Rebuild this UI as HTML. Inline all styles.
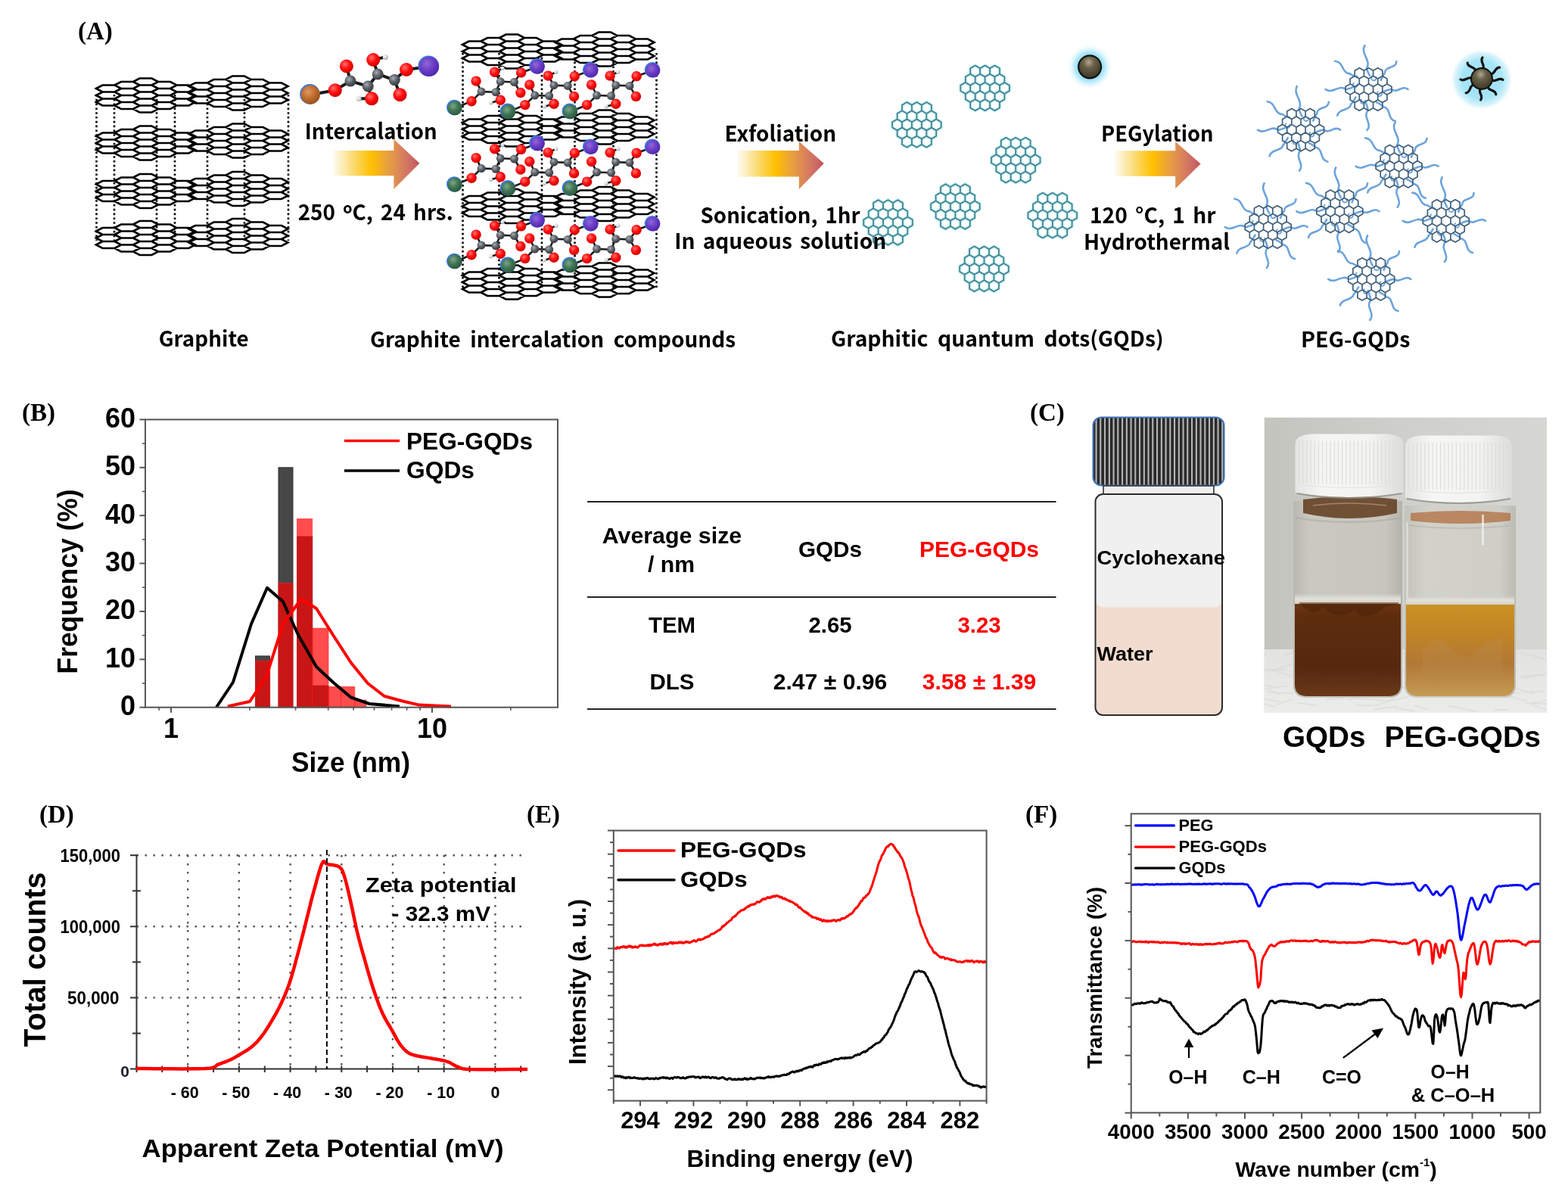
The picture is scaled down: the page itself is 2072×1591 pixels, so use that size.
<!DOCTYPE html>
<html><head><meta charset="utf-8"><title>PEG-GQDs figure</title>
<style>html,body{margin:0;padding:0;background:#fff;}svg{display:block;}</style></head>
<body><svg width="2072" height="1591" viewBox="0 0 2072 1591">
<rect width="2072" height="1591" fill="#fff"/>
<defs><radialGradient id="atO" cx="0.38" cy="0.35" r="0.65"><stop offset="0" stop-color="#ff7070"/><stop offset="0.55" stop-color="#ff0d0d"/><stop offset="1" stop-color="#d00000"/></radialGradient><radialGradient id="atC" cx="0.38" cy="0.35" r="0.65"><stop offset="0" stop-color="#a8adb3"/><stop offset="0.55" stop-color="#5a5f66"/><stop offset="1" stop-color="#3a3d42"/></radialGradient><radialGradient id="atH" cx="0.38" cy="0.35" r="0.65"><stop offset="0" stop-color="#ffffff"/><stop offset="0.55" stop-color="#d8dadc"/><stop offset="1" stop-color="#a0a4a8"/></radialGradient><radialGradient id="atG" cx="0.38" cy="0.35" r="0.65"><stop offset="0" stop-color="#7aa88a"/><stop offset="0.55" stop-color="#3f7352"/><stop offset="1" stop-color="#2c5a3e"/></radialGradient><radialGradient id="atP" cx="0.38" cy="0.35" r="0.65"><stop offset="0" stop-color="#8e6ad8"/><stop offset="0.55" stop-color="#6c3cc4"/><stop offset="1" stop-color="#5028b0"/></radialGradient><radialGradient id="atB" cx="0.38" cy="0.35" r="0.65"><stop offset="0" stop-color="#dc9a60"/><stop offset="0.55" stop-color="#c06c2e"/><stop offset="1" stop-color="#9a5420"/></radialGradient><linearGradient id="arrowg" x1="0" y1="0" x2="1" y2="0"><stop offset="0" stop-color="#fffaf0"/><stop offset="0.08" stop-color="#fdf0c8"/><stop offset="0.22" stop-color="#fbdc78"/><stop offset="0.44" stop-color="#ffc000"/><stop offset="0.62" stop-color="#e9a23c"/><stop offset="0.8" stop-color="#d8805e"/><stop offset="0.92" stop-color="#cc6868"/><stop offset="1" stop-color="#c4504c"/></linearGradient><radialGradient id="glow" cx="0.5" cy="0.5" r="0.5"><stop offset="0" stop-color="#8fdcf8"/><stop offset="0.6" stop-color="#a6e5fa"/><stop offset="1" stop-color="#ffffff" stop-opacity="0"/></radialGradient><radialGradient id="ballg" cx="0.45" cy="0.3" r="0.7"><stop offset="0" stop-color="#b0a890"/><stop offset="0.35" stop-color="#6a6248"/><stop offset="1" stop-color="#3a3526"/></radialGradient></defs>
<line x1="127.5" y1="125" x2="127.5" y2="318" stroke="#000" stroke-width="2.6" stroke-dasharray="2.6,3.2"/>
<line x1="151" y1="125" x2="151" y2="318" stroke="#000" stroke-width="2.6" stroke-dasharray="2.6,3.2"/>
<line x1="207" y1="125" x2="207" y2="318" stroke="#000" stroke-width="2.6" stroke-dasharray="2.6,3.2"/>
<line x1="231" y1="125" x2="231" y2="318" stroke="#000" stroke-width="2.6" stroke-dasharray="2.6,3.2"/>
<line x1="274" y1="125" x2="274" y2="318" stroke="#000" stroke-width="2.6" stroke-dasharray="2.6,3.2"/>
<line x1="323" y1="125" x2="323" y2="318" stroke="#000" stroke-width="2.6" stroke-dasharray="2.6,3.2"/>
<line x1="381" y1="125" x2="381" y2="318" stroke="#000" stroke-width="2.6" stroke-dasharray="2.6,3.2"/>
<path d="M127,117 135.5,112.5 151.5,112.5 160,117 151.5,121.5 135.5,121.5Z M127,126 135.5,121.5 151.5,121.5 160,126 151.5,130.5 135.5,130.5Z M127,135 135.5,130.5 151.5,130.5 160,135 151.5,139.5 135.5,139.5Z M151.5,112.5 160,108 176,108 184.5,112.5 176,117 160,117Z M151.5,121.5 160,117 176,117 184.5,121.5 176,126 160,126Z M151.5,130.5 160,126 176,126 184.5,130.5 176,135 160,135Z M151.5,139.5 160,135 176,135 184.5,139.5 176,144 160,144Z M176,108 184.5,103.5 200.5,103.5 209,108 200.5,112.5 184.5,112.5Z M176,117 184.5,112.5 200.5,112.5 209,117 200.5,121.5 184.5,121.5Z M176,126 184.5,121.5 200.5,121.5 209,126 200.5,130.5 184.5,130.5Z M176,135 184.5,130.5 200.5,130.5 209,135 200.5,139.5 184.5,139.5Z M176,144 184.5,139.5 200.5,139.5 209,144 200.5,148.5 184.5,148.5Z M200.5,112.5 209,108 225,108 233.5,112.5 225,117 209,117Z M200.5,121.5 209,117 225,117 233.5,121.5 225,126 209,126Z M200.5,130.5 209,126 225,126 233.5,130.5 225,135 209,135Z M200.5,139.5 209,135 225,135 233.5,139.5 225,144 209,144Z M225,117 233.5,112.5 249.5,112.5 258,117 249.5,121.5 233.5,121.5Z M225,126 233.5,121.5 249.5,121.5 258,126 249.5,130.5 233.5,130.5Z M225,135 233.5,130.5 249.5,130.5 258,135 249.5,139.5 233.5,139.5Z M249.5,114 258,109.5 274,109.5 282.5,114 274,118.5 258,118.5Z M249.5,123 258,118.5 274,118.5 282.5,123 274,127.5 258,127.5Z M249.5,132 258,127.5 274,127.5 282.5,132 274,136.5 258,136.5Z M274,109.5 282.5,105 298.5,105 307,109.5 298.5,114 282.5,114Z M274,118.5 282.5,114 298.5,114 307,118.5 298.5,123 282.5,123Z M274,127.5 282.5,123 298.5,123 307,127.5 298.5,132 282.5,132Z M274,136.5 282.5,132 298.5,132 307,136.5 298.5,141 282.5,141Z M298.5,105 307,100.5 323,100.5 331.5,105 323,109.5 307,109.5Z M298.5,114 307,109.5 323,109.5 331.5,114 323,118.5 307,118.5Z M298.5,123 307,118.5 323,118.5 331.5,123 323,127.5 307,127.5Z M298.5,132 307,127.5 323,127.5 331.5,132 323,136.5 307,136.5Z M298.5,141 307,136.5 323,136.5 331.5,141 323,145.5 307,145.5Z M323,109.5 331.5,105 347.5,105 356,109.5 347.5,114 331.5,114Z M323,118.5 331.5,114 347.5,114 356,118.5 347.5,123 331.5,123Z M323,127.5 331.5,123 347.5,123 356,127.5 347.5,132 331.5,132Z M323,136.5 331.5,132 347.5,132 356,136.5 347.5,141 331.5,141Z M347.5,114 356,109.5 372,109.5 380.5,114 372,118.5 356,118.5Z M347.5,123 356,118.5 372,118.5 380.5,123 372,127.5 356,127.5Z M347.5,132 356,127.5 372,127.5 380.5,132 372,136.5 356,136.5Z" fill="none" stroke="#000" stroke-width="2.6" stroke-linejoin="miter"/>
<path d="M127,180 135.5,175.5 151.5,175.5 160,180 151.5,184.5 135.5,184.5Z M127,189 135.5,184.5 151.5,184.5 160,189 151.5,193.5 135.5,193.5Z M127,198 135.5,193.5 151.5,193.5 160,198 151.5,202.5 135.5,202.5Z M151.5,175.5 160,171 176,171 184.5,175.5 176,180 160,180Z M151.5,184.5 160,180 176,180 184.5,184.5 176,189 160,189Z M151.5,193.5 160,189 176,189 184.5,193.5 176,198 160,198Z M151.5,202.5 160,198 176,198 184.5,202.5 176,207 160,207Z M176,171 184.5,166.5 200.5,166.5 209,171 200.5,175.5 184.5,175.5Z M176,180 184.5,175.5 200.5,175.5 209,180 200.5,184.5 184.5,184.5Z M176,189 184.5,184.5 200.5,184.5 209,189 200.5,193.5 184.5,193.5Z M176,198 184.5,193.5 200.5,193.5 209,198 200.5,202.5 184.5,202.5Z M176,207 184.5,202.5 200.5,202.5 209,207 200.5,211.5 184.5,211.5Z M200.5,175.5 209,171 225,171 233.5,175.5 225,180 209,180Z M200.5,184.5 209,180 225,180 233.5,184.5 225,189 209,189Z M200.5,193.5 209,189 225,189 233.5,193.5 225,198 209,198Z M200.5,202.5 209,198 225,198 233.5,202.5 225,207 209,207Z M225,180 233.5,175.5 249.5,175.5 258,180 249.5,184.5 233.5,184.5Z M225,189 233.5,184.5 249.5,184.5 258,189 249.5,193.5 233.5,193.5Z M225,198 233.5,193.5 249.5,193.5 258,198 249.5,202.5 233.5,202.5Z M249.5,177 258,172.5 274,172.5 282.5,177 274,181.5 258,181.5Z M249.5,186 258,181.5 274,181.5 282.5,186 274,190.5 258,190.5Z M249.5,195 258,190.5 274,190.5 282.5,195 274,199.5 258,199.5Z M274,172.5 282.5,168 298.5,168 307,172.5 298.5,177 282.5,177Z M274,181.5 282.5,177 298.5,177 307,181.5 298.5,186 282.5,186Z M274,190.5 282.5,186 298.5,186 307,190.5 298.5,195 282.5,195Z M274,199.5 282.5,195 298.5,195 307,199.5 298.5,204 282.5,204Z M298.5,168 307,163.5 323,163.5 331.5,168 323,172.5 307,172.5Z M298.5,177 307,172.5 323,172.5 331.5,177 323,181.5 307,181.5Z M298.5,186 307,181.5 323,181.5 331.5,186 323,190.5 307,190.5Z M298.5,195 307,190.5 323,190.5 331.5,195 323,199.5 307,199.5Z M298.5,204 307,199.5 323,199.5 331.5,204 323,208.5 307,208.5Z M323,172.5 331.5,168 347.5,168 356,172.5 347.5,177 331.5,177Z M323,181.5 331.5,177 347.5,177 356,181.5 347.5,186 331.5,186Z M323,190.5 331.5,186 347.5,186 356,190.5 347.5,195 331.5,195Z M323,199.5 331.5,195 347.5,195 356,199.5 347.5,204 331.5,204Z M347.5,177 356,172.5 372,172.5 380.5,177 372,181.5 356,181.5Z M347.5,186 356,181.5 372,181.5 380.5,186 372,190.5 356,190.5Z M347.5,195 356,190.5 372,190.5 380.5,195 372,199.5 356,199.5Z" fill="none" stroke="#000" stroke-width="2.6" stroke-linejoin="miter"/>
<path d="M127,243.5 135.5,239 151.5,239 160,243.5 151.5,248 135.5,248Z M127,252.5 135.5,248 151.5,248 160,252.5 151.5,257 135.5,257Z M127,261.5 135.5,257 151.5,257 160,261.5 151.5,266 135.5,266Z M151.5,239 160,234.5 176,234.5 184.5,239 176,243.5 160,243.5Z M151.5,248 160,243.5 176,243.5 184.5,248 176,252.5 160,252.5Z M151.5,257 160,252.5 176,252.5 184.5,257 176,261.5 160,261.5Z M151.5,266 160,261.5 176,261.5 184.5,266 176,270.5 160,270.5Z M176,234.5 184.5,230 200.5,230 209,234.5 200.5,239 184.5,239Z M176,243.5 184.5,239 200.5,239 209,243.5 200.5,248 184.5,248Z M176,252.5 184.5,248 200.5,248 209,252.5 200.5,257 184.5,257Z M176,261.5 184.5,257 200.5,257 209,261.5 200.5,266 184.5,266Z M176,270.5 184.5,266 200.5,266 209,270.5 200.5,275 184.5,275Z M200.5,239 209,234.5 225,234.5 233.5,239 225,243.5 209,243.5Z M200.5,248 209,243.5 225,243.5 233.5,248 225,252.5 209,252.5Z M200.5,257 209,252.5 225,252.5 233.5,257 225,261.5 209,261.5Z M200.5,266 209,261.5 225,261.5 233.5,266 225,270.5 209,270.5Z M225,243.5 233.5,239 249.5,239 258,243.5 249.5,248 233.5,248Z M225,252.5 233.5,248 249.5,248 258,252.5 249.5,257 233.5,257Z M225,261.5 233.5,257 249.5,257 258,261.5 249.5,266 233.5,266Z M249.5,240.5 258,236 274,236 282.5,240.5 274,245 258,245Z M249.5,249.5 258,245 274,245 282.5,249.5 274,254 258,254Z M249.5,258.5 258,254 274,254 282.5,258.5 274,263 258,263Z M274,236 282.5,231.5 298.5,231.5 307,236 298.5,240.5 282.5,240.5Z M274,245 282.5,240.5 298.5,240.5 307,245 298.5,249.5 282.5,249.5Z M274,254 282.5,249.5 298.5,249.5 307,254 298.5,258.5 282.5,258.5Z M274,263 282.5,258.5 298.5,258.5 307,263 298.5,267.5 282.5,267.5Z M298.5,231.5 307,227 323,227 331.5,231.5 323,236 307,236Z M298.5,240.5 307,236 323,236 331.5,240.5 323,245 307,245Z M298.5,249.5 307,245 323,245 331.5,249.5 323,254 307,254Z M298.5,258.5 307,254 323,254 331.5,258.5 323,263 307,263Z M298.5,267.5 307,263 323,263 331.5,267.5 323,272 307,272Z M323,236 331.5,231.5 347.5,231.5 356,236 347.5,240.5 331.5,240.5Z M323,245 331.5,240.5 347.5,240.5 356,245 347.5,249.5 331.5,249.5Z M323,254 331.5,249.5 347.5,249.5 356,254 347.5,258.5 331.5,258.5Z M323,263 331.5,258.5 347.5,258.5 356,263 347.5,267.5 331.5,267.5Z M347.5,240.5 356,236 372,236 380.5,240.5 372,245 356,245Z M347.5,249.5 356,245 372,245 380.5,249.5 372,254 356,254Z M347.5,258.5 356,254 372,254 380.5,258.5 372,263 356,263Z" fill="none" stroke="#000" stroke-width="2.6" stroke-linejoin="miter"/>
<path d="M127,305.5 135.5,301 151.5,301 160,305.5 151.5,310 135.5,310Z M127,314.5 135.5,310 151.5,310 160,314.5 151.5,319 135.5,319Z M127,323.5 135.5,319 151.5,319 160,323.5 151.5,328 135.5,328Z M151.5,301 160,296.5 176,296.5 184.5,301 176,305.5 160,305.5Z M151.5,310 160,305.5 176,305.5 184.5,310 176,314.5 160,314.5Z M151.5,319 160,314.5 176,314.5 184.5,319 176,323.5 160,323.5Z M151.5,328 160,323.5 176,323.5 184.5,328 176,332.5 160,332.5Z M176,296.5 184.5,292 200.5,292 209,296.5 200.5,301 184.5,301Z M176,305.5 184.5,301 200.5,301 209,305.5 200.5,310 184.5,310Z M176,314.5 184.5,310 200.5,310 209,314.5 200.5,319 184.5,319Z M176,323.5 184.5,319 200.5,319 209,323.5 200.5,328 184.5,328Z M176,332.5 184.5,328 200.5,328 209,332.5 200.5,337 184.5,337Z M200.5,301 209,296.5 225,296.5 233.5,301 225,305.5 209,305.5Z M200.5,310 209,305.5 225,305.5 233.5,310 225,314.5 209,314.5Z M200.5,319 209,314.5 225,314.5 233.5,319 225,323.5 209,323.5Z M200.5,328 209,323.5 225,323.5 233.5,328 225,332.5 209,332.5Z M225,305.5 233.5,301 249.5,301 258,305.5 249.5,310 233.5,310Z M225,314.5 233.5,310 249.5,310 258,314.5 249.5,319 233.5,319Z M225,323.5 233.5,319 249.5,319 258,323.5 249.5,328 233.5,328Z M249.5,302.5 258,298 274,298 282.5,302.5 274,307 258,307Z M249.5,311.5 258,307 274,307 282.5,311.5 274,316 258,316Z M249.5,320.5 258,316 274,316 282.5,320.5 274,325 258,325Z M274,298 282.5,293.5 298.5,293.5 307,298 298.5,302.5 282.5,302.5Z M274,307 282.5,302.5 298.5,302.5 307,307 298.5,311.5 282.5,311.5Z M274,316 282.5,311.5 298.5,311.5 307,316 298.5,320.5 282.5,320.5Z M274,325 282.5,320.5 298.5,320.5 307,325 298.5,329.5 282.5,329.5Z M298.5,293.5 307,289 323,289 331.5,293.5 323,298 307,298Z M298.5,302.5 307,298 323,298 331.5,302.5 323,307 307,307Z M298.5,311.5 307,307 323,307 331.5,311.5 323,316 307,316Z M298.5,320.5 307,316 323,316 331.5,320.5 323,325 307,325Z M298.5,329.5 307,325 323,325 331.5,329.5 323,334 307,334Z M323,298 331.5,293.5 347.5,293.5 356,298 347.5,302.5 331.5,302.5Z M323,307 331.5,302.5 347.5,302.5 356,307 347.5,311.5 331.5,311.5Z M323,316 331.5,311.5 347.5,311.5 356,316 347.5,320.5 331.5,320.5Z M323,325 331.5,320.5 347.5,320.5 356,325 347.5,329.5 331.5,329.5Z M347.5,302.5 356,298 372,298 380.5,302.5 372,307 356,307Z M347.5,311.5 356,307 372,307 380.5,311.5 372,316 356,316Z M347.5,320.5 356,316 372,316 380.5,320.5 372,325 356,325Z" fill="none" stroke="#000" stroke-width="2.6" stroke-linejoin="miter"/>
<line x1="410.3" y1="125.2" x2="442.8" y2="119.2" stroke="#1a1a1a" stroke-width="4" />
<line x1="442.8" y1="119.2" x2="463" y2="107.1" stroke="#1a1a1a" stroke-width="4" />
<line x1="463" y1="107.1" x2="457.9" y2="87.5" stroke="#1a1a1a" stroke-width="4" />
<line x1="463" y1="107.1" x2="486.3" y2="114" stroke="#1a1a1a" stroke-width="4" />
<line x1="486.3" y1="114" x2="491.1" y2="130.3" stroke="#1a1a1a" stroke-width="4" />
<line x1="491.1" y1="130.3" x2="474.2" y2="130.3" stroke="#1a1a1a" stroke-width="4" />
<line x1="486.3" y1="114" x2="499.2" y2="98" stroke="#1a1a1a" stroke-width="4" />
<line x1="499.2" y1="98" x2="493.2" y2="79" stroke="#1a1a1a" stroke-width="4" />
<line x1="493.2" y1="79" x2="509.2" y2="75.4" stroke="#1a1a1a" stroke-width="4" />
<line x1="499.2" y1="98" x2="521.3" y2="105.6" stroke="#1a1a1a" stroke-width="4" />
<line x1="521.3" y1="105.6" x2="528.5" y2="125.2" stroke="#1a1a1a" stroke-width="4" />
<line x1="521.3" y1="105.6" x2="537" y2="92" stroke="#1a1a1a" stroke-width="4" />
<line x1="537" y1="92" x2="567.1" y2="88.1" stroke="#1a1a1a" stroke-width="4" />
<circle cx="409.5" cy="124.4" r="13.3" fill="#3a78e0"/>
<circle cx="410.3" cy="125.2" r="12.5" fill="url(#atB)"/>
<circle cx="442.8" cy="119.2" r="9" fill="url(#atO)"/>
<circle cx="463" cy="107.1" r="7.5" fill="url(#atC)"/>
<circle cx="457.9" cy="87.5" r="9" fill="url(#atO)"/>
<circle cx="486.3" cy="114" r="7.5" fill="url(#atC)"/>
<circle cx="491.1" cy="130.3" r="9" fill="url(#atO)"/>
<circle cx="474.2" cy="130.3" r="3.5" fill="url(#atH)"/>
<circle cx="499.2" cy="98" r="7.5" fill="url(#atC)"/>
<circle cx="493.2" cy="79" r="9" fill="url(#atO)"/>
<circle cx="509.2" cy="75.4" r="3.5" fill="url(#atH)"/>
<circle cx="521.3" cy="105.6" r="7.5" fill="url(#atC)"/>
<circle cx="528.5" cy="125.2" r="9" fill="url(#atO)"/>
<circle cx="537" cy="92" r="9" fill="url(#atO)"/>
<circle cx="566.3" cy="87.3" r="13.8" fill="#3a78e0"/>
<circle cx="567.1" cy="88.1" r="13" fill="url(#atP)"/>
<line x1="611.5" y1="70" x2="611.5" y2="380" stroke="#000" stroke-width="2.6" stroke-dasharray="2.6,3.2"/>
<line x1="659.5" y1="70" x2="659.5" y2="380" stroke="#000" stroke-width="2.6" stroke-dasharray="2.6,3.2"/>
<line x1="716" y1="70" x2="716" y2="380" stroke="#000" stroke-width="2.6" stroke-dasharray="2.6,3.2"/>
<line x1="759.5" y1="70" x2="759.5" y2="380" stroke="#000" stroke-width="2.6" stroke-dasharray="2.6,3.2"/>
<line x1="810.5" y1="70" x2="810.5" y2="380" stroke="#000" stroke-width="2.6" stroke-dasharray="2.6,3.2"/>
<line x1="867.5" y1="70" x2="867.5" y2="380" stroke="#000" stroke-width="2.6" stroke-dasharray="2.6,3.2"/>
<path d="M611,59 619.5,54.5 635.5,54.5 644,59 635.5,63.5 619.5,63.5Z M611,68 619.5,63.5 635.5,63.5 644,68 635.5,72.5 619.5,72.5Z M611,77 619.5,72.5 635.5,72.5 644,77 635.5,81.5 619.5,81.5Z M635.5,54.5 644,50 660,50 668.5,54.5 660,59 644,59Z M635.5,63.5 644,59 660,59 668.5,63.5 660,68 644,68Z M635.5,72.5 644,68 660,68 668.5,72.5 660,77 644,77Z M635.5,81.5 644,77 660,77 668.5,81.5 660,86 644,86Z M660,50 668.5,45.5 684.5,45.5 693,50 684.5,54.5 668.5,54.5Z M660,59 668.5,54.5 684.5,54.5 693,59 684.5,63.5 668.5,63.5Z M660,68 668.5,63.5 684.5,63.5 693,68 684.5,72.5 668.5,72.5Z M660,77 668.5,72.5 684.5,72.5 693,77 684.5,81.5 668.5,81.5Z M660,86 668.5,81.5 684.5,81.5 693,86 684.5,90.5 668.5,90.5Z M684.5,54.5 693,50 709,50 717.5,54.5 709,59 693,59Z M684.5,63.5 693,59 709,59 717.5,63.5 709,68 693,68Z M684.5,72.5 693,68 709,68 717.5,72.5 709,77 693,77Z M684.5,81.5 693,77 709,77 717.5,81.5 709,86 693,86Z M709,59 717.5,54.5 733.5,54.5 742,59 733.5,63.5 717.5,63.5Z M709,68 717.5,63.5 733.5,63.5 742,68 733.5,72.5 717.5,72.5Z M709,77 717.5,72.5 733.5,72.5 742,77 733.5,81.5 717.5,81.5Z M733.5,56 742,51.5 758,51.5 766.5,56 758,60.5 742,60.5Z M733.5,65 742,60.5 758,60.5 766.5,65 758,69.5 742,69.5Z M733.5,74 742,69.5 758,69.5 766.5,74 758,78.5 742,78.5Z M758,51.5 766.5,47 782.5,47 791,51.5 782.5,56 766.5,56Z M758,60.5 766.5,56 782.5,56 791,60.5 782.5,65 766.5,65Z M758,69.5 766.5,65 782.5,65 791,69.5 782.5,74 766.5,74Z M758,78.5 766.5,74 782.5,74 791,78.5 782.5,83 766.5,83Z M782.5,47 791,42.5 807,42.5 815.5,47 807,51.5 791,51.5Z M782.5,56 791,51.5 807,51.5 815.5,56 807,60.5 791,60.5Z M782.5,65 791,60.5 807,60.5 815.5,65 807,69.5 791,69.5Z M782.5,74 791,69.5 807,69.5 815.5,74 807,78.5 791,78.5Z M782.5,83 791,78.5 807,78.5 815.5,83 807,87.5 791,87.5Z M807,51.5 815.5,47 831.5,47 840,51.5 831.5,56 815.5,56Z M807,60.5 815.5,56 831.5,56 840,60.5 831.5,65 815.5,65Z M807,69.5 815.5,65 831.5,65 840,69.5 831.5,74 815.5,74Z M807,78.5 815.5,74 831.5,74 840,78.5 831.5,83 815.5,83Z M831.5,56 840,51.5 856,51.5 864.5,56 856,60.5 840,60.5Z M831.5,65 840,60.5 856,60.5 864.5,65 856,69.5 840,69.5Z M831.5,74 840,69.5 856,69.5 864.5,74 856,78.5 840,78.5Z" fill="none" stroke="#000" stroke-width="2.6" stroke-linejoin="miter"/>
<path d="M611,162 619.5,157.5 635.5,157.5 644,162 635.5,166.5 619.5,166.5Z M611,171 619.5,166.5 635.5,166.5 644,171 635.5,175.5 619.5,175.5Z M611,180 619.5,175.5 635.5,175.5 644,180 635.5,184.5 619.5,184.5Z M635.5,157.5 644,153 660,153 668.5,157.5 660,162 644,162Z M635.5,166.5 644,162 660,162 668.5,166.5 660,171 644,171Z M635.5,175.5 644,171 660,171 668.5,175.5 660,180 644,180Z M635.5,184.5 644,180 660,180 668.5,184.5 660,189 644,189Z M660,153 668.5,148.5 684.5,148.5 693,153 684.5,157.5 668.5,157.5Z M660,162 668.5,157.5 684.5,157.5 693,162 684.5,166.5 668.5,166.5Z M660,171 668.5,166.5 684.5,166.5 693,171 684.5,175.5 668.5,175.5Z M660,180 668.5,175.5 684.5,175.5 693,180 684.5,184.5 668.5,184.5Z M660,189 668.5,184.5 684.5,184.5 693,189 684.5,193.5 668.5,193.5Z M684.5,157.5 693,153 709,153 717.5,157.5 709,162 693,162Z M684.5,166.5 693,162 709,162 717.5,166.5 709,171 693,171Z M684.5,175.5 693,171 709,171 717.5,175.5 709,180 693,180Z M684.5,184.5 693,180 709,180 717.5,184.5 709,189 693,189Z M709,162 717.5,157.5 733.5,157.5 742,162 733.5,166.5 717.5,166.5Z M709,171 717.5,166.5 733.5,166.5 742,171 733.5,175.5 717.5,175.5Z M709,180 717.5,175.5 733.5,175.5 742,180 733.5,184.5 717.5,184.5Z M733.5,159 742,154.5 758,154.5 766.5,159 758,163.5 742,163.5Z M733.5,168 742,163.5 758,163.5 766.5,168 758,172.5 742,172.5Z M733.5,177 742,172.5 758,172.5 766.5,177 758,181.5 742,181.5Z M758,154.5 766.5,150 782.5,150 791,154.5 782.5,159 766.5,159Z M758,163.5 766.5,159 782.5,159 791,163.5 782.5,168 766.5,168Z M758,172.5 766.5,168 782.5,168 791,172.5 782.5,177 766.5,177Z M758,181.5 766.5,177 782.5,177 791,181.5 782.5,186 766.5,186Z M782.5,150 791,145.5 807,145.5 815.5,150 807,154.5 791,154.5Z M782.5,159 791,154.5 807,154.5 815.5,159 807,163.5 791,163.5Z M782.5,168 791,163.5 807,163.5 815.5,168 807,172.5 791,172.5Z M782.5,177 791,172.5 807,172.5 815.5,177 807,181.5 791,181.5Z M782.5,186 791,181.5 807,181.5 815.5,186 807,190.5 791,190.5Z M807,154.5 815.5,150 831.5,150 840,154.5 831.5,159 815.5,159Z M807,163.5 815.5,159 831.5,159 840,163.5 831.5,168 815.5,168Z M807,172.5 815.5,168 831.5,168 840,172.5 831.5,177 815.5,177Z M807,181.5 815.5,177 831.5,177 840,181.5 831.5,186 815.5,186Z M831.5,159 840,154.5 856,154.5 864.5,159 856,163.5 840,163.5Z M831.5,168 840,163.5 856,163.5 864.5,168 856,172.5 840,172.5Z M831.5,177 840,172.5 856,172.5 864.5,177 856,181.5 840,181.5Z" fill="none" stroke="#000" stroke-width="2.6" stroke-linejoin="miter"/>
<path d="M611,263.5 619.5,259 635.5,259 644,263.5 635.5,268 619.5,268Z M611,272.5 619.5,268 635.5,268 644,272.5 635.5,277 619.5,277Z M611,281.5 619.5,277 635.5,277 644,281.5 635.5,286 619.5,286Z M635.5,259 644,254.5 660,254.5 668.5,259 660,263.5 644,263.5Z M635.5,268 644,263.5 660,263.5 668.5,268 660,272.5 644,272.5Z M635.5,277 644,272.5 660,272.5 668.5,277 660,281.5 644,281.5Z M635.5,286 644,281.5 660,281.5 668.5,286 660,290.5 644,290.5Z M660,254.5 668.5,250 684.5,250 693,254.5 684.5,259 668.5,259Z M660,263.5 668.5,259 684.5,259 693,263.5 684.5,268 668.5,268Z M660,272.5 668.5,268 684.5,268 693,272.5 684.5,277 668.5,277Z M660,281.5 668.5,277 684.5,277 693,281.5 684.5,286 668.5,286Z M660,290.5 668.5,286 684.5,286 693,290.5 684.5,295 668.5,295Z M684.5,259 693,254.5 709,254.5 717.5,259 709,263.5 693,263.5Z M684.5,268 693,263.5 709,263.5 717.5,268 709,272.5 693,272.5Z M684.5,277 693,272.5 709,272.5 717.5,277 709,281.5 693,281.5Z M684.5,286 693,281.5 709,281.5 717.5,286 709,290.5 693,290.5Z M709,263.5 717.5,259 733.5,259 742,263.5 733.5,268 717.5,268Z M709,272.5 717.5,268 733.5,268 742,272.5 733.5,277 717.5,277Z M709,281.5 717.5,277 733.5,277 742,281.5 733.5,286 717.5,286Z M733.5,260.5 742,256 758,256 766.5,260.5 758,265 742,265Z M733.5,269.5 742,265 758,265 766.5,269.5 758,274 742,274Z M733.5,278.5 742,274 758,274 766.5,278.5 758,283 742,283Z M758,256 766.5,251.5 782.5,251.5 791,256 782.5,260.5 766.5,260.5Z M758,265 766.5,260.5 782.5,260.5 791,265 782.5,269.5 766.5,269.5Z M758,274 766.5,269.5 782.5,269.5 791,274 782.5,278.5 766.5,278.5Z M758,283 766.5,278.5 782.5,278.5 791,283 782.5,287.5 766.5,287.5Z M782.5,251.5 791,247 807,247 815.5,251.5 807,256 791,256Z M782.5,260.5 791,256 807,256 815.5,260.5 807,265 791,265Z M782.5,269.5 791,265 807,265 815.5,269.5 807,274 791,274Z M782.5,278.5 791,274 807,274 815.5,278.5 807,283 791,283Z M782.5,287.5 791,283 807,283 815.5,287.5 807,292 791,292Z M807,256 815.5,251.5 831.5,251.5 840,256 831.5,260.5 815.5,260.5Z M807,265 815.5,260.5 831.5,260.5 840,265 831.5,269.5 815.5,269.5Z M807,274 815.5,269.5 831.5,269.5 840,274 831.5,278.5 815.5,278.5Z M807,283 815.5,278.5 831.5,278.5 840,283 831.5,287.5 815.5,287.5Z M831.5,260.5 840,256 856,256 864.5,260.5 856,265 840,265Z M831.5,269.5 840,265 856,265 864.5,269.5 856,274 840,274Z M831.5,278.5 840,274 856,274 864.5,278.5 856,283 840,283Z" fill="none" stroke="#000" stroke-width="2.6" stroke-linejoin="miter"/>
<path d="M611,364 619.5,359.5 635.5,359.5 644,364 635.5,368.5 619.5,368.5Z M611,373 619.5,368.5 635.5,368.5 644,373 635.5,377.5 619.5,377.5Z M611,382 619.5,377.5 635.5,377.5 644,382 635.5,386.5 619.5,386.5Z M635.5,359.5 644,355 660,355 668.5,359.5 660,364 644,364Z M635.5,368.5 644,364 660,364 668.5,368.5 660,373 644,373Z M635.5,377.5 644,373 660,373 668.5,377.5 660,382 644,382Z M635.5,386.5 644,382 660,382 668.5,386.5 660,391 644,391Z M660,355 668.5,350.5 684.5,350.5 693,355 684.5,359.5 668.5,359.5Z M660,364 668.5,359.5 684.5,359.5 693,364 684.5,368.5 668.5,368.5Z M660,373 668.5,368.5 684.5,368.5 693,373 684.5,377.5 668.5,377.5Z M660,382 668.5,377.5 684.5,377.5 693,382 684.5,386.5 668.5,386.5Z M660,391 668.5,386.5 684.5,386.5 693,391 684.5,395.5 668.5,395.5Z M684.5,359.5 693,355 709,355 717.5,359.5 709,364 693,364Z M684.5,368.5 693,364 709,364 717.5,368.5 709,373 693,373Z M684.5,377.5 693,373 709,373 717.5,377.5 709,382 693,382Z M684.5,386.5 693,382 709,382 717.5,386.5 709,391 693,391Z M709,364 717.5,359.5 733.5,359.5 742,364 733.5,368.5 717.5,368.5Z M709,373 717.5,368.5 733.5,368.5 742,373 733.5,377.5 717.5,377.5Z M709,382 717.5,377.5 733.5,377.5 742,382 733.5,386.5 717.5,386.5Z M733.5,361 742,356.5 758,356.5 766.5,361 758,365.5 742,365.5Z M733.5,370 742,365.5 758,365.5 766.5,370 758,374.5 742,374.5Z M733.5,379 742,374.5 758,374.5 766.5,379 758,383.5 742,383.5Z M758,356.5 766.5,352 782.5,352 791,356.5 782.5,361 766.5,361Z M758,365.5 766.5,361 782.5,361 791,365.5 782.5,370 766.5,370Z M758,374.5 766.5,370 782.5,370 791,374.5 782.5,379 766.5,379Z M758,383.5 766.5,379 782.5,379 791,383.5 782.5,388 766.5,388Z M782.5,352 791,347.5 807,347.5 815.5,352 807,356.5 791,356.5Z M782.5,361 791,356.5 807,356.5 815.5,361 807,365.5 791,365.5Z M782.5,370 791,365.5 807,365.5 815.5,370 807,374.5 791,374.5Z M782.5,379 791,374.5 807,374.5 815.5,379 807,383.5 791,383.5Z M782.5,388 791,383.5 807,383.5 815.5,388 807,392.5 791,392.5Z M807,356.5 815.5,352 831.5,352 840,356.5 831.5,361 815.5,361Z M807,365.5 815.5,361 831.5,361 840,365.5 831.5,370 815.5,370Z M807,374.5 815.5,370 831.5,370 840,374.5 831.5,379 815.5,379Z M807,383.5 815.5,379 831.5,379 840,383.5 831.5,388 815.5,388Z M831.5,361 840,356.5 856,356.5 864.5,361 856,365.5 840,365.5Z M831.5,370 840,365.5 856,365.5 864.5,370 856,374.5 840,374.5Z M831.5,379 840,374.5 856,374.5 864.5,379 856,383.5 840,383.5Z" fill="none" stroke="#000" stroke-width="2.6" stroke-linejoin="miter"/>
<line x1="601.1" y1="142.8" x2="623.1" y2="133.7" stroke="#1a1a1a" stroke-width="2.6" />
<line x1="623.1" y1="133.7" x2="636.1" y2="121.1" stroke="#1a1a1a" stroke-width="2.6" />
<line x1="636.1" y1="121.1" x2="629.1" y2="107.1" stroke="#1a1a1a" stroke-width="2.6" />
<line x1="636.1" y1="121.1" x2="655" y2="121.8" stroke="#1a1a1a" stroke-width="2.6" />
<line x1="655" y1="121.8" x2="661.3" y2="132.3" stroke="#1a1a1a" stroke-width="2.6" />
<line x1="661.3" y1="132.3" x2="648.7" y2="135.8" stroke="#1a1a1a" stroke-width="2.6" />
<line x1="655" y1="121.8" x2="661.3" y2="107.8" stroke="#1a1a1a" stroke-width="2.6" />
<line x1="661.3" y1="107.8" x2="653.6" y2="95.2" stroke="#1a1a1a" stroke-width="2.6" />
<line x1="653.6" y1="95.2" x2="664.1" y2="90.3" stroke="#1a1a1a" stroke-width="2.6" />
<line x1="661.3" y1="107.8" x2="679.5" y2="108.5" stroke="#1a1a1a" stroke-width="2.6" />
<line x1="679.5" y1="108.5" x2="687.9" y2="122.5" stroke="#1a1a1a" stroke-width="2.6" />
<line x1="679.5" y1="108.5" x2="688.6" y2="95.9" stroke="#1a1a1a" stroke-width="2.6" />
<line x1="688.6" y1="95.9" x2="710.3" y2="88.2" stroke="#1a1a1a" stroke-width="2.6" />
<circle cx="600.3" cy="142" r="10.3" fill="#3a78e0"/>
<circle cx="601.1" cy="142.8" r="9.5" fill="url(#atG)"/>
<circle cx="623.1" cy="133.7" r="6.7" fill="url(#atO)"/>
<circle cx="636.1" cy="121.1" r="5.5" fill="url(#atC)"/>
<circle cx="629.1" cy="107.1" r="6.7" fill="url(#atO)"/>
<circle cx="655" cy="121.8" r="5.5" fill="url(#atC)"/>
<circle cx="661.3" cy="132.3" r="6.7" fill="url(#atO)"/>
<circle cx="648.7" cy="135.8" r="2.6" fill="url(#atH)"/>
<circle cx="661.3" cy="107.8" r="5.5" fill="url(#atC)"/>
<circle cx="653.6" cy="95.2" r="6.7" fill="url(#atO)"/>
<circle cx="664.1" cy="90.3" r="2.6" fill="url(#atH)"/>
<circle cx="679.5" cy="108.5" r="5.5" fill="url(#atC)"/>
<circle cx="687.9" cy="122.5" r="6.7" fill="url(#atO)"/>
<circle cx="688.6" cy="95.9" r="6.7" fill="url(#atO)"/>
<circle cx="709.5" cy="87.4" r="10.3" fill="#3a78e0"/>
<circle cx="710.3" cy="88.2" r="9.5" fill="url(#atP)"/>
<line x1="671.8" y1="147.7" x2="693.8" y2="138.6" stroke="#1a1a1a" stroke-width="2.6" />
<line x1="693.8" y1="138.6" x2="706.8" y2="126" stroke="#1a1a1a" stroke-width="2.6" />
<line x1="706.8" y1="126" x2="699.8" y2="112" stroke="#1a1a1a" stroke-width="2.6" />
<line x1="706.8" y1="126" x2="725.7" y2="126.7" stroke="#1a1a1a" stroke-width="2.6" />
<line x1="725.7" y1="126.7" x2="732" y2="137.2" stroke="#1a1a1a" stroke-width="2.6" />
<line x1="732" y1="137.2" x2="719.4" y2="140.7" stroke="#1a1a1a" stroke-width="2.6" />
<line x1="725.7" y1="126.7" x2="732" y2="112.7" stroke="#1a1a1a" stroke-width="2.6" />
<line x1="732" y1="112.7" x2="724.3" y2="100.1" stroke="#1a1a1a" stroke-width="2.6" />
<line x1="724.3" y1="100.1" x2="734.8" y2="95.2" stroke="#1a1a1a" stroke-width="2.6" />
<line x1="732" y1="112.7" x2="750.2" y2="113.4" stroke="#1a1a1a" stroke-width="2.6" />
<line x1="750.2" y1="113.4" x2="758.6" y2="127.4" stroke="#1a1a1a" stroke-width="2.6" />
<line x1="750.2" y1="113.4" x2="759.3" y2="100.8" stroke="#1a1a1a" stroke-width="2.6" />
<line x1="759.3" y1="100.8" x2="781" y2="93.1" stroke="#1a1a1a" stroke-width="2.6" />
<circle cx="671" cy="146.9" r="10.3" fill="#3a78e0"/>
<circle cx="671.8" cy="147.7" r="9.5" fill="url(#atG)"/>
<circle cx="693.8" cy="138.6" r="6.7" fill="url(#atO)"/>
<circle cx="706.8" cy="126" r="5.5" fill="url(#atC)"/>
<circle cx="699.8" cy="112" r="6.7" fill="url(#atO)"/>
<circle cx="725.7" cy="126.7" r="5.5" fill="url(#atC)"/>
<circle cx="732" cy="137.2" r="6.7" fill="url(#atO)"/>
<circle cx="719.4" cy="140.7" r="2.6" fill="url(#atH)"/>
<circle cx="732" cy="112.7" r="5.5" fill="url(#atC)"/>
<circle cx="724.3" cy="100.1" r="6.7" fill="url(#atO)"/>
<circle cx="734.8" cy="95.2" r="2.6" fill="url(#atH)"/>
<circle cx="750.2" cy="113.4" r="5.5" fill="url(#atC)"/>
<circle cx="758.6" cy="127.4" r="6.7" fill="url(#atO)"/>
<circle cx="759.3" cy="100.8" r="6.7" fill="url(#atO)"/>
<circle cx="780.2" cy="92.3" r="10.3" fill="#3a78e0"/>
<circle cx="781" cy="93.1" r="9.5" fill="url(#atP)"/>
<line x1="753.6" y1="147.7" x2="775.6" y2="138.6" stroke="#1a1a1a" stroke-width="2.6" />
<line x1="775.6" y1="138.6" x2="788.6" y2="126" stroke="#1a1a1a" stroke-width="2.6" />
<line x1="788.6" y1="126" x2="781.6" y2="112" stroke="#1a1a1a" stroke-width="2.6" />
<line x1="788.6" y1="126" x2="807.5" y2="126.7" stroke="#1a1a1a" stroke-width="2.6" />
<line x1="807.5" y1="126.7" x2="813.8" y2="137.2" stroke="#1a1a1a" stroke-width="2.6" />
<line x1="813.8" y1="137.2" x2="801.2" y2="140.7" stroke="#1a1a1a" stroke-width="2.6" />
<line x1="807.5" y1="126.7" x2="813.8" y2="112.7" stroke="#1a1a1a" stroke-width="2.6" />
<line x1="813.8" y1="112.7" x2="806.1" y2="100.1" stroke="#1a1a1a" stroke-width="2.6" />
<line x1="806.1" y1="100.1" x2="816.6" y2="95.2" stroke="#1a1a1a" stroke-width="2.6" />
<line x1="813.8" y1="112.7" x2="832" y2="113.4" stroke="#1a1a1a" stroke-width="2.6" />
<line x1="832" y1="113.4" x2="840.4" y2="127.4" stroke="#1a1a1a" stroke-width="2.6" />
<line x1="832" y1="113.4" x2="841.1" y2="100.8" stroke="#1a1a1a" stroke-width="2.6" />
<line x1="841.1" y1="100.8" x2="862.8" y2="93.1" stroke="#1a1a1a" stroke-width="2.6" />
<circle cx="752.8" cy="146.9" r="10.3" fill="#3a78e0"/>
<circle cx="753.6" cy="147.7" r="9.5" fill="url(#atG)"/>
<circle cx="775.6" cy="138.6" r="6.7" fill="url(#atO)"/>
<circle cx="788.6" cy="126" r="5.5" fill="url(#atC)"/>
<circle cx="781.6" cy="112" r="6.7" fill="url(#atO)"/>
<circle cx="807.5" cy="126.7" r="5.5" fill="url(#atC)"/>
<circle cx="813.8" cy="137.2" r="6.7" fill="url(#atO)"/>
<circle cx="801.2" cy="140.7" r="2.6" fill="url(#atH)"/>
<circle cx="813.8" cy="112.7" r="5.5" fill="url(#atC)"/>
<circle cx="806.1" cy="100.1" r="6.7" fill="url(#atO)"/>
<circle cx="816.6" cy="95.2" r="2.6" fill="url(#atH)"/>
<circle cx="832" cy="113.4" r="5.5" fill="url(#atC)"/>
<circle cx="840.4" cy="127.4" r="6.7" fill="url(#atO)"/>
<circle cx="841.1" cy="100.8" r="6.7" fill="url(#atO)"/>
<circle cx="862" cy="92.3" r="10.3" fill="#3a78e0"/>
<circle cx="862.8" cy="93.1" r="9.5" fill="url(#atP)"/>
<line x1="601.1" y1="244.3" x2="623.1" y2="235.2" stroke="#1a1a1a" stroke-width="2.6" />
<line x1="623.1" y1="235.2" x2="636.1" y2="222.6" stroke="#1a1a1a" stroke-width="2.6" />
<line x1="636.1" y1="222.6" x2="629.1" y2="208.6" stroke="#1a1a1a" stroke-width="2.6" />
<line x1="636.1" y1="222.6" x2="655" y2="223.3" stroke="#1a1a1a" stroke-width="2.6" />
<line x1="655" y1="223.3" x2="661.3" y2="233.8" stroke="#1a1a1a" stroke-width="2.6" />
<line x1="661.3" y1="233.8" x2="648.7" y2="237.3" stroke="#1a1a1a" stroke-width="2.6" />
<line x1="655" y1="223.3" x2="661.3" y2="209.3" stroke="#1a1a1a" stroke-width="2.6" />
<line x1="661.3" y1="209.3" x2="653.6" y2="196.7" stroke="#1a1a1a" stroke-width="2.6" />
<line x1="653.6" y1="196.7" x2="664.1" y2="191.8" stroke="#1a1a1a" stroke-width="2.6" />
<line x1="661.3" y1="209.3" x2="679.5" y2="210" stroke="#1a1a1a" stroke-width="2.6" />
<line x1="679.5" y1="210" x2="687.9" y2="224" stroke="#1a1a1a" stroke-width="2.6" />
<line x1="679.5" y1="210" x2="688.6" y2="197.4" stroke="#1a1a1a" stroke-width="2.6" />
<line x1="688.6" y1="197.4" x2="710.3" y2="189.7" stroke="#1a1a1a" stroke-width="2.6" />
<circle cx="600.3" cy="243.5" r="10.3" fill="#3a78e0"/>
<circle cx="601.1" cy="244.3" r="9.5" fill="url(#atG)"/>
<circle cx="623.1" cy="235.2" r="6.7" fill="url(#atO)"/>
<circle cx="636.1" cy="222.6" r="5.5" fill="url(#atC)"/>
<circle cx="629.1" cy="208.6" r="6.7" fill="url(#atO)"/>
<circle cx="655" cy="223.3" r="5.5" fill="url(#atC)"/>
<circle cx="661.3" cy="233.8" r="6.7" fill="url(#atO)"/>
<circle cx="648.7" cy="237.3" r="2.6" fill="url(#atH)"/>
<circle cx="661.3" cy="209.3" r="5.5" fill="url(#atC)"/>
<circle cx="653.6" cy="196.7" r="6.7" fill="url(#atO)"/>
<circle cx="664.1" cy="191.8" r="2.6" fill="url(#atH)"/>
<circle cx="679.5" cy="210" r="5.5" fill="url(#atC)"/>
<circle cx="687.9" cy="224" r="6.7" fill="url(#atO)"/>
<circle cx="688.6" cy="197.4" r="6.7" fill="url(#atO)"/>
<circle cx="709.5" cy="188.9" r="10.3" fill="#3a78e0"/>
<circle cx="710.3" cy="189.7" r="9.5" fill="url(#atP)"/>
<line x1="671.8" y1="249.2" x2="693.8" y2="240.1" stroke="#1a1a1a" stroke-width="2.6" />
<line x1="693.8" y1="240.1" x2="706.8" y2="227.5" stroke="#1a1a1a" stroke-width="2.6" />
<line x1="706.8" y1="227.5" x2="699.8" y2="213.5" stroke="#1a1a1a" stroke-width="2.6" />
<line x1="706.8" y1="227.5" x2="725.7" y2="228.2" stroke="#1a1a1a" stroke-width="2.6" />
<line x1="725.7" y1="228.2" x2="732" y2="238.7" stroke="#1a1a1a" stroke-width="2.6" />
<line x1="732" y1="238.7" x2="719.4" y2="242.2" stroke="#1a1a1a" stroke-width="2.6" />
<line x1="725.7" y1="228.2" x2="732" y2="214.2" stroke="#1a1a1a" stroke-width="2.6" />
<line x1="732" y1="214.2" x2="724.3" y2="201.6" stroke="#1a1a1a" stroke-width="2.6" />
<line x1="724.3" y1="201.6" x2="734.8" y2="196.7" stroke="#1a1a1a" stroke-width="2.6" />
<line x1="732" y1="214.2" x2="750.2" y2="214.9" stroke="#1a1a1a" stroke-width="2.6" />
<line x1="750.2" y1="214.9" x2="758.6" y2="228.9" stroke="#1a1a1a" stroke-width="2.6" />
<line x1="750.2" y1="214.9" x2="759.3" y2="202.3" stroke="#1a1a1a" stroke-width="2.6" />
<line x1="759.3" y1="202.3" x2="781" y2="194.6" stroke="#1a1a1a" stroke-width="2.6" />
<circle cx="671" cy="248.4" r="10.3" fill="#3a78e0"/>
<circle cx="671.8" cy="249.2" r="9.5" fill="url(#atG)"/>
<circle cx="693.8" cy="240.1" r="6.7" fill="url(#atO)"/>
<circle cx="706.8" cy="227.5" r="5.5" fill="url(#atC)"/>
<circle cx="699.8" cy="213.5" r="6.7" fill="url(#atO)"/>
<circle cx="725.7" cy="228.2" r="5.5" fill="url(#atC)"/>
<circle cx="732" cy="238.7" r="6.7" fill="url(#atO)"/>
<circle cx="719.4" cy="242.2" r="2.6" fill="url(#atH)"/>
<circle cx="732" cy="214.2" r="5.5" fill="url(#atC)"/>
<circle cx="724.3" cy="201.6" r="6.7" fill="url(#atO)"/>
<circle cx="734.8" cy="196.7" r="2.6" fill="url(#atH)"/>
<circle cx="750.2" cy="214.9" r="5.5" fill="url(#atC)"/>
<circle cx="758.6" cy="228.9" r="6.7" fill="url(#atO)"/>
<circle cx="759.3" cy="202.3" r="6.7" fill="url(#atO)"/>
<circle cx="780.2" cy="193.8" r="10.3" fill="#3a78e0"/>
<circle cx="781" cy="194.6" r="9.5" fill="url(#atP)"/>
<line x1="753.6" y1="249.2" x2="775.6" y2="240.1" stroke="#1a1a1a" stroke-width="2.6" />
<line x1="775.6" y1="240.1" x2="788.6" y2="227.5" stroke="#1a1a1a" stroke-width="2.6" />
<line x1="788.6" y1="227.5" x2="781.6" y2="213.5" stroke="#1a1a1a" stroke-width="2.6" />
<line x1="788.6" y1="227.5" x2="807.5" y2="228.2" stroke="#1a1a1a" stroke-width="2.6" />
<line x1="807.5" y1="228.2" x2="813.8" y2="238.7" stroke="#1a1a1a" stroke-width="2.6" />
<line x1="813.8" y1="238.7" x2="801.2" y2="242.2" stroke="#1a1a1a" stroke-width="2.6" />
<line x1="807.5" y1="228.2" x2="813.8" y2="214.2" stroke="#1a1a1a" stroke-width="2.6" />
<line x1="813.8" y1="214.2" x2="806.1" y2="201.6" stroke="#1a1a1a" stroke-width="2.6" />
<line x1="806.1" y1="201.6" x2="816.6" y2="196.7" stroke="#1a1a1a" stroke-width="2.6" />
<line x1="813.8" y1="214.2" x2="832" y2="214.9" stroke="#1a1a1a" stroke-width="2.6" />
<line x1="832" y1="214.9" x2="840.4" y2="228.9" stroke="#1a1a1a" stroke-width="2.6" />
<line x1="832" y1="214.9" x2="841.1" y2="202.3" stroke="#1a1a1a" stroke-width="2.6" />
<line x1="841.1" y1="202.3" x2="862.8" y2="194.6" stroke="#1a1a1a" stroke-width="2.6" />
<circle cx="752.8" cy="248.4" r="10.3" fill="#3a78e0"/>
<circle cx="753.6" cy="249.2" r="9.5" fill="url(#atG)"/>
<circle cx="775.6" cy="240.1" r="6.7" fill="url(#atO)"/>
<circle cx="788.6" cy="227.5" r="5.5" fill="url(#atC)"/>
<circle cx="781.6" cy="213.5" r="6.7" fill="url(#atO)"/>
<circle cx="807.5" cy="228.2" r="5.5" fill="url(#atC)"/>
<circle cx="813.8" cy="238.7" r="6.7" fill="url(#atO)"/>
<circle cx="801.2" cy="242.2" r="2.6" fill="url(#atH)"/>
<circle cx="813.8" cy="214.2" r="5.5" fill="url(#atC)"/>
<circle cx="806.1" cy="201.6" r="6.7" fill="url(#atO)"/>
<circle cx="816.6" cy="196.7" r="2.6" fill="url(#atH)"/>
<circle cx="832" cy="214.9" r="5.5" fill="url(#atC)"/>
<circle cx="840.4" cy="228.9" r="6.7" fill="url(#atO)"/>
<circle cx="841.1" cy="202.3" r="6.7" fill="url(#atO)"/>
<circle cx="862" cy="193.8" r="10.3" fill="#3a78e0"/>
<circle cx="862.8" cy="194.6" r="9.5" fill="url(#atP)"/>
<line x1="601.1" y1="345.8" x2="623.1" y2="336.7" stroke="#1a1a1a" stroke-width="2.6" />
<line x1="623.1" y1="336.7" x2="636.1" y2="324.1" stroke="#1a1a1a" stroke-width="2.6" />
<line x1="636.1" y1="324.1" x2="629.1" y2="310.1" stroke="#1a1a1a" stroke-width="2.6" />
<line x1="636.1" y1="324.1" x2="655" y2="324.8" stroke="#1a1a1a" stroke-width="2.6" />
<line x1="655" y1="324.8" x2="661.3" y2="335.3" stroke="#1a1a1a" stroke-width="2.6" />
<line x1="661.3" y1="335.3" x2="648.7" y2="338.8" stroke="#1a1a1a" stroke-width="2.6" />
<line x1="655" y1="324.8" x2="661.3" y2="310.8" stroke="#1a1a1a" stroke-width="2.6" />
<line x1="661.3" y1="310.8" x2="653.6" y2="298.2" stroke="#1a1a1a" stroke-width="2.6" />
<line x1="653.6" y1="298.2" x2="664.1" y2="293.3" stroke="#1a1a1a" stroke-width="2.6" />
<line x1="661.3" y1="310.8" x2="679.5" y2="311.5" stroke="#1a1a1a" stroke-width="2.6" />
<line x1="679.5" y1="311.5" x2="687.9" y2="325.5" stroke="#1a1a1a" stroke-width="2.6" />
<line x1="679.5" y1="311.5" x2="688.6" y2="298.9" stroke="#1a1a1a" stroke-width="2.6" />
<line x1="688.6" y1="298.9" x2="710.3" y2="291.2" stroke="#1a1a1a" stroke-width="2.6" />
<circle cx="600.3" cy="345" r="10.3" fill="#3a78e0"/>
<circle cx="601.1" cy="345.8" r="9.5" fill="url(#atG)"/>
<circle cx="623.1" cy="336.7" r="6.7" fill="url(#atO)"/>
<circle cx="636.1" cy="324.1" r="5.5" fill="url(#atC)"/>
<circle cx="629.1" cy="310.1" r="6.7" fill="url(#atO)"/>
<circle cx="655" cy="324.8" r="5.5" fill="url(#atC)"/>
<circle cx="661.3" cy="335.3" r="6.7" fill="url(#atO)"/>
<circle cx="648.7" cy="338.8" r="2.6" fill="url(#atH)"/>
<circle cx="661.3" cy="310.8" r="5.5" fill="url(#atC)"/>
<circle cx="653.6" cy="298.2" r="6.7" fill="url(#atO)"/>
<circle cx="664.1" cy="293.3" r="2.6" fill="url(#atH)"/>
<circle cx="679.5" cy="311.5" r="5.5" fill="url(#atC)"/>
<circle cx="687.9" cy="325.5" r="6.7" fill="url(#atO)"/>
<circle cx="688.6" cy="298.9" r="6.7" fill="url(#atO)"/>
<circle cx="709.5" cy="290.4" r="10.3" fill="#3a78e0"/>
<circle cx="710.3" cy="291.2" r="9.5" fill="url(#atP)"/>
<line x1="671.8" y1="350.7" x2="693.8" y2="341.6" stroke="#1a1a1a" stroke-width="2.6" />
<line x1="693.8" y1="341.6" x2="706.8" y2="329" stroke="#1a1a1a" stroke-width="2.6" />
<line x1="706.8" y1="329" x2="699.8" y2="315" stroke="#1a1a1a" stroke-width="2.6" />
<line x1="706.8" y1="329" x2="725.7" y2="329.7" stroke="#1a1a1a" stroke-width="2.6" />
<line x1="725.7" y1="329.7" x2="732" y2="340.2" stroke="#1a1a1a" stroke-width="2.6" />
<line x1="732" y1="340.2" x2="719.4" y2="343.7" stroke="#1a1a1a" stroke-width="2.6" />
<line x1="725.7" y1="329.7" x2="732" y2="315.7" stroke="#1a1a1a" stroke-width="2.6" />
<line x1="732" y1="315.7" x2="724.3" y2="303.1" stroke="#1a1a1a" stroke-width="2.6" />
<line x1="724.3" y1="303.1" x2="734.8" y2="298.2" stroke="#1a1a1a" stroke-width="2.6" />
<line x1="732" y1="315.7" x2="750.2" y2="316.4" stroke="#1a1a1a" stroke-width="2.6" />
<line x1="750.2" y1="316.4" x2="758.6" y2="330.4" stroke="#1a1a1a" stroke-width="2.6" />
<line x1="750.2" y1="316.4" x2="759.3" y2="303.8" stroke="#1a1a1a" stroke-width="2.6" />
<line x1="759.3" y1="303.8" x2="781" y2="296.1" stroke="#1a1a1a" stroke-width="2.6" />
<circle cx="671" cy="349.9" r="10.3" fill="#3a78e0"/>
<circle cx="671.8" cy="350.7" r="9.5" fill="url(#atG)"/>
<circle cx="693.8" cy="341.6" r="6.7" fill="url(#atO)"/>
<circle cx="706.8" cy="329" r="5.5" fill="url(#atC)"/>
<circle cx="699.8" cy="315" r="6.7" fill="url(#atO)"/>
<circle cx="725.7" cy="329.7" r="5.5" fill="url(#atC)"/>
<circle cx="732" cy="340.2" r="6.7" fill="url(#atO)"/>
<circle cx="719.4" cy="343.7" r="2.6" fill="url(#atH)"/>
<circle cx="732" cy="315.7" r="5.5" fill="url(#atC)"/>
<circle cx="724.3" cy="303.1" r="6.7" fill="url(#atO)"/>
<circle cx="734.8" cy="298.2" r="2.6" fill="url(#atH)"/>
<circle cx="750.2" cy="316.4" r="5.5" fill="url(#atC)"/>
<circle cx="758.6" cy="330.4" r="6.7" fill="url(#atO)"/>
<circle cx="759.3" cy="303.8" r="6.7" fill="url(#atO)"/>
<circle cx="780.2" cy="295.3" r="10.3" fill="#3a78e0"/>
<circle cx="781" cy="296.1" r="9.5" fill="url(#atP)"/>
<line x1="753.6" y1="350.7" x2="775.6" y2="341.6" stroke="#1a1a1a" stroke-width="2.6" />
<line x1="775.6" y1="341.6" x2="788.6" y2="329" stroke="#1a1a1a" stroke-width="2.6" />
<line x1="788.6" y1="329" x2="781.6" y2="315" stroke="#1a1a1a" stroke-width="2.6" />
<line x1="788.6" y1="329" x2="807.5" y2="329.7" stroke="#1a1a1a" stroke-width="2.6" />
<line x1="807.5" y1="329.7" x2="813.8" y2="340.2" stroke="#1a1a1a" stroke-width="2.6" />
<line x1="813.8" y1="340.2" x2="801.2" y2="343.7" stroke="#1a1a1a" stroke-width="2.6" />
<line x1="807.5" y1="329.7" x2="813.8" y2="315.7" stroke="#1a1a1a" stroke-width="2.6" />
<line x1="813.8" y1="315.7" x2="806.1" y2="303.1" stroke="#1a1a1a" stroke-width="2.6" />
<line x1="806.1" y1="303.1" x2="816.6" y2="298.2" stroke="#1a1a1a" stroke-width="2.6" />
<line x1="813.8" y1="315.7" x2="832" y2="316.4" stroke="#1a1a1a" stroke-width="2.6" />
<line x1="832" y1="316.4" x2="840.4" y2="330.4" stroke="#1a1a1a" stroke-width="2.6" />
<line x1="832" y1="316.4" x2="841.1" y2="303.8" stroke="#1a1a1a" stroke-width="2.6" />
<line x1="841.1" y1="303.8" x2="862.8" y2="296.1" stroke="#1a1a1a" stroke-width="2.6" />
<circle cx="752.8" cy="349.9" r="10.3" fill="#3a78e0"/>
<circle cx="753.6" cy="350.7" r="9.5" fill="url(#atG)"/>
<circle cx="775.6" cy="341.6" r="6.7" fill="url(#atO)"/>
<circle cx="788.6" cy="329" r="5.5" fill="url(#atC)"/>
<circle cx="781.6" cy="315" r="6.7" fill="url(#atO)"/>
<circle cx="807.5" cy="329.7" r="5.5" fill="url(#atC)"/>
<circle cx="813.8" cy="340.2" r="6.7" fill="url(#atO)"/>
<circle cx="801.2" cy="343.7" r="2.6" fill="url(#atH)"/>
<circle cx="813.8" cy="315.7" r="5.5" fill="url(#atC)"/>
<circle cx="806.1" cy="303.1" r="6.7" fill="url(#atO)"/>
<circle cx="816.6" cy="298.2" r="2.6" fill="url(#atH)"/>
<circle cx="832" cy="316.4" r="5.5" fill="url(#atC)"/>
<circle cx="840.4" cy="330.4" r="6.7" fill="url(#atO)"/>
<circle cx="841.1" cy="303.8" r="6.7" fill="url(#atO)"/>
<circle cx="862" cy="295.3" r="10.3" fill="#3a78e0"/>
<circle cx="862.8" cy="296.1" r="9.5" fill="url(#atP)"/>
<path d="M440.4,199 L520.4,199 L520.4,184 L554.4,215.7 L520.4,249.8 L520.4,232.3 L440.4,232.3 Z" fill="url(#arrowg)"/>
<path d="M975,199 L1055.8,199 L1055.8,187 L1088.7,216 L1055.8,250 L1055.8,233.5 L975,233.5 Z" fill="url(#arrowg)"/>
<path d="M1473.4,199.2 L1553.2,199.2 L1553.2,187.3 L1586.6,216.6 L1553.2,249.3 L1553.2,232.8 L1473.4,232.8 Z" fill="url(#arrowg)"/>
<path d="M1288.7,86.6 1295.1,90.3 1295.1,97.8 1288.7,101.5 1282.2,97.8 1282.2,90.3Z M1301.6,86.6 1308.1,90.3 1308.1,97.8 1301.6,101.5 1295.1,97.8 1295.1,90.3Z M1314.5,86.6 1321,90.3 1321,97.8 1314.5,101.5 1308.1,97.8 1308.1,90.3Z M1282.2,97.8 1288.7,101.5 1288.7,109 1282.2,112.7 1275.8,109 1275.8,101.5Z M1295.1,97.8 1301.6,101.5 1301.6,109 1295.1,112.7 1288.7,109 1288.7,101.5Z M1308.1,97.8 1314.5,101.5 1314.5,109 1308.1,112.7 1301.6,109 1301.6,101.5Z M1321,97.8 1327.4,101.5 1327.4,109 1321,112.7 1314.5,109 1314.5,101.5Z M1275.8,109 1282.2,112.7 1282.2,120.1 1275.8,123.9 1269.3,120.1 1269.3,112.7Z M1288.7,109 1295.1,112.7 1295.1,120.1 1288.7,123.9 1282.2,120.1 1282.2,112.7Z M1301.6,109 1308.1,112.7 1308.1,120.1 1301.6,123.9 1295.1,120.1 1295.1,112.7Z M1314.5,109 1321,112.7 1321,120.1 1314.5,123.9 1308.1,120.1 1308.1,112.7Z M1327.4,109 1333.9,112.7 1333.9,120.1 1327.4,123.9 1321,120.1 1321,112.7Z M1282.2,120.1 1288.7,123.9 1288.7,131.3 1282.2,135 1275.8,131.3 1275.8,123.9Z M1295.1,120.1 1301.6,123.9 1301.6,131.3 1295.1,135 1288.7,131.3 1288.7,123.9Z M1308.1,120.1 1314.5,123.9 1314.5,131.3 1308.1,135 1301.6,131.3 1301.6,123.9Z M1321,120.1 1327.4,123.9 1327.4,131.3 1321,135 1314.5,131.3 1314.5,123.9Z M1288.7,131.3 1295.1,135 1295.1,142.5 1288.7,146.2 1282.2,142.5 1282.2,135Z M1301.6,131.3 1308.1,135 1308.1,142.5 1301.6,146.2 1295.1,142.5 1295.1,135Z M1314.5,131.3 1321,135 1321,142.5 1314.5,146.2 1308.1,142.5 1308.1,135Z" fill="none" stroke="#c4f2f6" stroke-width="4.3" stroke-linejoin="round"/>
<path d="M1288.7,86.6 1295.1,90.3 1295.1,97.8 1288.7,101.5 1282.2,97.8 1282.2,90.3Z M1301.6,86.6 1308.1,90.3 1308.1,97.8 1301.6,101.5 1295.1,97.8 1295.1,90.3Z M1314.5,86.6 1321,90.3 1321,97.8 1314.5,101.5 1308.1,97.8 1308.1,90.3Z M1282.2,97.8 1288.7,101.5 1288.7,109 1282.2,112.7 1275.8,109 1275.8,101.5Z M1295.1,97.8 1301.6,101.5 1301.6,109 1295.1,112.7 1288.7,109 1288.7,101.5Z M1308.1,97.8 1314.5,101.5 1314.5,109 1308.1,112.7 1301.6,109 1301.6,101.5Z M1321,97.8 1327.4,101.5 1327.4,109 1321,112.7 1314.5,109 1314.5,101.5Z M1275.8,109 1282.2,112.7 1282.2,120.1 1275.8,123.9 1269.3,120.1 1269.3,112.7Z M1288.7,109 1295.1,112.7 1295.1,120.1 1288.7,123.9 1282.2,120.1 1282.2,112.7Z M1301.6,109 1308.1,112.7 1308.1,120.1 1301.6,123.9 1295.1,120.1 1295.1,112.7Z M1314.5,109 1321,112.7 1321,120.1 1314.5,123.9 1308.1,120.1 1308.1,112.7Z M1327.4,109 1333.9,112.7 1333.9,120.1 1327.4,123.9 1321,120.1 1321,112.7Z M1282.2,120.1 1288.7,123.9 1288.7,131.3 1282.2,135 1275.8,131.3 1275.8,123.9Z M1295.1,120.1 1301.6,123.9 1301.6,131.3 1295.1,135 1288.7,131.3 1288.7,123.9Z M1308.1,120.1 1314.5,123.9 1314.5,131.3 1308.1,135 1301.6,131.3 1301.6,123.9Z M1321,120.1 1327.4,123.9 1327.4,131.3 1321,135 1314.5,131.3 1314.5,123.9Z M1288.7,131.3 1295.1,135 1295.1,142.5 1288.7,146.2 1282.2,142.5 1282.2,135Z M1301.6,131.3 1308.1,135 1308.1,142.5 1301.6,146.2 1295.1,142.5 1295.1,135Z M1314.5,131.3 1321,135 1321,142.5 1314.5,146.2 1308.1,142.5 1308.1,135Z" fill="none" stroke="#417f8c" stroke-width="1.7" stroke-linejoin="round"/>
<path d="M1198.5,135.1 1204.9,138.8 1204.9,146.3 1198.5,150 1192,146.3 1192,138.8Z M1211.4,135.1 1217.9,138.8 1217.9,146.3 1211.4,150 1204.9,146.3 1204.9,138.8Z M1224.3,135.1 1230.8,138.8 1230.8,146.3 1224.3,150 1217.9,146.3 1217.9,138.8Z M1192,146.3 1198.5,150 1198.5,157.4 1192,161.2 1185.6,157.4 1185.6,150Z M1204.9,146.3 1211.4,150 1211.4,157.4 1204.9,161.2 1198.5,157.4 1198.5,150Z M1217.9,146.3 1224.3,150 1224.3,157.4 1217.9,161.2 1211.4,157.4 1211.4,150Z M1230.8,146.3 1237.2,150 1237.2,157.4 1230.8,161.2 1224.3,157.4 1224.3,150Z M1185.6,157.5 1192,161.2 1192,168.6 1185.6,172.3 1179.1,168.6 1179.1,161.2Z M1198.5,157.5 1204.9,161.2 1204.9,168.6 1198.5,172.3 1192,168.6 1192,161.2Z M1211.4,157.5 1217.9,161.2 1217.9,168.6 1211.4,172.3 1204.9,168.6 1204.9,161.2Z M1224.3,157.5 1230.8,161.2 1230.8,168.6 1224.3,172.3 1217.9,168.6 1217.9,161.2Z M1237.2,157.5 1243.7,161.2 1243.7,168.6 1237.2,172.3 1230.8,168.6 1230.8,161.2Z M1192,168.6 1198.5,172.4 1198.5,179.8 1192,183.5 1185.6,179.8 1185.6,172.4Z M1204.9,168.6 1211.4,172.4 1211.4,179.8 1204.9,183.5 1198.5,179.8 1198.5,172.4Z M1217.9,168.6 1224.3,172.4 1224.3,179.8 1217.9,183.5 1211.4,179.8 1211.4,172.4Z M1230.8,168.6 1237.2,172.4 1237.2,179.8 1230.8,183.5 1224.3,179.8 1224.3,172.4Z M1198.5,179.8 1204.9,183.5 1204.9,191 1198.5,194.7 1192,191 1192,183.5Z M1211.4,179.8 1217.9,183.5 1217.9,191 1211.4,194.7 1204.9,191 1204.9,183.5Z M1224.3,179.8 1230.8,183.5 1230.8,191 1224.3,194.7 1217.9,191 1217.9,183.5Z" fill="none" stroke="#c4f2f6" stroke-width="4.3" stroke-linejoin="round"/>
<path d="M1198.5,135.1 1204.9,138.8 1204.9,146.3 1198.5,150 1192,146.3 1192,138.8Z M1211.4,135.1 1217.9,138.8 1217.9,146.3 1211.4,150 1204.9,146.3 1204.9,138.8Z M1224.3,135.1 1230.8,138.8 1230.8,146.3 1224.3,150 1217.9,146.3 1217.9,138.8Z M1192,146.3 1198.5,150 1198.5,157.4 1192,161.2 1185.6,157.4 1185.6,150Z M1204.9,146.3 1211.4,150 1211.4,157.4 1204.9,161.2 1198.5,157.4 1198.5,150Z M1217.9,146.3 1224.3,150 1224.3,157.4 1217.9,161.2 1211.4,157.4 1211.4,150Z M1230.8,146.3 1237.2,150 1237.2,157.4 1230.8,161.2 1224.3,157.4 1224.3,150Z M1185.6,157.5 1192,161.2 1192,168.6 1185.6,172.3 1179.1,168.6 1179.1,161.2Z M1198.5,157.5 1204.9,161.2 1204.9,168.6 1198.5,172.3 1192,168.6 1192,161.2Z M1211.4,157.5 1217.9,161.2 1217.9,168.6 1211.4,172.3 1204.9,168.6 1204.9,161.2Z M1224.3,157.5 1230.8,161.2 1230.8,168.6 1224.3,172.3 1217.9,168.6 1217.9,161.2Z M1237.2,157.5 1243.7,161.2 1243.7,168.6 1237.2,172.3 1230.8,168.6 1230.8,161.2Z M1192,168.6 1198.5,172.4 1198.5,179.8 1192,183.5 1185.6,179.8 1185.6,172.4Z M1204.9,168.6 1211.4,172.4 1211.4,179.8 1204.9,183.5 1198.5,179.8 1198.5,172.4Z M1217.9,168.6 1224.3,172.4 1224.3,179.8 1217.9,183.5 1211.4,179.8 1211.4,172.4Z M1230.8,168.6 1237.2,172.4 1237.2,179.8 1230.8,183.5 1224.3,179.8 1224.3,172.4Z M1198.5,179.8 1204.9,183.5 1204.9,191 1198.5,194.7 1192,191 1192,183.5Z M1211.4,179.8 1217.9,183.5 1217.9,191 1211.4,194.7 1204.9,191 1204.9,183.5Z M1224.3,179.8 1230.8,183.5 1230.8,191 1224.3,194.7 1217.9,191 1217.9,183.5Z" fill="none" stroke="#417f8c" stroke-width="1.7" stroke-linejoin="round"/>
<path d="M1329.3,181.8 1335.7,185.5 1335.7,193 1329.3,196.7 1322.8,193 1322.8,185.5Z M1342.2,181.8 1348.7,185.5 1348.7,193 1342.2,196.7 1335.7,193 1335.7,185.5Z M1355.1,181.8 1361.6,185.5 1361.6,193 1355.1,196.7 1348.7,193 1348.7,185.5Z M1322.8,193 1329.3,196.7 1329.3,204.1 1322.8,207.9 1316.4,204.1 1316.4,196.7Z M1335.7,193 1342.2,196.7 1342.2,204.1 1335.7,207.9 1329.3,204.1 1329.3,196.7Z M1348.7,193 1355.1,196.7 1355.1,204.1 1348.7,207.9 1342.2,204.1 1342.2,196.7Z M1361.6,193 1368,196.7 1368,204.1 1361.6,207.9 1355.1,204.1 1355.1,196.7Z M1316.4,204.2 1322.8,207.9 1322.8,215.3 1316.4,219 1309.9,215.3 1309.9,207.9Z M1329.3,204.2 1335.7,207.9 1335.7,215.3 1329.3,219 1322.8,215.3 1322.8,207.9Z M1342.2,204.2 1348.7,207.9 1348.7,215.3 1342.2,219 1335.7,215.3 1335.7,207.9Z M1355.1,204.2 1361.6,207.9 1361.6,215.3 1355.1,219 1348.7,215.3 1348.7,207.9Z M1368,204.2 1374.5,207.9 1374.5,215.3 1368,219 1361.6,215.3 1361.6,207.9Z M1322.8,215.3 1329.3,219.1 1329.3,226.5 1322.8,230.2 1316.4,226.5 1316.4,219.1Z M1335.7,215.3 1342.2,219.1 1342.2,226.5 1335.7,230.2 1329.3,226.5 1329.3,219.1Z M1348.7,215.3 1355.1,219.1 1355.1,226.5 1348.7,230.2 1342.2,226.5 1342.2,219.1Z M1361.6,215.3 1368,219.1 1368,226.5 1361.6,230.2 1355.1,226.5 1355.1,219.1Z M1329.3,226.5 1335.7,230.2 1335.7,237.7 1329.3,241.4 1322.8,237.7 1322.8,230.2Z M1342.2,226.5 1348.7,230.2 1348.7,237.7 1342.2,241.4 1335.7,237.7 1335.7,230.2Z M1355.1,226.5 1361.6,230.2 1361.6,237.7 1355.1,241.4 1348.7,237.7 1348.7,230.2Z" fill="none" stroke="#c4f2f6" stroke-width="4.3" stroke-linejoin="round"/>
<path d="M1329.3,181.8 1335.7,185.5 1335.7,193 1329.3,196.7 1322.8,193 1322.8,185.5Z M1342.2,181.8 1348.7,185.5 1348.7,193 1342.2,196.7 1335.7,193 1335.7,185.5Z M1355.1,181.8 1361.6,185.5 1361.6,193 1355.1,196.7 1348.7,193 1348.7,185.5Z M1322.8,193 1329.3,196.7 1329.3,204.1 1322.8,207.9 1316.4,204.1 1316.4,196.7Z M1335.7,193 1342.2,196.7 1342.2,204.1 1335.7,207.9 1329.3,204.1 1329.3,196.7Z M1348.7,193 1355.1,196.7 1355.1,204.1 1348.7,207.9 1342.2,204.1 1342.2,196.7Z M1361.6,193 1368,196.7 1368,204.1 1361.6,207.9 1355.1,204.1 1355.1,196.7Z M1316.4,204.2 1322.8,207.9 1322.8,215.3 1316.4,219 1309.9,215.3 1309.9,207.9Z M1329.3,204.2 1335.7,207.9 1335.7,215.3 1329.3,219 1322.8,215.3 1322.8,207.9Z M1342.2,204.2 1348.7,207.9 1348.7,215.3 1342.2,219 1335.7,215.3 1335.7,207.9Z M1355.1,204.2 1361.6,207.9 1361.6,215.3 1355.1,219 1348.7,215.3 1348.7,207.9Z M1368,204.2 1374.5,207.9 1374.5,215.3 1368,219 1361.6,215.3 1361.6,207.9Z M1322.8,215.3 1329.3,219.1 1329.3,226.5 1322.8,230.2 1316.4,226.5 1316.4,219.1Z M1335.7,215.3 1342.2,219.1 1342.2,226.5 1335.7,230.2 1329.3,226.5 1329.3,219.1Z M1348.7,215.3 1355.1,219.1 1355.1,226.5 1348.7,230.2 1342.2,226.5 1342.2,219.1Z M1361.6,215.3 1368,219.1 1368,226.5 1361.6,230.2 1355.1,226.5 1355.1,219.1Z M1329.3,226.5 1335.7,230.2 1335.7,237.7 1329.3,241.4 1322.8,237.7 1322.8,230.2Z M1342.2,226.5 1348.7,230.2 1348.7,237.7 1342.2,241.4 1335.7,237.7 1335.7,230.2Z M1355.1,226.5 1361.6,230.2 1361.6,237.7 1355.1,241.4 1348.7,237.7 1348.7,230.2Z" fill="none" stroke="#417f8c" stroke-width="1.7" stroke-linejoin="round"/>
<path d="M1249.5,243.2 1255.9,246.9 1255.9,254.4 1249.5,258.1 1243,254.4 1243,246.9Z M1262.4,243.2 1268.9,246.9 1268.9,254.4 1262.4,258.1 1255.9,254.4 1255.9,246.9Z M1275.3,243.2 1281.8,246.9 1281.8,254.4 1275.3,258.1 1268.9,254.4 1268.9,246.9Z M1243,254.4 1249.5,258.1 1249.5,265.6 1243,269.3 1236.6,265.6 1236.6,258.1Z M1255.9,254.4 1262.4,258.1 1262.4,265.6 1255.9,269.3 1249.5,265.6 1249.5,258.1Z M1268.9,254.4 1275.3,258.1 1275.3,265.6 1268.9,269.3 1262.4,265.6 1262.4,258.1Z M1281.8,254.4 1288.2,258.1 1288.2,265.6 1281.8,269.3 1275.3,265.6 1275.3,258.1Z M1236.6,265.6 1243,269.3 1243,276.7 1236.6,280.4 1230.1,276.7 1230.1,269.3Z M1249.5,265.6 1255.9,269.3 1255.9,276.7 1249.5,280.4 1243,276.7 1243,269.3Z M1262.4,265.6 1268.9,269.3 1268.9,276.7 1262.4,280.4 1255.9,276.7 1255.9,269.3Z M1275.3,265.6 1281.8,269.3 1281.8,276.7 1275.3,280.4 1268.9,276.7 1268.9,269.3Z M1288.2,265.6 1294.7,269.3 1294.7,276.7 1288.2,280.4 1281.8,276.7 1281.8,269.3Z M1243,276.7 1249.5,280.4 1249.5,287.9 1243,291.6 1236.6,287.9 1236.6,280.4Z M1255.9,276.7 1262.4,280.4 1262.4,287.9 1255.9,291.6 1249.5,287.9 1249.5,280.4Z M1268.9,276.7 1275.3,280.4 1275.3,287.9 1268.9,291.6 1262.4,287.9 1262.4,280.4Z M1281.8,276.7 1288.2,280.4 1288.2,287.9 1281.8,291.6 1275.3,287.9 1275.3,280.4Z M1249.5,287.9 1255.9,291.6 1255.9,299.1 1249.5,302.8 1243,299.1 1243,291.6Z M1262.4,287.9 1268.9,291.6 1268.9,299.1 1262.4,302.8 1255.9,299.1 1255.9,291.6Z M1275.3,287.9 1281.8,291.6 1281.8,299.1 1275.3,302.8 1268.9,299.1 1268.9,291.6Z" fill="none" stroke="#c4f2f6" stroke-width="4.3" stroke-linejoin="round"/>
<path d="M1249.5,243.2 1255.9,246.9 1255.9,254.4 1249.5,258.1 1243,254.4 1243,246.9Z M1262.4,243.2 1268.9,246.9 1268.9,254.4 1262.4,258.1 1255.9,254.4 1255.9,246.9Z M1275.3,243.2 1281.8,246.9 1281.8,254.4 1275.3,258.1 1268.9,254.4 1268.9,246.9Z M1243,254.4 1249.5,258.1 1249.5,265.6 1243,269.3 1236.6,265.6 1236.6,258.1Z M1255.9,254.4 1262.4,258.1 1262.4,265.6 1255.9,269.3 1249.5,265.6 1249.5,258.1Z M1268.9,254.4 1275.3,258.1 1275.3,265.6 1268.9,269.3 1262.4,265.6 1262.4,258.1Z M1281.8,254.4 1288.2,258.1 1288.2,265.6 1281.8,269.3 1275.3,265.6 1275.3,258.1Z M1236.6,265.6 1243,269.3 1243,276.7 1236.6,280.4 1230.1,276.7 1230.1,269.3Z M1249.5,265.6 1255.9,269.3 1255.9,276.7 1249.5,280.4 1243,276.7 1243,269.3Z M1262.4,265.6 1268.9,269.3 1268.9,276.7 1262.4,280.4 1255.9,276.7 1255.9,269.3Z M1275.3,265.6 1281.8,269.3 1281.8,276.7 1275.3,280.4 1268.9,276.7 1268.9,269.3Z M1288.2,265.6 1294.7,269.3 1294.7,276.7 1288.2,280.4 1281.8,276.7 1281.8,269.3Z M1243,276.7 1249.5,280.4 1249.5,287.9 1243,291.6 1236.6,287.9 1236.6,280.4Z M1255.9,276.7 1262.4,280.4 1262.4,287.9 1255.9,291.6 1249.5,287.9 1249.5,280.4Z M1268.9,276.7 1275.3,280.4 1275.3,287.9 1268.9,291.6 1262.4,287.9 1262.4,280.4Z M1281.8,276.7 1288.2,280.4 1288.2,287.9 1281.8,291.6 1275.3,287.9 1275.3,280.4Z M1249.5,287.9 1255.9,291.6 1255.9,299.1 1249.5,302.8 1243,299.1 1243,291.6Z M1262.4,287.9 1268.9,291.6 1268.9,299.1 1262.4,302.8 1255.9,299.1 1255.9,291.6Z M1275.3,287.9 1281.8,291.6 1281.8,299.1 1275.3,302.8 1268.9,299.1 1268.9,291.6Z" fill="none" stroke="#417f8c" stroke-width="1.7" stroke-linejoin="round"/>
<path d="M1160.6,264.2 1167,267.9 1167,275.4 1160.6,279.1 1154.1,275.4 1154.1,267.9Z M1173.5,264.2 1180,267.9 1180,275.4 1173.5,279.1 1167,275.4 1167,267.9Z M1186.4,264.2 1192.9,267.9 1192.9,275.4 1186.4,279.1 1180,275.4 1180,267.9Z M1154.1,275.4 1160.6,279.1 1160.6,286.6 1154.1,290.3 1147.7,286.6 1147.7,279.1Z M1167,275.4 1173.5,279.1 1173.5,286.6 1167,290.3 1160.6,286.6 1160.6,279.1Z M1180,275.4 1186.4,279.1 1186.4,286.6 1180,290.3 1173.5,286.6 1173.5,279.1Z M1192.9,275.4 1199.3,279.1 1199.3,286.6 1192.9,290.3 1186.4,286.6 1186.4,279.1Z M1147.7,286.6 1154.1,290.3 1154.1,297.7 1147.7,301.4 1141.2,297.7 1141.2,290.3Z M1160.6,286.6 1167,290.3 1167,297.7 1160.6,301.4 1154.1,297.7 1154.1,290.3Z M1173.5,286.6 1180,290.3 1180,297.7 1173.5,301.4 1167,297.7 1167,290.3Z M1186.4,286.6 1192.9,290.3 1192.9,297.7 1186.4,301.4 1180,297.7 1180,290.3Z M1199.3,286.6 1205.8,290.3 1205.8,297.7 1199.3,301.4 1192.9,297.7 1192.9,290.3Z M1154.1,297.7 1160.6,301.4 1160.6,308.9 1154.1,312.6 1147.7,308.9 1147.7,301.4Z M1167,297.7 1173.5,301.4 1173.5,308.9 1167,312.6 1160.6,308.9 1160.6,301.4Z M1180,297.7 1186.4,301.4 1186.4,308.9 1180,312.6 1173.5,308.9 1173.5,301.4Z M1192.9,297.7 1199.3,301.4 1199.3,308.9 1192.9,312.6 1186.4,308.9 1186.4,301.4Z M1160.6,308.9 1167,312.6 1167,320.1 1160.6,323.8 1154.1,320.1 1154.1,312.6Z M1173.5,308.9 1180,312.6 1180,320.1 1173.5,323.8 1167,320.1 1167,312.6Z M1186.4,308.9 1192.9,312.6 1192.9,320.1 1186.4,323.8 1180,320.1 1180,312.6Z" fill="none" stroke="#c4f2f6" stroke-width="4.3" stroke-linejoin="round"/>
<path d="M1160.6,264.2 1167,267.9 1167,275.4 1160.6,279.1 1154.1,275.4 1154.1,267.9Z M1173.5,264.2 1180,267.9 1180,275.4 1173.5,279.1 1167,275.4 1167,267.9Z M1186.4,264.2 1192.9,267.9 1192.9,275.4 1186.4,279.1 1180,275.4 1180,267.9Z M1154.1,275.4 1160.6,279.1 1160.6,286.6 1154.1,290.3 1147.7,286.6 1147.7,279.1Z M1167,275.4 1173.5,279.1 1173.5,286.6 1167,290.3 1160.6,286.6 1160.6,279.1Z M1180,275.4 1186.4,279.1 1186.4,286.6 1180,290.3 1173.5,286.6 1173.5,279.1Z M1192.9,275.4 1199.3,279.1 1199.3,286.6 1192.9,290.3 1186.4,286.6 1186.4,279.1Z M1147.7,286.6 1154.1,290.3 1154.1,297.7 1147.7,301.4 1141.2,297.7 1141.2,290.3Z M1160.6,286.6 1167,290.3 1167,297.7 1160.6,301.4 1154.1,297.7 1154.1,290.3Z M1173.5,286.6 1180,290.3 1180,297.7 1173.5,301.4 1167,297.7 1167,290.3Z M1186.4,286.6 1192.9,290.3 1192.9,297.7 1186.4,301.4 1180,297.7 1180,290.3Z M1199.3,286.6 1205.8,290.3 1205.8,297.7 1199.3,301.4 1192.9,297.7 1192.9,290.3Z M1154.1,297.7 1160.6,301.4 1160.6,308.9 1154.1,312.6 1147.7,308.9 1147.7,301.4Z M1167,297.7 1173.5,301.4 1173.5,308.9 1167,312.6 1160.6,308.9 1160.6,301.4Z M1180,297.7 1186.4,301.4 1186.4,308.9 1180,312.6 1173.5,308.9 1173.5,301.4Z M1192.9,297.7 1199.3,301.4 1199.3,308.9 1192.9,312.6 1186.4,308.9 1186.4,301.4Z M1160.6,308.9 1167,312.6 1167,320.1 1160.6,323.8 1154.1,320.1 1154.1,312.6Z M1173.5,308.9 1180,312.6 1180,320.1 1173.5,323.8 1167,320.1 1167,312.6Z M1186.4,308.9 1192.9,312.6 1192.9,320.1 1186.4,323.8 1180,320.1 1180,312.6Z" fill="none" stroke="#417f8c" stroke-width="1.7" stroke-linejoin="round"/>
<path d="M1377.9,254.8 1384.3,258.5 1384.3,266 1377.9,269.7 1371.4,266 1371.4,258.5Z M1390.8,254.8 1397.3,258.5 1397.3,266 1390.8,269.7 1384.3,266 1384.3,258.5Z M1403.7,254.8 1410.2,258.5 1410.2,266 1403.7,269.7 1397.3,266 1397.3,258.5Z M1371.4,266 1377.9,269.7 1377.9,277.2 1371.4,280.9 1365,277.2 1365,269.7Z M1384.3,266 1390.8,269.7 1390.8,277.2 1384.3,280.9 1377.9,277.2 1377.9,269.7Z M1397.3,266 1403.7,269.7 1403.7,277.2 1397.3,280.9 1390.8,277.2 1390.8,269.7Z M1410.2,266 1416.6,269.7 1416.6,277.2 1410.2,280.9 1403.7,277.2 1403.7,269.7Z M1365,277.2 1371.4,280.9 1371.4,288.3 1365,292.1 1358.5,288.3 1358.5,280.9Z M1377.9,277.2 1384.3,280.9 1384.3,288.3 1377.9,292.1 1371.4,288.3 1371.4,280.9Z M1390.8,277.2 1397.3,280.9 1397.3,288.3 1390.8,292.1 1384.3,288.3 1384.3,280.9Z M1403.7,277.2 1410.2,280.9 1410.2,288.3 1403.7,292.1 1397.3,288.3 1397.3,280.9Z M1416.6,277.2 1423.1,280.9 1423.1,288.3 1416.6,292.1 1410.2,288.3 1410.2,280.9Z M1371.4,288.3 1377.9,292.1 1377.9,299.5 1371.4,303.2 1365,299.5 1365,292.1Z M1384.3,288.3 1390.8,292.1 1390.8,299.5 1384.3,303.2 1377.9,299.5 1377.9,292.1Z M1397.3,288.3 1403.7,292.1 1403.7,299.5 1397.3,303.2 1390.8,299.5 1390.8,292.1Z M1410.2,288.3 1416.6,292.1 1416.6,299.5 1410.2,303.2 1403.7,299.5 1403.7,292.1Z M1377.9,299.5 1384.3,303.2 1384.3,310.7 1377.9,314.4 1371.4,310.7 1371.4,303.2Z M1390.8,299.5 1397.3,303.2 1397.3,310.7 1390.8,314.4 1384.3,310.7 1384.3,303.2Z M1403.7,299.5 1410.2,303.2 1410.2,310.7 1403.7,314.4 1397.3,310.7 1397.3,303.2Z" fill="none" stroke="#c4f2f6" stroke-width="4.3" stroke-linejoin="round"/>
<path d="M1377.9,254.8 1384.3,258.5 1384.3,266 1377.9,269.7 1371.4,266 1371.4,258.5Z M1390.8,254.8 1397.3,258.5 1397.3,266 1390.8,269.7 1384.3,266 1384.3,258.5Z M1403.7,254.8 1410.2,258.5 1410.2,266 1403.7,269.7 1397.3,266 1397.3,258.5Z M1371.4,266 1377.9,269.7 1377.9,277.2 1371.4,280.9 1365,277.2 1365,269.7Z M1384.3,266 1390.8,269.7 1390.8,277.2 1384.3,280.9 1377.9,277.2 1377.9,269.7Z M1397.3,266 1403.7,269.7 1403.7,277.2 1397.3,280.9 1390.8,277.2 1390.8,269.7Z M1410.2,266 1416.6,269.7 1416.6,277.2 1410.2,280.9 1403.7,277.2 1403.7,269.7Z M1365,277.2 1371.4,280.9 1371.4,288.3 1365,292.1 1358.5,288.3 1358.5,280.9Z M1377.9,277.2 1384.3,280.9 1384.3,288.3 1377.9,292.1 1371.4,288.3 1371.4,280.9Z M1390.8,277.2 1397.3,280.9 1397.3,288.3 1390.8,292.1 1384.3,288.3 1384.3,280.9Z M1403.7,277.2 1410.2,280.9 1410.2,288.3 1403.7,292.1 1397.3,288.3 1397.3,280.9Z M1416.6,277.2 1423.1,280.9 1423.1,288.3 1416.6,292.1 1410.2,288.3 1410.2,280.9Z M1371.4,288.3 1377.9,292.1 1377.9,299.5 1371.4,303.2 1365,299.5 1365,292.1Z M1384.3,288.3 1390.8,292.1 1390.8,299.5 1384.3,303.2 1377.9,299.5 1377.9,292.1Z M1397.3,288.3 1403.7,292.1 1403.7,299.5 1397.3,303.2 1390.8,299.5 1390.8,292.1Z M1410.2,288.3 1416.6,292.1 1416.6,299.5 1410.2,303.2 1403.7,299.5 1403.7,292.1Z M1377.9,299.5 1384.3,303.2 1384.3,310.7 1377.9,314.4 1371.4,310.7 1371.4,303.2Z M1390.8,299.5 1397.3,303.2 1397.3,310.7 1390.8,314.4 1384.3,310.7 1384.3,303.2Z M1403.7,299.5 1410.2,303.2 1410.2,310.7 1403.7,314.4 1397.3,310.7 1397.3,303.2Z" fill="none" stroke="#417f8c" stroke-width="1.7" stroke-linejoin="round"/>
<path d="M1287.6,325.6 1294,329.3 1294,336.8 1287.6,340.5 1281.1,336.8 1281.1,329.3Z M1300.5,325.6 1307,329.3 1307,336.8 1300.5,340.5 1294,336.8 1294,329.3Z M1313.4,325.6 1319.9,329.3 1319.9,336.8 1313.4,340.5 1307,336.8 1307,329.3Z M1281.1,336.8 1287.6,340.5 1287.6,347.9 1281.1,351.7 1274.7,347.9 1274.7,340.5Z M1294,336.8 1300.5,340.5 1300.5,347.9 1294,351.7 1287.6,347.9 1287.6,340.5Z M1307,336.8 1313.4,340.5 1313.4,347.9 1307,351.7 1300.5,347.9 1300.5,340.5Z M1319.9,336.8 1326.3,340.5 1326.3,347.9 1319.9,351.7 1313.4,347.9 1313.4,340.5Z M1274.7,347.9 1281.1,351.7 1281.1,359.1 1274.7,362.8 1268.2,359.1 1268.2,351.7Z M1287.6,347.9 1294,351.7 1294,359.1 1287.6,362.8 1281.1,359.1 1281.1,351.7Z M1300.5,347.9 1307,351.7 1307,359.1 1300.5,362.8 1294,359.1 1294,351.7Z M1313.4,347.9 1319.9,351.7 1319.9,359.1 1313.4,362.8 1307,359.1 1307,351.7Z M1326.3,347.9 1332.8,351.7 1332.8,359.1 1326.3,362.8 1319.9,359.1 1319.9,351.7Z M1281.1,359.1 1287.6,362.8 1287.6,370.3 1281.1,374 1274.7,370.3 1274.7,362.8Z M1294,359.1 1300.5,362.8 1300.5,370.3 1294,374 1287.6,370.3 1287.6,362.8Z M1307,359.1 1313.4,362.8 1313.4,370.3 1307,374 1300.5,370.3 1300.5,362.8Z M1319.9,359.1 1326.3,362.8 1326.3,370.3 1319.9,374 1313.4,370.3 1313.4,362.8Z M1287.6,370.3 1294,374 1294,381.5 1287.6,385.2 1281.1,381.5 1281.1,374Z M1300.5,370.3 1307,374 1307,381.5 1300.5,385.2 1294,381.5 1294,374Z M1313.4,370.3 1319.9,374 1319.9,381.5 1313.4,385.2 1307,381.5 1307,374Z" fill="none" stroke="#c4f2f6" stroke-width="4.3" stroke-linejoin="round"/>
<path d="M1287.6,325.6 1294,329.3 1294,336.8 1287.6,340.5 1281.1,336.8 1281.1,329.3Z M1300.5,325.6 1307,329.3 1307,336.8 1300.5,340.5 1294,336.8 1294,329.3Z M1313.4,325.6 1319.9,329.3 1319.9,336.8 1313.4,340.5 1307,336.8 1307,329.3Z M1281.1,336.8 1287.6,340.5 1287.6,347.9 1281.1,351.7 1274.7,347.9 1274.7,340.5Z M1294,336.8 1300.5,340.5 1300.5,347.9 1294,351.7 1287.6,347.9 1287.6,340.5Z M1307,336.8 1313.4,340.5 1313.4,347.9 1307,351.7 1300.5,347.9 1300.5,340.5Z M1319.9,336.8 1326.3,340.5 1326.3,347.9 1319.9,351.7 1313.4,347.9 1313.4,340.5Z M1274.7,347.9 1281.1,351.7 1281.1,359.1 1274.7,362.8 1268.2,359.1 1268.2,351.7Z M1287.6,347.9 1294,351.7 1294,359.1 1287.6,362.8 1281.1,359.1 1281.1,351.7Z M1300.5,347.9 1307,351.7 1307,359.1 1300.5,362.8 1294,359.1 1294,351.7Z M1313.4,347.9 1319.9,351.7 1319.9,359.1 1313.4,362.8 1307,359.1 1307,351.7Z M1326.3,347.9 1332.8,351.7 1332.8,359.1 1326.3,362.8 1319.9,359.1 1319.9,351.7Z M1281.1,359.1 1287.6,362.8 1287.6,370.3 1281.1,374 1274.7,370.3 1274.7,362.8Z M1294,359.1 1300.5,362.8 1300.5,370.3 1294,374 1287.6,370.3 1287.6,362.8Z M1307,359.1 1313.4,362.8 1313.4,370.3 1307,374 1300.5,370.3 1300.5,362.8Z M1319.9,359.1 1326.3,362.8 1326.3,370.3 1319.9,374 1313.4,370.3 1313.4,362.8Z M1287.6,370.3 1294,374 1294,381.5 1287.6,385.2 1281.1,381.5 1281.1,374Z M1300.5,370.3 1307,374 1307,381.5 1300.5,385.2 1294,381.5 1294,374Z M1313.4,370.3 1319.9,374 1319.9,381.5 1313.4,385.2 1307,381.5 1307,374Z" fill="none" stroke="#417f8c" stroke-width="1.7" stroke-linejoin="round"/>
<path d="M1809.9,99.8 Q1806.3,93.1 1806.1,90.1 C1812.1,79 1797.4,71.3 1803.4,60.2 M1824.8,106 Q1827.6,98.9 1829.7,96.8 C1830.2,86.4 1844.8,91.6 1845.3,81.2 M1828.5,121 Q1835.5,118 1838.5,118 C1846.2,124 1852.8,112 1860.5,118 M1819.1,135.2 Q1825.9,138.7 1827.8,141 C1838.8,143.2 1832.9,157.9 1843.9,160.1 M1804.9,135.9 Q1807.6,143 1807.5,146 C1800.2,154.8 1813.9,163.1 1806.6,172 M1791.3,128.6 Q1787.8,135.4 1785.5,137.3 C1782.9,147.3 1769.7,142.7 1767.1,152.7 M1788.5,115 Q1781.5,118 1778.5,118 C1769,111 1761,125 1751.5,118 M1793.6,101.6 Q1786.3,99.4 1784,97.4 C1772.5,96.9 1775.5,81.2 1764.1,80.7" fill="none" stroke="#6ca4dc" stroke-width="2.6" stroke-linecap="round"/>
<path d="M1814,100.3 a3.2,3.2 0 1 0 4,1 M1821.5,120.8 a3.2,3.2 0 1 0 4,1 M1799.7,131 a3.2,3.2 0 1 0 4,1 M1789.5,109.2 a3.2,3.2 0 1 0 4,1" fill="none" stroke="#6ca4dc" stroke-width="1.8"/>
<path d="M1720.4,153.4 Q1716.8,146.7 1716.6,143.7 C1722.6,132.6 1707.9,124.9 1713.9,113.8 M1735.3,159.6 Q1738.1,152.5 1740.2,150.4 C1740.7,140 1755.3,145.2 1755.8,134.8 M1739,174.6 Q1746,171.6 1749,171.6 C1756.7,177.6 1763.3,165.6 1771,171.6 M1729.6,188.8 Q1736.4,192.3 1738.3,194.6 C1749.3,196.8 1743.4,211.5 1754.4,213.7 M1715.4,189.5 Q1718.1,196.6 1718,199.6 C1710.7,208.4 1724.4,216.7 1717.1,225.6 M1701.8,182.2 Q1698.3,189 1696,190.9 C1693.4,200.9 1680.2,196.3 1677.6,206.3 M1699,168.6 Q1692,171.6 1689,171.6 C1679.5,164.6 1671.5,178.6 1662,171.6 M1704.1,155.2 Q1696.8,153 1694.5,151 C1683,150.5 1686,134.8 1674.6,134.3" fill="none" stroke="#6ca4dc" stroke-width="2.6" stroke-linecap="round"/>
<path d="M1724.5,153.9 a3.2,3.2 0 1 0 4,1 M1732,174.4 a3.2,3.2 0 1 0 4,1 M1710.2,184.6 a3.2,3.2 0 1 0 4,1 M1700,162.8 a3.2,3.2 0 1 0 4,1" fill="none" stroke="#6ca4dc" stroke-width="1.8"/>
<path d="M1850,201.5 Q1846.4,194.8 1846.2,191.8 C1852.2,180.7 1837.5,173 1843.5,161.9 M1864.9,207.7 Q1867.7,200.6 1869.8,198.5 C1870.3,188.1 1884.9,193.3 1885.4,182.9 M1868.6,222.7 Q1875.6,219.7 1878.6,219.7 C1886.3,225.7 1892.9,213.7 1900.6,219.7 M1859.2,236.9 Q1866,240.4 1867.9,242.7 C1878.9,244.9 1873,259.6 1884,261.8 M1845,237.6 Q1847.7,244.7 1847.6,247.7 C1840.3,256.5 1854,264.8 1846.7,273.7 M1831.4,230.3 Q1827.9,237.1 1825.6,239 C1823,249 1809.8,244.4 1807.2,254.4 M1828.6,216.7 Q1821.6,219.7 1818.6,219.7 C1809.1,212.7 1801,226.7 1791.6,219.7 M1833.7,203.3 Q1826.4,201.1 1824.1,199.1 C1812.6,198.6 1815.6,182.9 1804.2,182.4" fill="none" stroke="#6ca4dc" stroke-width="2.6" stroke-linecap="round"/>
<path d="M1854.1,202 a3.2,3.2 0 1 0 4,1 M1861.6,222.5 a3.2,3.2 0 1 0 4,1 M1839.8,232.7 a3.2,3.2 0 1 0 4,1 M1829.6,210.9 a3.2,3.2 0 1 0 4,1" fill="none" stroke="#6ca4dc" stroke-width="1.8"/>
<path d="M1771.7,261 Q1768.1,254.3 1767.9,251.3 C1773.9,240.2 1759.2,232.5 1765.2,221.4 M1786.6,267.2 Q1789.4,260.1 1791.5,258 C1792,247.6 1806.6,252.8 1807.1,242.4 M1790.3,282.2 Q1797.3,279.2 1800.3,279.2 C1808,285.2 1814.6,273.2 1822.3,279.2 M1780.9,296.4 Q1787.7,299.9 1789.6,302.2 C1800.6,304.4 1794.7,319.1 1805.7,321.3 M1766.7,297.1 Q1769.4,304.2 1769.3,307.2 C1762,316 1775.7,324.3 1768.4,333.2 M1753.1,289.8 Q1749.6,296.6 1747.3,298.5 C1744.7,308.5 1731.5,303.9 1728.9,313.9 M1750.3,276.2 Q1743.3,279.2 1740.3,279.2 C1730.8,272.2 1722.8,286.2 1713.3,279.2 M1755.4,262.8 Q1748.1,260.6 1745.8,258.6 C1734.3,258.1 1737.3,242.4 1725.9,241.9" fill="none" stroke="#6ca4dc" stroke-width="2.6" stroke-linecap="round"/>
<path d="M1775.8,261.5 a3.2,3.2 0 1 0 4,1 M1783.3,282 a3.2,3.2 0 1 0 4,1 M1761.5,292.2 a3.2,3.2 0 1 0 4,1 M1751.3,270.4 a3.2,3.2 0 1 0 4,1" fill="none" stroke="#6ca4dc" stroke-width="1.8"/>
<path d="M1677.1,281.8 Q1673.5,275.1 1673.3,272.1 C1679.3,261 1664.6,253.3 1670.6,242.2 M1692,288 Q1694.8,280.9 1696.9,278.8 C1697.4,268.4 1712,273.6 1712.5,263.2 M1695.7,303 Q1702.7,300 1705.7,300 C1713.4,306 1720,294 1727.7,300 M1686.3,317.2 Q1693.1,320.7 1695,323 C1706,325.2 1700.1,339.9 1711.1,342.1 M1672.1,317.9 Q1674.8,325 1674.7,328 C1667.4,336.8 1681.1,345.1 1673.8,354 M1658.5,310.6 Q1655,317.4 1652.7,319.3 C1650.1,329.3 1636.9,324.7 1634.3,334.7 M1655.7,297 Q1648.7,300 1645.7,300 C1636.2,293 1628.2,307 1618.7,300 M1660.8,283.6 Q1653.5,281.4 1651.2,279.4 C1639.7,278.9 1642.7,263.2 1631.3,262.7" fill="none" stroke="#6ca4dc" stroke-width="2.6" stroke-linecap="round"/>
<path d="M1681.2,282.3 a3.2,3.2 0 1 0 4,1 M1688.7,302.8 a3.2,3.2 0 1 0 4,1 M1666.9,313 a3.2,3.2 0 1 0 4,1 M1656.7,291.2 a3.2,3.2 0 1 0 4,1" fill="none" stroke="#6ca4dc" stroke-width="1.8"/>
<path d="M1912.2,273.7 Q1908.6,267 1908.4,264 C1914.4,252.9 1899.7,245.2 1905.7,234.1 M1927.1,279.9 Q1929.9,272.8 1932,270.7 C1932.5,260.3 1947.1,265.5 1947.6,255.1 M1930.8,294.9 Q1937.8,291.9 1940.8,291.9 C1948.5,297.9 1955.1,285.9 1962.8,291.9 M1921.4,309.1 Q1928.2,312.6 1930.1,314.9 C1941.1,317.1 1935.2,331.8 1946.2,334 M1907.2,309.8 Q1909.9,316.9 1909.8,319.9 C1902.5,328.7 1916.2,337 1908.9,345.9 M1893.6,302.5 Q1890.1,309.3 1887.8,311.2 C1885.2,321.2 1872,316.6 1869.4,326.6 M1890.8,288.9 Q1883.8,291.9 1880.8,291.9 C1871.3,284.9 1863.2,298.9 1853.8,291.9 M1895.9,275.5 Q1888.6,273.3 1886.3,271.3 C1874.8,270.8 1877.8,255.1 1866.4,254.6" fill="none" stroke="#6ca4dc" stroke-width="2.6" stroke-linecap="round"/>
<path d="M1916.3,274.2 a3.2,3.2 0 1 0 4,1 M1923.8,294.7 a3.2,3.2 0 1 0 4,1 M1902,304.9 a3.2,3.2 0 1 0 4,1 M1891.8,283.1 a3.2,3.2 0 1 0 4,1" fill="none" stroke="#6ca4dc" stroke-width="1.8"/>
<path d="M1813.6,350.7 Q1810,344 1809.8,341 C1815.8,329.9 1801.1,322.2 1807.1,311.1 M1828.5,356.9 Q1831.3,349.8 1833.4,347.7 C1833.9,337.3 1848.5,342.5 1849,332.1 M1832.2,371.9 Q1839.2,368.9 1842.2,368.9 C1849.9,374.9 1856.5,362.9 1864.2,368.9 M1822.8,386.1 Q1829.6,389.6 1831.5,391.9 C1842.5,394.1 1836.6,408.8 1847.6,411 M1808.6,386.8 Q1811.3,393.9 1811.2,396.9 C1803.9,405.7 1817.6,414 1810.3,422.9 M1795,379.5 Q1791.5,386.3 1789.2,388.2 C1786.6,398.2 1773.4,393.6 1770.8,403.6 M1792.2,365.9 Q1785.2,368.9 1782.2,368.9 C1772.8,361.9 1764.7,375.9 1755.2,368.9 M1797.3,352.5 Q1790,350.3 1787.7,348.3 C1776.2,347.8 1779.2,332.1 1767.8,331.6" fill="none" stroke="#6ca4dc" stroke-width="2.6" stroke-linecap="round"/>
<path d="M1817.7,351.2 a3.2,3.2 0 1 0 4,1 M1825.2,371.7 a3.2,3.2 0 1 0 4,1 M1803.4,381.9 a3.2,3.2 0 1 0 4,1 M1793.2,360.1 a3.2,3.2 0 1 0 4,1" fill="none" stroke="#6ca4dc" stroke-width="1.8"/>
<path d="M1796.3,89.8 1802.4,93.3 1802.4,100.4 1796.3,103.9 1790.2,100.4 1790.2,93.3Z M1808.5,89.8 1814.6,93.3 1814.6,100.4 1808.5,103.9 1802.4,100.4 1802.4,93.3Z M1820.7,89.8 1826.8,93.3 1826.8,100.4 1820.7,103.9 1814.6,100.4 1814.6,93.3Z M1790.2,100.4 1796.3,103.9 1796.3,111 1790.2,114.5 1784.1,111 1784.1,103.9Z M1802.4,100.4 1808.5,103.9 1808.5,111 1802.4,114.5 1796.3,111 1796.3,103.9Z M1814.6,100.4 1820.7,103.9 1820.7,111 1814.6,114.5 1808.5,111 1808.5,103.9Z M1826.8,100.4 1832.9,103.9 1832.9,111 1826.8,114.5 1820.7,111 1820.7,103.9Z M1784.1,111 1790.2,114.5 1790.2,121.5 1784.1,125 1778,121.5 1778,114.5Z M1796.3,111 1802.4,114.5 1802.4,121.5 1796.3,125 1790.2,121.5 1790.2,114.5Z M1808.5,111 1814.6,114.5 1814.6,121.5 1808.5,125 1802.4,121.5 1802.4,114.5Z M1820.7,111 1826.8,114.5 1826.8,121.5 1820.7,125 1814.6,121.5 1814.6,114.5Z M1832.9,111 1839,114.5 1839,121.5 1832.9,125 1826.8,121.5 1826.8,114.5Z M1790.2,121.5 1796.3,125 1796.3,132.1 1790.2,135.6 1784.1,132.1 1784.1,125Z M1802.4,121.5 1808.5,125 1808.5,132.1 1802.4,135.6 1796.3,132.1 1796.3,125Z M1814.6,121.5 1820.7,125 1820.7,132.1 1814.6,135.6 1808.5,132.1 1808.5,125Z M1826.8,121.5 1832.9,125 1832.9,132.1 1826.8,135.6 1820.7,132.1 1820.7,125Z M1796.3,132.1 1802.4,135.6 1802.4,142.7 1796.3,146.2 1790.2,142.7 1790.2,135.6Z M1808.5,132.1 1814.6,135.6 1814.6,142.7 1808.5,146.2 1802.4,142.7 1802.4,135.6Z M1820.7,132.1 1826.8,135.6 1826.8,142.7 1820.7,146.2 1814.6,142.7 1814.6,135.6Z" fill="none" stroke="#3f5f78" stroke-width="1.7" stroke-linejoin="round"/>
<path d="M1706.8,143.4 1712.9,146.9 1712.9,154 1706.8,157.5 1700.7,154 1700.7,146.9Z M1719,143.4 1725.1,146.9 1725.1,154 1719,157.5 1712.9,154 1712.9,146.9Z M1731.2,143.4 1737.3,146.9 1737.3,154 1731.2,157.5 1725.1,154 1725.1,146.9Z M1700.7,154 1706.8,157.5 1706.8,164.6 1700.7,168.1 1694.6,164.6 1694.6,157.5Z M1712.9,154 1719,157.5 1719,164.6 1712.9,168.1 1706.8,164.6 1706.8,157.5Z M1725.1,154 1731.2,157.5 1731.2,164.6 1725.1,168.1 1719,164.6 1719,157.5Z M1737.3,154 1743.4,157.5 1743.4,164.6 1737.3,168.1 1731.2,164.6 1731.2,157.5Z M1694.6,164.5 1700.7,168.1 1700.7,175.1 1694.6,178.7 1688.5,175.1 1688.5,168.1Z M1706.8,164.5 1712.9,168.1 1712.9,175.1 1706.8,178.7 1700.7,175.1 1700.7,168.1Z M1719,164.5 1725.1,168.1 1725.1,175.1 1719,178.7 1712.9,175.1 1712.9,168.1Z M1731.2,164.5 1737.3,168.1 1737.3,175.1 1731.2,178.7 1725.1,175.1 1725.1,168.1Z M1743.4,164.5 1749.5,168.1 1749.5,175.1 1743.4,178.7 1737.3,175.1 1737.3,168.1Z M1700.7,175.1 1706.8,178.6 1706.8,185.7 1700.7,189.2 1694.6,185.7 1694.6,178.6Z M1712.9,175.1 1719,178.6 1719,185.7 1712.9,189.2 1706.8,185.7 1706.8,178.6Z M1725.1,175.1 1731.2,178.6 1731.2,185.7 1725.1,189.2 1719,185.7 1719,178.6Z M1737.3,175.1 1743.4,178.6 1743.4,185.7 1737.3,189.2 1731.2,185.7 1731.2,178.6Z M1706.8,185.7 1712.9,189.2 1712.9,196.3 1706.8,199.8 1700.7,196.3 1700.7,189.2Z M1719,185.7 1725.1,189.2 1725.1,196.3 1719,199.8 1712.9,196.3 1712.9,189.2Z M1731.2,185.7 1737.3,189.2 1737.3,196.3 1731.2,199.8 1725.1,196.3 1725.1,189.2Z" fill="none" stroke="#3f5f78" stroke-width="1.7" stroke-linejoin="round"/>
<path d="M1836.4,191.5 1842.5,195 1842.5,202.1 1836.4,205.6 1830.3,202.1 1830.3,195Z M1848.6,191.5 1854.7,195 1854.7,202.1 1848.6,205.6 1842.5,202.1 1842.5,195Z M1860.8,191.5 1866.9,195 1866.9,202.1 1860.8,205.6 1854.7,202.1 1854.7,195Z M1830.3,202.1 1836.4,205.6 1836.4,212.7 1830.3,216.2 1824.2,212.7 1824.2,205.6Z M1842.5,202.1 1848.6,205.6 1848.6,212.7 1842.5,216.2 1836.4,212.7 1836.4,205.6Z M1854.7,202.1 1860.8,205.6 1860.8,212.7 1854.7,216.2 1848.6,212.7 1848.6,205.6Z M1866.9,202.1 1873,205.6 1873,212.7 1866.9,216.2 1860.8,212.7 1860.8,205.6Z M1824.2,212.6 1830.3,216.2 1830.3,223.2 1824.2,226.8 1818.1,223.2 1818.1,216.2Z M1836.4,212.6 1842.5,216.2 1842.5,223.2 1836.4,226.8 1830.3,223.2 1830.3,216.2Z M1848.6,212.6 1854.7,216.2 1854.7,223.2 1848.6,226.8 1842.5,223.2 1842.5,216.2Z M1860.8,212.6 1866.9,216.2 1866.9,223.2 1860.8,226.8 1854.7,223.2 1854.7,216.2Z M1873,212.6 1879.1,216.2 1879.1,223.2 1873,226.8 1866.9,223.2 1866.9,216.2Z M1830.3,223.2 1836.4,226.7 1836.4,233.8 1830.3,237.3 1824.2,233.8 1824.2,226.7Z M1842.5,223.2 1848.6,226.7 1848.6,233.8 1842.5,237.3 1836.4,233.8 1836.4,226.7Z M1854.7,223.2 1860.8,226.7 1860.8,233.8 1854.7,237.3 1848.6,233.8 1848.6,226.7Z M1866.9,223.2 1873,226.7 1873,233.8 1866.9,237.3 1860.8,233.8 1860.8,226.7Z M1836.4,233.8 1842.5,237.3 1842.5,244.4 1836.4,247.9 1830.3,244.4 1830.3,237.3Z M1848.6,233.8 1854.7,237.3 1854.7,244.4 1848.6,247.9 1842.5,244.4 1842.5,237.3Z M1860.8,233.8 1866.9,237.3 1866.9,244.4 1860.8,247.9 1854.7,244.4 1854.7,237.3Z" fill="none" stroke="#3f5f78" stroke-width="1.7" stroke-linejoin="round"/>
<path d="M1758.1,251 1764.2,254.5 1764.2,261.6 1758.1,265.1 1752,261.6 1752,254.5Z M1770.3,251 1776.4,254.5 1776.4,261.6 1770.3,265.1 1764.2,261.6 1764.2,254.5Z M1782.5,251 1788.6,254.5 1788.6,261.6 1782.5,265.1 1776.4,261.6 1776.4,254.5Z M1752,261.6 1758.1,265.1 1758.1,272.1 1752,275.7 1745.9,272.1 1745.9,265.1Z M1764.2,261.6 1770.3,265.1 1770.3,272.1 1764.2,275.7 1758.1,272.1 1758.1,265.1Z M1776.4,261.6 1782.5,265.1 1782.5,272.1 1776.4,275.7 1770.3,272.1 1770.3,265.1Z M1788.6,261.6 1794.7,265.1 1794.7,272.1 1788.6,275.7 1782.5,272.1 1782.5,265.1Z M1745.9,272.1 1752,275.7 1752,282.7 1745.9,286.2 1739.8,282.7 1739.8,275.7Z M1758.1,272.1 1764.2,275.7 1764.2,282.7 1758.1,286.2 1752,282.7 1752,275.7Z M1770.3,272.1 1776.4,275.7 1776.4,282.7 1770.3,286.2 1764.2,282.7 1764.2,275.7Z M1782.5,272.1 1788.6,275.7 1788.6,282.7 1782.5,286.2 1776.4,282.7 1776.4,275.7Z M1794.7,272.1 1800.8,275.7 1800.8,282.7 1794.7,286.2 1788.6,282.7 1788.6,275.7Z M1752,282.7 1758.1,286.2 1758.1,293.3 1752,296.8 1745.9,293.3 1745.9,286.2Z M1764.2,282.7 1770.3,286.2 1770.3,293.3 1764.2,296.8 1758.1,293.3 1758.1,286.2Z M1776.4,282.7 1782.5,286.2 1782.5,293.3 1776.4,296.8 1770.3,293.3 1770.3,286.2Z M1788.6,282.7 1794.7,286.2 1794.7,293.3 1788.6,296.8 1782.5,293.3 1782.5,286.2Z M1758.1,293.3 1764.2,296.8 1764.2,303.9 1758.1,307.4 1752,303.9 1752,296.8Z M1770.3,293.3 1776.4,296.8 1776.4,303.9 1770.3,307.4 1764.2,303.9 1764.2,296.8Z M1782.5,293.3 1788.6,296.8 1788.6,303.9 1782.5,307.4 1776.4,303.9 1776.4,296.8Z" fill="none" stroke="#3f5f78" stroke-width="1.7" stroke-linejoin="round"/>
<path d="M1663.5,271.8 1669.6,275.3 1669.6,282.4 1663.5,285.9 1657.4,282.4 1657.4,275.3Z M1675.7,271.8 1681.8,275.3 1681.8,282.4 1675.7,285.9 1669.6,282.4 1669.6,275.3Z M1687.9,271.8 1694,275.3 1694,282.4 1687.9,285.9 1681.8,282.4 1681.8,275.3Z M1657.4,282.4 1663.5,285.9 1663.5,292.9 1657.4,296.5 1651.3,292.9 1651.3,285.9Z M1669.6,282.4 1675.7,285.9 1675.7,292.9 1669.6,296.5 1663.5,292.9 1663.5,285.9Z M1681.8,282.4 1687.9,285.9 1687.9,292.9 1681.8,296.5 1675.7,292.9 1675.7,285.9Z M1694,282.4 1700.1,285.9 1700.1,292.9 1694,296.5 1687.9,292.9 1687.9,285.9Z M1651.3,292.9 1657.4,296.5 1657.4,303.5 1651.3,307.1 1645.2,303.5 1645.2,296.5Z M1663.5,292.9 1669.6,296.5 1669.6,303.5 1663.5,307.1 1657.4,303.5 1657.4,296.5Z M1675.7,292.9 1681.8,296.5 1681.8,303.5 1675.7,307.1 1669.6,303.5 1669.6,296.5Z M1687.9,292.9 1694,296.5 1694,303.5 1687.9,307.1 1681.8,303.5 1681.8,296.5Z M1700.1,292.9 1706.2,296.5 1706.2,303.5 1700.1,307.1 1694,303.5 1694,296.5Z M1657.4,303.5 1663.5,307.1 1663.5,314.1 1657.4,317.6 1651.3,314.1 1651.3,307.1Z M1669.6,303.5 1675.7,307.1 1675.7,314.1 1669.6,317.6 1663.5,314.1 1663.5,307.1Z M1681.8,303.5 1687.9,307.1 1687.9,314.1 1681.8,317.6 1675.7,314.1 1675.7,307.1Z M1694,303.5 1700.1,307.1 1700.1,314.1 1694,317.6 1687.9,314.1 1687.9,307.1Z M1663.5,314.1 1669.6,317.6 1669.6,324.7 1663.5,328.2 1657.4,324.7 1657.4,317.6Z M1675.7,314.1 1681.8,317.6 1681.8,324.7 1675.7,328.2 1669.6,324.7 1669.6,317.6Z M1687.9,314.1 1694,317.6 1694,324.7 1687.9,328.2 1681.8,324.7 1681.8,317.6Z" fill="none" stroke="#3f5f78" stroke-width="1.7" stroke-linejoin="round"/>
<path d="M1898.6,263.7 1904.7,267.2 1904.7,274.3 1898.6,277.8 1892.5,274.3 1892.5,267.2Z M1910.8,263.7 1916.9,267.2 1916.9,274.3 1910.8,277.8 1904.7,274.3 1904.7,267.2Z M1923,263.7 1929.1,267.2 1929.1,274.3 1923,277.8 1916.9,274.3 1916.9,267.2Z M1892.5,274.3 1898.6,277.8 1898.6,284.8 1892.5,288.4 1886.4,284.8 1886.4,277.8Z M1904.7,274.3 1910.8,277.8 1910.8,284.8 1904.7,288.4 1898.6,284.8 1898.6,277.8Z M1916.9,274.3 1923,277.8 1923,284.8 1916.9,288.4 1910.8,284.8 1910.8,277.8Z M1929.1,274.3 1935.2,277.8 1935.2,284.8 1929.1,288.4 1923,284.8 1923,277.8Z M1886.4,284.8 1892.5,288.4 1892.5,295.4 1886.4,298.9 1880.3,295.4 1880.3,288.4Z M1898.6,284.8 1904.7,288.4 1904.7,295.4 1898.6,298.9 1892.5,295.4 1892.5,288.4Z M1910.8,284.8 1916.9,288.4 1916.9,295.4 1910.8,298.9 1904.7,295.4 1904.7,288.4Z M1923,284.8 1929.1,288.4 1929.1,295.4 1923,298.9 1916.9,295.4 1916.9,288.4Z M1935.2,284.8 1941.3,288.4 1941.3,295.4 1935.2,298.9 1929.1,295.4 1929.1,288.4Z M1892.5,295.4 1898.6,298.9 1898.6,306 1892.5,309.5 1886.4,306 1886.4,298.9Z M1904.7,295.4 1910.8,298.9 1910.8,306 1904.7,309.5 1898.6,306 1898.6,298.9Z M1916.9,295.4 1923,298.9 1923,306 1916.9,309.5 1910.8,306 1910.8,298.9Z M1929.1,295.4 1935.2,298.9 1935.2,306 1929.1,309.5 1923,306 1923,298.9Z M1898.6,306 1904.7,309.5 1904.7,316.6 1898.6,320.1 1892.5,316.6 1892.5,309.5Z M1910.8,306 1916.9,309.5 1916.9,316.6 1910.8,320.1 1904.7,316.6 1904.7,309.5Z M1923,306 1929.1,309.5 1929.1,316.6 1923,320.1 1916.9,316.6 1916.9,309.5Z" fill="none" stroke="#3f5f78" stroke-width="1.7" stroke-linejoin="round"/>
<path d="M1800,340.7 1806.1,344.2 1806.1,351.3 1800,354.8 1793.9,351.3 1793.9,344.2Z M1812.2,340.7 1818.3,344.2 1818.3,351.3 1812.2,354.8 1806.1,351.3 1806.1,344.2Z M1824.4,340.7 1830.5,344.2 1830.5,351.3 1824.4,354.8 1818.3,351.3 1818.3,344.2Z M1793.9,351.3 1800,354.8 1800,361.8 1793.9,365.4 1787.8,361.8 1787.8,354.8Z M1806.1,351.3 1812.2,354.8 1812.2,361.8 1806.1,365.4 1800,361.8 1800,354.8Z M1818.3,351.3 1824.4,354.8 1824.4,361.8 1818.3,365.4 1812.2,361.8 1812.2,354.8Z M1830.5,351.3 1836.6,354.8 1836.6,361.8 1830.5,365.4 1824.4,361.8 1824.4,354.8Z M1787.8,361.8 1793.9,365.4 1793.9,372.4 1787.8,375.9 1781.7,372.4 1781.7,365.4Z M1800,361.8 1806.1,365.4 1806.1,372.4 1800,375.9 1793.9,372.4 1793.9,365.4Z M1812.2,361.8 1818.3,365.4 1818.3,372.4 1812.2,375.9 1806.1,372.4 1806.1,365.4Z M1824.4,361.8 1830.5,365.4 1830.5,372.4 1824.4,375.9 1818.3,372.4 1818.3,365.4Z M1836.6,361.8 1842.7,365.4 1842.7,372.4 1836.6,375.9 1830.5,372.4 1830.5,365.4Z M1793.9,372.4 1800,375.9 1800,383 1793.9,386.5 1787.8,383 1787.8,375.9Z M1806.1,372.4 1812.2,375.9 1812.2,383 1806.1,386.5 1800,383 1800,375.9Z M1818.3,372.4 1824.4,375.9 1824.4,383 1818.3,386.5 1812.2,383 1812.2,375.9Z M1830.5,372.4 1836.6,375.9 1836.6,383 1830.5,386.5 1824.4,383 1824.4,375.9Z M1800,383 1806.1,386.5 1806.1,393.6 1800,397.1 1793.9,393.6 1793.9,386.5Z M1812.2,383 1818.3,386.5 1818.3,393.6 1812.2,397.1 1806.1,393.6 1806.1,386.5Z M1824.4,383 1830.5,386.5 1830.5,393.6 1824.4,397.1 1818.3,393.6 1818.3,386.5Z" fill="none" stroke="#3f5f78" stroke-width="1.7" stroke-linejoin="round"/>
<circle cx="1440.1" cy="88.3" r="31" fill="url(#glow)"/>
<circle cx="1440.1" cy="88.3" r="15" fill="url(#ballg)" stroke="#111" stroke-width="2.2"/>
<defs><radialGradient id="glow2" cx="0.5" cy="0.5" r="0.5"><stop offset="0" stop-color="#9fe0f6"/><stop offset="0.62" stop-color="#a6e4f6"/><stop offset="0.85" stop-color="#cdf0fa" stop-opacity="0.8"/><stop offset="1" stop-color="#ffffff" stop-opacity="0"/></radialGradient></defs>
<ellipse cx="1958" cy="105" rx="42" ry="41" fill="url(#glow2)"/>
<path d="M1958.8,92 C1964.2,86.4 1954.5,81.7 1959,76 M1968.4,98 C1976.1,99.3 1974.6,88.7 1981.7,89.1 M1970,105 C1975.5,110.5 1980.4,100.9 1986,105.4 M1965.7,113.2 C1965.7,121 1976,117.6 1976.8,124.8 M1957,116 C1951.5,121.5 1961.1,126.4 1956.6,132 M1948.8,111.7 C1941,111.7 1944.4,122 1937.2,122.8 M1946,104 C1940,99 1936,109 1930,105 M1950.3,94.8 C1950.3,87 1940,90.4 1939.2,83.2" fill="none" stroke="#111" stroke-width="3.2" stroke-linecap="round"/>
<circle cx="1958" cy="104" r="14" fill="url(#ballg)" stroke="#111" stroke-width="2"/>
<text x="402.7" y="184" font-family='"Noto Sans CJK KR", "Liberation Sans", sans-serif' font-weight="700" font-size="28.5" text-anchor="start" fill="#000" textLength="175" lengthAdjust="spacingAndGlyphs">Intercalation</text>
<text x="393.7" y="291.1" font-family='"Noto Sans CJK KR", "Liberation Sans", sans-serif' font-weight="700" font-size="28.5" text-anchor="start" fill="#000" textLength="205" lengthAdjust="spacingAndGlyphs" word-spacing="4">250 <tspan font-size="20" dy="-9">o</tspan><tspan dy="9">C, 24 hrs.</tspan></text>
<text x="957.6" y="187.2" font-family='"Noto Sans CJK KR", "Liberation Sans", sans-serif' font-weight="700" font-size="28.5" text-anchor="start" fill="#000" textLength="147.5" lengthAdjust="spacingAndGlyphs">Exfoliation</text>
<text x="925.6" y="294.8" font-family='"Noto Sans CJK KR", "Liberation Sans", sans-serif' font-weight="700" font-size="28.5" text-anchor="start" fill="#000" textLength="211" lengthAdjust="spacingAndGlyphs" word-spacing="4">Sonication, 1hr</text>
<text x="891.2" y="329.2" font-family='"Noto Sans CJK KR", "Liberation Sans", sans-serif' font-weight="700" font-size="28.5" text-anchor="start" fill="#000" textLength="280" lengthAdjust="spacingAndGlyphs" word-spacing="4">In aqueous solution</text>
<text x="1455" y="186.5" font-family='"Noto Sans CJK KR", "Liberation Sans", sans-serif' font-weight="700" font-size="28.5" text-anchor="start" fill="#000" textLength="148.5" lengthAdjust="spacingAndGlyphs">PEGylation</text>
<text x="1440" y="294.6" font-family='"Noto Sans CJK KR", "Liberation Sans", sans-serif' font-weight="700" font-size="28.5" text-anchor="start" fill="#000" textLength="166.5" lengthAdjust="spacingAndGlyphs" word-spacing="4">120 °C, 1 hr</text>
<text x="1432" y="329.7" font-family='"Noto Sans CJK KR", "Liberation Sans", sans-serif' font-weight="700" font-size="28.5" text-anchor="start" fill="#000" textLength="193" lengthAdjust="spacingAndGlyphs">Hydrothermal</text>
<text x="209.7" y="458" font-family='"Noto Sans CJK KR", "Liberation Sans", sans-serif' font-weight="700" font-size="27.5" text-anchor="start" fill="#000" textLength="119" lengthAdjust="spacingAndGlyphs">Graphite</text>
<text x="489" y="458.5" font-family='"Noto Sans CJK KR", "Liberation Sans", sans-serif' font-weight="700" font-size="27.5" text-anchor="start" fill="#000" textLength="483" lengthAdjust="spacingAndGlyphs" word-spacing="6">Graphite intercalation compounds</text>
<text x="1098" y="458" font-family='"Noto Sans CJK KR", "Liberation Sans", sans-serif' font-weight="700" font-size="27.5" text-anchor="start" fill="#000" textLength="439.6" lengthAdjust="spacingAndGlyphs" word-spacing="6">Graphitic quantum dots(GQDs)</text>
<text x="1719" y="459" font-family='"Noto Sans CJK KR", "Liberation Sans", sans-serif' font-weight="700" font-size="27.5" text-anchor="start" fill="#000" textLength="144.5" lengthAdjust="spacingAndGlyphs">PEG-GQDs</text>
<defs><clipPath id="capclip"><rect x="1444.5" y="551.5" width="173" height="90" rx="11"/></clipPath><clipPath id="bodyclip"><rect x="1447.5" y="653" width="167.5" height="292" rx="10"/></clipPath></defs>
<rect x="1444.5" y="551.5" width="173" height="90" fill="#2a2a2a" stroke="none" stroke-width="1" rx="11"/>
<g clip-path="url(#capclip)">
<rect x="1447.5" y="551" width="2.1" height="92" fill="#b4b4b4" stroke="none" stroke-width="1" />
<rect x="1453.2" y="551" width="2.1" height="92" fill="#b4b4b4" stroke="none" stroke-width="1" />
<rect x="1459" y="551" width="2.1" height="92" fill="#b4b4b4" stroke="none" stroke-width="1" />
<rect x="1464.8" y="551" width="2.1" height="92" fill="#b4b4b4" stroke="none" stroke-width="1" />
<rect x="1470.5" y="551" width="2.1" height="92" fill="#b4b4b4" stroke="none" stroke-width="1" />
<rect x="1476.2" y="551" width="2.1" height="92" fill="#b4b4b4" stroke="none" stroke-width="1" />
<rect x="1482" y="551" width="2.1" height="92" fill="#b4b4b4" stroke="none" stroke-width="1" />
<rect x="1487.8" y="551" width="2.1" height="92" fill="#b4b4b4" stroke="none" stroke-width="1" />
<rect x="1493.5" y="551" width="2.1" height="92" fill="#b4b4b4" stroke="none" stroke-width="1" />
<rect x="1499.2" y="551" width="2.1" height="92" fill="#b4b4b4" stroke="none" stroke-width="1" />
<rect x="1505" y="551" width="2.1" height="92" fill="#b4b4b4" stroke="none" stroke-width="1" />
<rect x="1510.8" y="551" width="2.1" height="92" fill="#b4b4b4" stroke="none" stroke-width="1" />
<rect x="1516.5" y="551" width="2.1" height="92" fill="#b4b4b4" stroke="none" stroke-width="1" />
<rect x="1522.2" y="551" width="2.1" height="92" fill="#b4b4b4" stroke="none" stroke-width="1" />
<rect x="1528" y="551" width="2.1" height="92" fill="#b4b4b4" stroke="none" stroke-width="1" />
<rect x="1533.8" y="551" width="2.1" height="92" fill="#b4b4b4" stroke="none" stroke-width="1" />
<rect x="1539.5" y="551" width="2.1" height="92" fill="#b4b4b4" stroke="none" stroke-width="1" />
<rect x="1545.2" y="551" width="2.1" height="92" fill="#b4b4b4" stroke="none" stroke-width="1" />
<rect x="1551" y="551" width="2.1" height="92" fill="#b4b4b4" stroke="none" stroke-width="1" />
<rect x="1556.8" y="551" width="2.1" height="92" fill="#b4b4b4" stroke="none" stroke-width="1" />
<rect x="1562.5" y="551" width="2.1" height="92" fill="#b4b4b4" stroke="none" stroke-width="1" />
<rect x="1568.2" y="551" width="2.1" height="92" fill="#b4b4b4" stroke="none" stroke-width="1" />
<rect x="1574" y="551" width="2.1" height="92" fill="#b4b4b4" stroke="none" stroke-width="1" />
<rect x="1579.8" y="551" width="2.1" height="92" fill="#b4b4b4" stroke="none" stroke-width="1" />
<rect x="1585.5" y="551" width="2.1" height="92" fill="#b4b4b4" stroke="none" stroke-width="1" />
<rect x="1591.2" y="551" width="2.1" height="92" fill="#b4b4b4" stroke="none" stroke-width="1" />
<rect x="1597" y="551" width="2.1" height="92" fill="#b4b4b4" stroke="none" stroke-width="1" />
<rect x="1602.8" y="551" width="2.1" height="92" fill="#b4b4b4" stroke="none" stroke-width="1" />
<rect x="1608.5" y="551" width="2.1" height="92" fill="#b4b4b4" stroke="none" stroke-width="1" />
<rect x="1614.2" y="551" width="2.1" height="92" fill="#b4b4b4" stroke="none" stroke-width="1" />
</g>
<rect x="1444.5" y="551.5" width="173" height="90" fill="none" stroke="#3d6fb6" stroke-width="2" rx="11"/>
<rect x="1458" y="642" width="146" height="11" fill="#efefef" stroke="#333" stroke-width="1.6" />
<g clip-path="url(#bodyclip)">
<rect x="1447.5" y="653" width="167.5" height="292" fill="#f2dccf" stroke="none" stroke-width="1" />
<rect x="1447.5" y="640" width="167.5" height="162.5" fill="#f0f0f0" stroke="none" stroke-width="1" rx="10"/>
</g>
<rect x="1447.5" y="653" width="167.5" height="292" fill="none" stroke="#2b2b2b" stroke-width="2" rx="10"/>
<text x="1449.5" y="746" font-family='"Liberation Sans", Arial, sans-serif' font-weight="700" font-size="25" text-anchor="start" fill="#000" textLength="169.5" lengthAdjust="spacingAndGlyphs">Cyclohexane</text>
<text x="1449.5" y="873" font-family='"Liberation Sans", Arial, sans-serif' font-weight="700" font-size="25" text-anchor="start" fill="#000" textLength="74" lengthAdjust="spacingAndGlyphs">Water</text>
<defs>
<linearGradient id="pbg" x1="0" y1="0" x2="1" y2="0">
 <stop offset="0" stop-color="#c4c4bf"/><stop offset="0.5" stop-color="#cfcfcb"/><stop offset="1" stop-color="#d6d6d2"/>
</linearGradient>
<linearGradient id="towel" x1="0" y1="0" x2="0" y2="1">
 <stop offset="0" stop-color="#e2e2e0"/><stop offset="1" stop-color="#ececea"/>
</linearGradient>
<linearGradient id="capg" x1="0" y1="0" x2="1" y2="0">
 <stop offset="0" stop-color="#e4e4e2"/><stop offset="0.25" stop-color="#f6f6f5"/><stop offset="0.7" stop-color="#f3f3f2"/><stop offset="1" stop-color="#dcdcda"/>
</linearGradient>
<linearGradient id="glassL" x1="0" y1="0" x2="1" y2="0">
 <stop offset="0" stop-color="#b9b9b1"/><stop offset="0.15" stop-color="#c9c9c2"/><stop offset="0.85" stop-color="#c6c6be"/><stop offset="1" stop-color="#b3b3aa"/>
</linearGradient>
<linearGradient id="glassR" x1="0" y1="0" x2="1" y2="0">
 <stop offset="0" stop-color="#c3c3bb"/><stop offset="0.2" stop-color="#d2d2cb"/><stop offset="0.85" stop-color="#cfcfc8"/><stop offset="1" stop-color="#bcbcb4"/>
</linearGradient>
<linearGradient id="brownL" x1="0" y1="0" x2="0" y2="1">
 <stop offset="0" stop-color="#6e3712"/><stop offset="0.15" stop-color="#5e2d0e"/><stop offset="0.7" stop-color="#55280f"/><stop offset="1" stop-color="#6a3a18"/>
</linearGradient>
<linearGradient id="amberR" x1="0" y1="0" x2="0" y2="1">
 <stop offset="0" stop-color="#c99224"/><stop offset="0.35" stop-color="#c08425"/><stop offset="0.65" stop-color="#b27836"/><stop offset="1" stop-color="#c49b54"/>
</linearGradient>
<linearGradient id="foam" x1="0" y1="0" x2="0" y2="1">
 <stop offset="0" stop-color="#d8d8d2" stop-opacity="0"/><stop offset="0.5" stop-color="#e2e2dc"/><stop offset="1" stop-color="#d6d0c0"/>
</linearGradient>
<clipPath id="photoclip"><rect x="1670.5" y="551.5" width="373.5" height="390.5"/></clipPath>
</defs>
<g clip-path="url(#photoclip)">
<rect x="1670.5" y="551.5" width="373.5" height="390.5" fill="url(#pbg)" stroke="none" stroke-width="1" />
<rect x="1670.5" y="858" width="373.5" height="84" fill="url(#towel)" stroke="none" stroke-width="1" />
<line x1="1857.3" y1="880.6" x2="1881.6" y2="882.6" stroke="#d8d8d5" stroke-width="2" stroke-linecap="round" opacity="0.55"/>
<line x1="1675.4" y1="910.8" x2="1690.7" y2="917.6" stroke="#d8d8d5" stroke-width="2" stroke-linecap="round" opacity="0.55"/>
<line x1="1739.5" y1="882.2" x2="1779.4" y2="881.6" stroke="#d8d8d5" stroke-width="2" stroke-linecap="round" opacity="0.55"/>
<line x1="1831.5" y1="927.2" x2="1862.5" y2="920.3" stroke="#d8d8d5" stroke-width="2" stroke-linecap="round" opacity="0.55"/>
<line x1="1980.4" y1="911.5" x2="2008.4" y2="916.3" stroke="#d8d8d5" stroke-width="2" stroke-linecap="round" opacity="0.55"/>
<line x1="1674.8" y1="914.4" x2="1708.8" y2="916.2" stroke="#d8d8d5" stroke-width="2" stroke-linecap="round" opacity="0.55"/>
<line x1="1662.3" y1="885.5" x2="1698.9" y2="885" stroke="#d8d8d5" stroke-width="2" stroke-linecap="round" opacity="0.55"/>
<line x1="1984.4" y1="918.1" x2="2017.3" y2="926.5" stroke="#d8d8d5" stroke-width="2" stroke-linecap="round" opacity="0.55"/>
<line x1="1954.8" y1="892.8" x2="1981" y2="901.5" stroke="#d8d8d5" stroke-width="2" stroke-linecap="round" opacity="0.55"/>
<line x1="1687.5" y1="930.6" x2="1705.9" y2="924.9" stroke="#d8d8d5" stroke-width="2" stroke-linecap="round" opacity="0.55"/>
<line x1="1816.2" y1="937.3" x2="1846.9" y2="933.3" stroke="#d8d8d5" stroke-width="2" stroke-linecap="round" opacity="0.55"/>
<line x1="1797.1" y1="901.6" x2="1820.9" y2="903.3" stroke="#d8d8d5" stroke-width="2" stroke-linecap="round" opacity="0.55"/>
<line x1="1994.1" y1="907.6" x2="2026.1" y2="916.2" stroke="#d8d8d5" stroke-width="2" stroke-linecap="round" opacity="0.55"/>
<line x1="2027.1" y1="928.8" x2="2058.9" y2="922.1" stroke="#d8d8d5" stroke-width="2" stroke-linecap="round" opacity="0.55"/>
<line x1="2017.1" y1="929.1" x2="2054.7" y2="930.5" stroke="#d8d8d5" stroke-width="2" stroke-linecap="round" opacity="0.55"/>
<line x1="1730.7" y1="917.7" x2="1766.5" y2="919.1" stroke="#d8d8d5" stroke-width="2" stroke-linecap="round" opacity="0.55"/>
<line x1="1674.6" y1="884.2" x2="1711" y2="894" stroke="#d8d8d5" stroke-width="2" stroke-linecap="round" opacity="0.55"/>
<line x1="1954.7" y1="868.9" x2="1980" y2="861.9" stroke="#d8d8d5" stroke-width="2" stroke-linecap="round" opacity="0.55"/>
<line x1="1942.6" y1="884.9" x2="1979.5" y2="875.8" stroke="#d8d8d5" stroke-width="2" stroke-linecap="round" opacity="0.55"/>
<line x1="1667.6" y1="909.9" x2="1700.5" y2="906.6" stroke="#d8d8d5" stroke-width="2" stroke-linecap="round" opacity="0.55"/>
<line x1="2023.1" y1="930.7" x2="2050.8" y2="940.7" stroke="#d8d8d5" stroke-width="2" stroke-linecap="round" opacity="0.55"/>
<line x1="1679.7" y1="886.2" x2="1709.7" y2="876.8" stroke="#d8d8d5" stroke-width="2" stroke-linecap="round" opacity="0.55"/>
<line x1="1805.5" y1="877.4" x2="1835.8" y2="870.5" stroke="#d8d8d5" stroke-width="2" stroke-linecap="round" opacity="0.55"/>
<line x1="1980.3" y1="865.3" x2="2003.1" y2="874.5" stroke="#d8d8d5" stroke-width="2" stroke-linecap="round" opacity="0.55"/>
<line x1="1794.1" y1="931.9" x2="1820.6" y2="932.3" stroke="#d8d8d5" stroke-width="2" stroke-linecap="round" opacity="0.55"/>
<line x1="1876.8" y1="912.2" x2="1905.8" y2="914.6" stroke="#d8d8d5" stroke-width="2" stroke-linecap="round" opacity="0.55"/>
<line x1="1843.2" y1="935.4" x2="1868.9" y2="939.8" stroke="#d8d8d5" stroke-width="2" stroke-linecap="round" opacity="0.55"/>
<line x1="1764.9" y1="880.5" x2="1804.4" y2="881" stroke="#d8d8d5" stroke-width="2" stroke-linecap="round" opacity="0.55"/>
<line x1="1654.9" y1="904.8" x2="1680.2" y2="906.4" stroke="#d8d8d5" stroke-width="2" stroke-linecap="round" opacity="0.55"/>
<line x1="1884.5" y1="863.6" x2="1915.3" y2="854.8" stroke="#d8d8d5" stroke-width="2" stroke-linecap="round" opacity="0.55"/>
<line x1="1827.7" y1="910.9" x2="1859.7" y2="908" stroke="#d8d8d5" stroke-width="2" stroke-linecap="round" opacity="0.55"/>
<line x1="1931" y1="917.1" x2="1946.5" y2="908.4" stroke="#d8d8d5" stroke-width="2" stroke-linecap="round" opacity="0.55"/>
<line x1="2016.6" y1="914.7" x2="2037.8" y2="913.9" stroke="#d8d8d5" stroke-width="2" stroke-linecap="round" opacity="0.55"/>
<line x1="1772.1" y1="908.2" x2="1796.2" y2="904.5" stroke="#d8d8d5" stroke-width="2" stroke-linecap="round" opacity="0.55"/>
<line x1="1876.8" y1="890.8" x2="1899.3" y2="888.3" stroke="#d8d8d5" stroke-width="2" stroke-linecap="round" opacity="0.55"/>
<line x1="1660.7" y1="922.2" x2="1690" y2="926.9" stroke="#d8d8d5" stroke-width="2" stroke-linecap="round" opacity="0.55"/>
<line x1="1735.1" y1="886.2" x2="1770.2" y2="881" stroke="#d8d8d5" stroke-width="2" stroke-linecap="round" opacity="0.55"/>
<line x1="1815.9" y1="876.6" x2="1848.3" y2="868.7" stroke="#d8d8d5" stroke-width="2" stroke-linecap="round" opacity="0.55"/>
<line x1="1777.3" y1="887.1" x2="1813.2" y2="885.9" stroke="#d8d8d5" stroke-width="2" stroke-linecap="round" opacity="0.55"/>
<line x1="1714.8" y1="928.7" x2="1738.2" y2="931.7" stroke="#d8d8d5" stroke-width="2" stroke-linecap="round" opacity="0.55"/>
<line x1="1821.9" y1="931" x2="1842.5" y2="923.4" stroke="#d8d8d5" stroke-width="2" stroke-linecap="round" opacity="0.55"/>
<line x1="1723" y1="903.3" x2="1758.2" y2="910.1" stroke="#d8d8d5" stroke-width="2" stroke-linecap="round" opacity="0.55"/>
<line x1="1756.4" y1="876.3" x2="1791.5" y2="879.2" stroke="#d8d8d5" stroke-width="2" stroke-linecap="round" opacity="0.55"/>
<line x1="1781.7" y1="924.9" x2="1799.9" y2="920.7" stroke="#d8d8d5" stroke-width="2" stroke-linecap="round" opacity="0.55"/>
<line x1="1753.5" y1="923.9" x2="1777.2" y2="922.3" stroke="#d8d8d5" stroke-width="2" stroke-linecap="round" opacity="0.55"/>
<line x1="1806.1" y1="894.7" x2="1844.1" y2="887.9" stroke="#d8d8d5" stroke-width="2" stroke-linecap="round" opacity="0.55"/>
<line x1="2008.9" y1="862.4" x2="2045.9" y2="872.1" stroke="#d8d8d5" stroke-width="2" stroke-linecap="round" opacity="0.55"/>
<line x1="2011.6" y1="895.9" x2="2049.7" y2="890.3" stroke="#d8d8d5" stroke-width="2" stroke-linecap="round" opacity="0.55"/>
<line x1="1968.4" y1="920.2" x2="2000" y2="920.5" stroke="#d8d8d5" stroke-width="2" stroke-linecap="round" opacity="0.55"/>
<line x1="1780.1" y1="884.5" x2="1800.8" y2="875.9" stroke="#d8d8d5" stroke-width="2" stroke-linecap="round" opacity="0.55"/>
<line x1="1759.6" y1="907.9" x2="1794.8" y2="898.8" stroke="#d8d8d5" stroke-width="2" stroke-linecap="round" opacity="0.55"/>
<line x1="1914.1" y1="932.5" x2="1952.2" y2="940.4" stroke="#d8d8d5" stroke-width="2" stroke-linecap="round" opacity="0.55"/>
<line x1="1869.7" y1="932.2" x2="1885.1" y2="937.1" stroke="#d8d8d5" stroke-width="2" stroke-linecap="round" opacity="0.55"/>
<line x1="1764.5" y1="875.4" x2="1796" y2="875.9" stroke="#d8d8d5" stroke-width="2" stroke-linecap="round" opacity="0.55"/>
<line x1="2007.3" y1="894.3" x2="2037.6" y2="891.1" stroke="#d8d8d5" stroke-width="2" stroke-linecap="round" opacity="0.55"/>
<line x1="1977.9" y1="881.7" x2="2004.9" y2="887.3" stroke="#d8d8d5" stroke-width="2" stroke-linecap="round" opacity="0.55"/>
<line x1="1725.5" y1="889.4" x2="1753.9" y2="895.8" stroke="#d8d8d5" stroke-width="2" stroke-linecap="round" opacity="0.55"/>
<line x1="1951.3" y1="875.4" x2="1989.4" y2="881.5" stroke="#d8d8d5" stroke-width="2" stroke-linecap="round" opacity="0.55"/>
<line x1="1653.4" y1="926.2" x2="1684.1" y2="933.5" stroke="#d8d8d5" stroke-width="2" stroke-linecap="round" opacity="0.55"/>
<line x1="1753.6" y1="865.9" x2="1775.3" y2="866.4" stroke="#d8d8d5" stroke-width="2" stroke-linecap="round" opacity="0.55"/>
<line x1="1830.2" y1="895" x2="1864.6" y2="885" stroke="#d8d8d5" stroke-width="2" stroke-linecap="round" opacity="0.55"/>
<line x1="1698.7" y1="866.3" x2="1716.8" y2="857.6" stroke="#d8d8d5" stroke-width="2" stroke-linecap="round" opacity="0.55"/>
<line x1="1975.2" y1="938" x2="1992.3" y2="938.1" stroke="#d8d8d5" stroke-width="2" stroke-linecap="round" opacity="0.55"/>
<line x1="1770" y1="886.6" x2="1793.8" y2="889.6" stroke="#d8d8d5" stroke-width="2" stroke-linecap="round" opacity="0.55"/>
<line x1="1787.6" y1="907.8" x2="1807.4" y2="904.3" stroke="#d8d8d5" stroke-width="2" stroke-linecap="round" opacity="0.55"/>
<line x1="1861.6" y1="871.7" x2="1894.5" y2="869.3" stroke="#d8d8d5" stroke-width="2" stroke-linecap="round" opacity="0.55"/>
<line x1="1718.4" y1="868.2" x2="1742.7" y2="870.3" stroke="#d8d8d5" stroke-width="2" stroke-linecap="round" opacity="0.55"/>
<line x1="1795" y1="923" x2="1830" y2="925.5" stroke="#d8d8d5" stroke-width="2" stroke-linecap="round" opacity="0.55"/>
<line x1="1792" y1="895.7" x2="1819.4" y2="899.7" stroke="#d8d8d5" stroke-width="2" stroke-linecap="round" opacity="0.55"/>
<line x1="1914.3" y1="894.8" x2="1940.8" y2="889.7" stroke="#d8d8d5" stroke-width="2" stroke-linecap="round" opacity="0.55"/>
<path d="M1709,662 L1853,662 L1853,905 Q1853,921 1837,922 L1725,922 Q1709,921 1709,905 Z" fill="url(#glassL)"/>
<path d="M1711,794 L1851,794 L1851,905 Q1851,919 1836,920 L1726,920 Q1711,919 1711,905 Z" fill="url(#brownL)"/>
<rect x="1711" y="784" width="140" height="14" fill="url(#foam)" stroke="none" stroke-width="1" />
<path d="M1716,796 Q1735,818 1748,802 Q1768,822 1790,806 Q1805,824 1830,802 L1848,798 L1848,796 Z" fill="#4a200a" opacity="0.55"/>
<path d="M1722,660 Q1784,652 1846,660 L1846,678 Q1784,692 1722,678 Z" fill="#5a3212" opacity="0.8"/>
<path d="M1735,668 Q1784,662 1832,668" stroke="#b89a80" stroke-width="1.6" fill="none" opacity="0.7"/>
<path d="M1712,684 Q1784,696 1852,684" stroke="#a9a9a0" stroke-width="2" fill="none" opacity="0.6"/>
<path d="M1856,668 L2003,668 L2003,905 Q2003,921 1987,922 L1872,922 Q1856,921 1856,905 Z" fill="url(#glassR)"/>
<path d="M1858,797 L2001,797 L2001,905 Q2001,919 1986,920 L1873,920 Q1858,919 1858,905 Z" fill="url(#amberR)"/>
<rect x="1858" y="787" width="143" height="12" fill="url(#foam)" stroke="none" stroke-width="1" />
<path d="M1880,858 Q1900,830 1920,860 Q1940,880 1960,850 L1985,840 L1985,900 L1880,900 Z" fill="#b98a4a" opacity="0.35"/>
<path d="M1864,678 Q1930,672 1996,678 L1996,688 Q1930,696 1864,688 Z" fill="#a8561e" opacity="0.6"/>
<path d="M1860,694 Q1930,702 2000,694" stroke="#b4b4ac" stroke-width="2" fill="none" opacity="0.6"/>
<rect x="1858" y="690" width="3" height="100" fill="#e8e8e4" stroke="none" stroke-width="1" opacity="0.6"/>
<rect x="1958" y="680" width="3" height="40" fill="#f4f4f0" stroke="none" stroke-width="1" opacity="0.7"/>
<path d="M1711.5,587.5 Q1711.5,574.5 1733.5,573.5 L1832.5,573.5 Q1854.5,574.5 1854.5,587.5 L1854.5,651 Q1783,663 1711.5,651 Z" fill="url(#capg)"/>
<line x1="1716.5" y1="582.5" x2="1716.5" y2="640" stroke="#dcdcda" stroke-width="1.1" />
<line x1="1721.7" y1="582.5" x2="1721.7" y2="640" stroke="#dcdcda" stroke-width="1.1" />
<line x1="1726.9" y1="582.5" x2="1726.9" y2="640" stroke="#dcdcda" stroke-width="1.1" />
<line x1="1732.1" y1="582.5" x2="1732.1" y2="640" stroke="#dcdcda" stroke-width="1.1" />
<line x1="1737.3" y1="582.5" x2="1737.3" y2="640" stroke="#dcdcda" stroke-width="1.1" />
<line x1="1742.5" y1="582.5" x2="1742.5" y2="640" stroke="#dcdcda" stroke-width="1.1" />
<line x1="1747.7" y1="582.5" x2="1747.7" y2="640" stroke="#dcdcda" stroke-width="1.1" />
<line x1="1752.9" y1="582.5" x2="1752.9" y2="640" stroke="#dcdcda" stroke-width="1.1" />
<line x1="1758.1" y1="582.5" x2="1758.1" y2="640" stroke="#dcdcda" stroke-width="1.1" />
<line x1="1763.3" y1="582.5" x2="1763.3" y2="640" stroke="#dcdcda" stroke-width="1.1" />
<line x1="1768.5" y1="582.5" x2="1768.5" y2="640" stroke="#dcdcda" stroke-width="1.1" />
<line x1="1773.7" y1="582.5" x2="1773.7" y2="640" stroke="#dcdcda" stroke-width="1.1" />
<line x1="1778.9" y1="582.5" x2="1778.9" y2="640" stroke="#dcdcda" stroke-width="1.1" />
<line x1="1784.1" y1="582.5" x2="1784.1" y2="640" stroke="#dcdcda" stroke-width="1.1" />
<line x1="1789.3" y1="582.5" x2="1789.3" y2="640" stroke="#dcdcda" stroke-width="1.1" />
<line x1="1794.5" y1="582.5" x2="1794.5" y2="640" stroke="#dcdcda" stroke-width="1.1" />
<line x1="1799.7" y1="582.5" x2="1799.7" y2="640" stroke="#dcdcda" stroke-width="1.1" />
<line x1="1804.9" y1="582.5" x2="1804.9" y2="640" stroke="#dcdcda" stroke-width="1.1" />
<line x1="1810.1" y1="582.5" x2="1810.1" y2="640" stroke="#dcdcda" stroke-width="1.1" />
<line x1="1815.3" y1="582.5" x2="1815.3" y2="640" stroke="#dcdcda" stroke-width="1.1" />
<line x1="1820.5" y1="582.5" x2="1820.5" y2="640" stroke="#dcdcda" stroke-width="1.1" />
<line x1="1825.7" y1="582.5" x2="1825.7" y2="640" stroke="#dcdcda" stroke-width="1.1" />
<line x1="1830.9" y1="582.5" x2="1830.9" y2="640" stroke="#dcdcda" stroke-width="1.1" />
<line x1="1836.1" y1="582.5" x2="1836.1" y2="640" stroke="#dcdcda" stroke-width="1.1" />
<line x1="1841.3" y1="582.5" x2="1841.3" y2="640" stroke="#dcdcda" stroke-width="1.1" />
<line x1="1846.5" y1="582.5" x2="1846.5" y2="640" stroke="#dcdcda" stroke-width="1.1" />
<path d="M1712.5,640 Q1783,649 1853.5,640" stroke="#e2e2e0" stroke-width="1.2" fill="none"/>
<path d="M1713.5,652 Q1783,664 1852.5,652" stroke="#8e8e86" stroke-width="2" fill="none" opacity="0.8"/>
<path d="M1857,589.5 Q1857,576.5 1879,575.5 L1976,575.5 Q1998,576.5 1998,589.5 L1998,658 Q1927.5,670 1857,658 Z" fill="url(#capg)"/>
<line x1="1862" y1="584.5" x2="1862" y2="647" stroke="#dcdcda" stroke-width="1.1" />
<line x1="1867.2" y1="584.5" x2="1867.2" y2="647" stroke="#dcdcda" stroke-width="1.1" />
<line x1="1872.4" y1="584.5" x2="1872.4" y2="647" stroke="#dcdcda" stroke-width="1.1" />
<line x1="1877.6" y1="584.5" x2="1877.6" y2="647" stroke="#dcdcda" stroke-width="1.1" />
<line x1="1882.8" y1="584.5" x2="1882.8" y2="647" stroke="#dcdcda" stroke-width="1.1" />
<line x1="1888" y1="584.5" x2="1888" y2="647" stroke="#dcdcda" stroke-width="1.1" />
<line x1="1893.2" y1="584.5" x2="1893.2" y2="647" stroke="#dcdcda" stroke-width="1.1" />
<line x1="1898.4" y1="584.5" x2="1898.4" y2="647" stroke="#dcdcda" stroke-width="1.1" />
<line x1="1903.6" y1="584.5" x2="1903.6" y2="647" stroke="#dcdcda" stroke-width="1.1" />
<line x1="1908.8" y1="584.5" x2="1908.8" y2="647" stroke="#dcdcda" stroke-width="1.1" />
<line x1="1914" y1="584.5" x2="1914" y2="647" stroke="#dcdcda" stroke-width="1.1" />
<line x1="1919.2" y1="584.5" x2="1919.2" y2="647" stroke="#dcdcda" stroke-width="1.1" />
<line x1="1924.4" y1="584.5" x2="1924.4" y2="647" stroke="#dcdcda" stroke-width="1.1" />
<line x1="1929.6" y1="584.5" x2="1929.6" y2="647" stroke="#dcdcda" stroke-width="1.1" />
<line x1="1934.8" y1="584.5" x2="1934.8" y2="647" stroke="#dcdcda" stroke-width="1.1" />
<line x1="1940" y1="584.5" x2="1940" y2="647" stroke="#dcdcda" stroke-width="1.1" />
<line x1="1945.2" y1="584.5" x2="1945.2" y2="647" stroke="#dcdcda" stroke-width="1.1" />
<line x1="1950.4" y1="584.5" x2="1950.4" y2="647" stroke="#dcdcda" stroke-width="1.1" />
<line x1="1955.6" y1="584.5" x2="1955.6" y2="647" stroke="#dcdcda" stroke-width="1.1" />
<line x1="1960.8" y1="584.5" x2="1960.8" y2="647" stroke="#dcdcda" stroke-width="1.1" />
<line x1="1966" y1="584.5" x2="1966" y2="647" stroke="#dcdcda" stroke-width="1.1" />
<line x1="1971.2" y1="584.5" x2="1971.2" y2="647" stroke="#dcdcda" stroke-width="1.1" />
<line x1="1976.4" y1="584.5" x2="1976.4" y2="647" stroke="#dcdcda" stroke-width="1.1" />
<line x1="1981.6" y1="584.5" x2="1981.6" y2="647" stroke="#dcdcda" stroke-width="1.1" />
<line x1="1986.8" y1="584.5" x2="1986.8" y2="647" stroke="#dcdcda" stroke-width="1.1" />
<line x1="1992" y1="584.5" x2="1992" y2="647" stroke="#dcdcda" stroke-width="1.1" />
<path d="M1858,647 Q1927.5,656 1997,647" stroke="#e2e2e0" stroke-width="1.2" fill="none"/>
<path d="M1859,659 Q1927.5,671 1996,659" stroke="#8e8e86" stroke-width="2" fill="none" opacity="0.8"/>
</g>
<text x="1695" y="987" font-family='"Liberation Sans", Arial, sans-serif' font-weight="700" font-size="38" text-anchor="start" fill="#000" textLength="109.5" lengthAdjust="spacingAndGlyphs">GQDs</text>
<text x="1829.5" y="987" font-family='"Liberation Sans", Arial, sans-serif' font-weight="700" font-size="38" text-anchor="start" fill="#000" textLength="206.5" lengthAdjust="spacingAndGlyphs">PEG-GQDs</text>
<text x="103" y="51.5" font-family='"Liberation Serif", "Times New Roman", serif' font-weight="700" font-size="33" text-anchor="start" fill="#000" >(A)</text>
<text x="29" y="556" font-family='"Liberation Serif", "Times New Roman", serif' font-weight="700" font-size="33" text-anchor="start" fill="#000" >(B)</text>
<text x="1361" y="556" font-family='"Liberation Serif", "Times New Roman", serif' font-weight="700" font-size="33" text-anchor="start" fill="#000" >(C)</text>
<text x="52" y="1087" font-family='"Liberation Serif", "Times New Roman", serif' font-weight="700" font-size="33" text-anchor="start" fill="#000" >(D)</text>
<text x="696" y="1087" font-family='"Liberation Serif", "Times New Roman", serif' font-weight="700" font-size="33" text-anchor="start" fill="#000" >(E)</text>
<text x="1355" y="1087" font-family='"Liberation Serif", "Times New Roman", serif' font-weight="700" font-size="33" text-anchor="start" fill="#000" >(F)</text>
<rect x="337.5" y="866.9" width="19.1" height="67.8" fill="#474747" stroke="#333" stroke-width="1" />
<rect x="368" y="617.8" width="19" height="316.9" fill="#474747" stroke="#333" stroke-width="1" />
<rect x="392.5" y="709.1" width="20.2" height="225.6" fill="#474747" stroke="#333" stroke-width="1" />
<rect x="412.7" y="906.2" width="21.3" height="28.5" fill="#474747" stroke="#333" stroke-width="1" />
<rect x="337.5" y="873.2" width="19.1" height="61.5" fill="#ff0000" stroke="#ff2020" stroke-width="1" fill-opacity="0.7" stroke-opacity="0.6"/>
<rect x="368" y="770.5" width="19" height="164.2" fill="#ff0000" stroke="#ff2020" stroke-width="1" fill-opacity="0.7" stroke-opacity="0.6"/>
<rect x="392.5" y="685.6" width="20.2" height="249.1" fill="#ff0000" stroke="#ff2020" stroke-width="1" fill-opacity="0.7" stroke-opacity="0.6"/>
<rect x="412.7" y="830.1" width="21.3" height="104.6" fill="#ff0000" stroke="#ff2020" stroke-width="1" fill-opacity="0.7" stroke-opacity="0.6"/>
<rect x="434" y="907.4" width="16.5" height="27.3" fill="#ff0000" stroke="#ff2020" stroke-width="1" fill-opacity="0.7" stroke-opacity="0.6"/>
<rect x="450.5" y="907.4" width="18.3" height="27.3" fill="#ff0000" stroke="#ff2020" stroke-width="1" fill-opacity="0.7" stroke-opacity="0.6"/>
<rect x="468.8" y="925.2" width="15.2" height="9.5" fill="#ff0000" stroke="#ff2020" stroke-width="1" fill-opacity="0.7" stroke-opacity="0.6"/>
<path d="M286,934.5 L308,901.5 L332,824.5 L353,776.8 L374,795 L394,839 L418,881 L440,901.5 L464,921.7 L488,930 L528,933.4" stroke="#000" stroke-width="4" fill="none" stroke-linejoin="round"/>
<path d="M300.8,933.4 L330,927 L352,894 L374,824.5 L398,791.5 L418,804 L440,839 L464,876 L486,903 L508,920 L532,926.5 L554,931.6 L596,933.4" stroke="#ff0000" stroke-width="4" fill="none" stroke-linejoin="round"/>
<rect x="192" y="554.4" width="545" height="380.3" fill="none" stroke="#555" stroke-width="2" />
<line x1="184.5" y1="934.7" x2="192" y2="934.7" stroke="#555" stroke-width="2" />
<text x="179" y="945" font-family='"Liberation Sans", Arial, sans-serif' font-weight="700" font-size="36" text-anchor="end" fill="#000" >0</text>
<line x1="184.5" y1="871.3" x2="192" y2="871.3" stroke="#555" stroke-width="2" />
<text x="179" y="881.6" font-family='"Liberation Sans", Arial, sans-serif' font-weight="700" font-size="36" text-anchor="end" fill="#000" >10</text>
<line x1="184.5" y1="807.9" x2="192" y2="807.9" stroke="#555" stroke-width="2" />
<text x="179" y="818.2" font-family='"Liberation Sans", Arial, sans-serif' font-weight="700" font-size="36" text-anchor="end" fill="#000" >20</text>
<line x1="184.5" y1="744.5" x2="192" y2="744.5" stroke="#555" stroke-width="2" />
<text x="179" y="754.8" font-family='"Liberation Sans", Arial, sans-serif' font-weight="700" font-size="36" text-anchor="end" fill="#000" >30</text>
<line x1="184.5" y1="681.2" x2="192" y2="681.2" stroke="#555" stroke-width="2" />
<text x="179" y="691.5" font-family='"Liberation Sans", Arial, sans-serif' font-weight="700" font-size="36" text-anchor="end" fill="#000" >40</text>
<line x1="184.5" y1="617.8" x2="192" y2="617.8" stroke="#555" stroke-width="2" />
<text x="179" y="628.1" font-family='"Liberation Sans", Arial, sans-serif' font-weight="700" font-size="36" text-anchor="end" fill="#000" >50</text>
<line x1="184.5" y1="554.4" x2="192" y2="554.4" stroke="#555" stroke-width="2" />
<text x="179" y="564.7" font-family='"Liberation Sans", Arial, sans-serif' font-weight="700" font-size="36" text-anchor="end" fill="#000" >60</text>
<line x1="188" y1="903" x2="192" y2="903" stroke="#555" stroke-width="1.6" />
<line x1="188" y1="839.6" x2="192" y2="839.6" stroke="#555" stroke-width="1.6" />
<line x1="188" y1="776.2" x2="192" y2="776.2" stroke="#555" stroke-width="1.6" />
<line x1="188" y1="712.9" x2="192" y2="712.9" stroke="#555" stroke-width="1.6" />
<line x1="188" y1="649.5" x2="192" y2="649.5" stroke="#555" stroke-width="1.6" />
<line x1="188" y1="586.1" x2="192" y2="586.1" stroke="#555" stroke-width="1.6" />
<line x1="210.2" y1="934.7" x2="210.2" y2="938.7" stroke="#555" stroke-width="1.6" />
<line x1="329.9" y1="934.7" x2="329.9" y2="938.7" stroke="#555" stroke-width="1.6" />
<line x1="390.6" y1="934.7" x2="390.6" y2="938.7" stroke="#555" stroke-width="1.6" />
<line x1="433.7" y1="934.7" x2="433.7" y2="938.7" stroke="#555" stroke-width="1.6" />
<line x1="467.1" y1="934.7" x2="467.1" y2="938.7" stroke="#555" stroke-width="1.6" />
<line x1="494.5" y1="934.7" x2="494.5" y2="938.7" stroke="#555" stroke-width="1.6" />
<line x1="517.6" y1="934.7" x2="517.6" y2="938.7" stroke="#555" stroke-width="1.6" />
<line x1="537.6" y1="934.7" x2="537.6" y2="938.7" stroke="#555" stroke-width="1.6" />
<line x1="555.2" y1="934.7" x2="555.2" y2="938.7" stroke="#555" stroke-width="1.6" />
<line x1="674.9" y1="934.7" x2="674.9" y2="938.7" stroke="#555" stroke-width="1.6" />
<line x1="226" y1="934.7" x2="226" y2="941.7" stroke="#555" stroke-width="2" />
<line x1="571" y1="934.7" x2="571" y2="941.7" stroke="#555" stroke-width="2" />
<text x="226" y="974.5" font-family='"Liberation Sans", Arial, sans-serif' font-weight="700" font-size="36" text-anchor="middle" fill="#000" >1</text>
<text x="571" y="974.5" font-family='"Liberation Sans", Arial, sans-serif' font-weight="700" font-size="36" text-anchor="middle" fill="#000" >10</text>
<text x="385" y="1019.5" font-family='"Liberation Sans", Arial, sans-serif' font-weight="700" font-size="36" text-anchor="start" fill="#000" textLength="157" lengthAdjust="spacingAndGlyphs">Size (nm)</text>
<text x="102" y="768.5" font-family='"Liberation Sans", Arial, sans-serif' font-weight="700" font-size="36" text-anchor="middle" fill="#000" textLength="244" lengthAdjust="spacingAndGlyphs" transform="rotate(-90 102 768.5)">Frequency (%)</text>
<line x1="455" y1="582.6" x2="528" y2="582.6" stroke="#ff0000" stroke-width="3.5" />
<text x="537" y="593.5" font-family='"Liberation Sans", Arial, sans-serif' font-weight="700" font-size="32" text-anchor="start" fill="#000" textLength="167" lengthAdjust="spacingAndGlyphs">PEG-GQDs</text>
<line x1="455" y1="622" x2="528" y2="622" stroke="#000" stroke-width="3.5" />
<text x="537" y="632" font-family='"Liberation Sans", Arial, sans-serif' font-weight="700" font-size="32" text-anchor="start" fill="#000" textLength="90" lengthAdjust="spacingAndGlyphs">GQDs</text>
<line x1="776" y1="663" x2="1395.5" y2="663" stroke="#222" stroke-width="2.2" />
<line x1="776" y1="789" x2="1395.5" y2="789" stroke="#222" stroke-width="2.2" />
<line x1="776" y1="937" x2="1395.5" y2="937" stroke="#222" stroke-width="2.2" />
<text x="888" y="718" font-family='"Liberation Sans", Arial, sans-serif' font-weight="700" font-size="30" text-anchor="middle" fill="#000" textLength="184.5" lengthAdjust="spacingAndGlyphs">Average size</text>
<text x="887" y="755.5" font-family='"Liberation Sans", Arial, sans-serif' font-weight="700" font-size="30" text-anchor="middle" fill="#000" textLength="62" lengthAdjust="spacingAndGlyphs">/ nm</text>
<text x="1097" y="735.5" font-family='"Liberation Sans", Arial, sans-serif' font-weight="700" font-size="30" text-anchor="middle" fill="#000" textLength="84" lengthAdjust="spacingAndGlyphs">GQDs</text>
<text x="1294" y="735.5" font-family='"Liberation Sans", Arial, sans-serif' font-weight="700" font-size="30" text-anchor="middle" fill="#ff0000" textLength="158" lengthAdjust="spacingAndGlyphs">PEG-GQDs</text>
<text x="888" y="836" font-family='"Liberation Sans", Arial, sans-serif' font-weight="700" font-size="30" text-anchor="middle" fill="#000" textLength="62" lengthAdjust="spacingAndGlyphs">TEM</text>
<text x="1097" y="836" font-family='"Liberation Sans", Arial, sans-serif' font-weight="700" font-size="30" text-anchor="middle" fill="#000" textLength="57" lengthAdjust="spacingAndGlyphs">2.65</text>
<text x="1294" y="836" font-family='"Liberation Sans", Arial, sans-serif' font-weight="700" font-size="30" text-anchor="middle" fill="#ff0000" textLength="57" lengthAdjust="spacingAndGlyphs">3.23</text>
<text x="888" y="911" font-family='"Liberation Sans", Arial, sans-serif' font-weight="700" font-size="30" text-anchor="middle" fill="#000" textLength="59" lengthAdjust="spacingAndGlyphs">DLS</text>
<text x="1097" y="911" font-family='"Liberation Sans", Arial, sans-serif' font-weight="700" font-size="30" text-anchor="middle" fill="#000" textLength="150.5" lengthAdjust="spacingAndGlyphs">2.47 ± 0.96</text>
<text x="1294" y="911" font-family='"Liberation Sans", Arial, sans-serif' font-weight="700" font-size="30" text-anchor="middle" fill="#ff0000" textLength="150.5" lengthAdjust="spacingAndGlyphs">3.58 ± 1.39</text>
<line x1="180.5" y1="1318.4" x2="697" y2="1318.4" stroke="#555" stroke-width="2.4" stroke-dasharray="2.4,8.6"/>
<line x1="180.5" y1="1224.3" x2="697" y2="1224.3" stroke="#555" stroke-width="2.4" stroke-dasharray="2.4,8.6"/>
<line x1="180.5" y1="1130.2" x2="697" y2="1130.2" stroke="#555" stroke-width="2.4" stroke-dasharray="2.4,8.6"/>
<line x1="248.2" y1="1130" x2="248.2" y2="1412.5" stroke="#555" stroke-width="2.4" stroke-dasharray="2.4,8.6"/>
<line x1="315.9" y1="1130" x2="315.9" y2="1412.5" stroke="#555" stroke-width="2.4" stroke-dasharray="2.4,8.6"/>
<line x1="383.6" y1="1130" x2="383.6" y2="1412.5" stroke="#555" stroke-width="2.4" stroke-dasharray="2.4,8.6"/>
<line x1="451.3" y1="1130" x2="451.3" y2="1412.5" stroke="#555" stroke-width="2.4" stroke-dasharray="2.4,8.6"/>
<line x1="519" y1="1130" x2="519" y2="1412.5" stroke="#555" stroke-width="2.4" stroke-dasharray="2.4,8.6"/>
<line x1="586.7" y1="1130" x2="586.7" y2="1412.5" stroke="#555" stroke-width="2.4" stroke-dasharray="2.4,8.6"/>
<line x1="654.4" y1="1130" x2="654.4" y2="1412.5" stroke="#555" stroke-width="2.4" stroke-dasharray="2.4,8.6"/>
<line x1="180.5" y1="1129" x2="180.5" y2="1413.5" stroke="#333" stroke-width="2" />
<line x1="180.5" y1="1412.5" x2="697" y2="1412.5" stroke="#333" stroke-width="2" />
<line x1="172" y1="1412.5" x2="180.5" y2="1412.5" stroke="#333" stroke-width="2" />
<line x1="175" y1="1365.5" x2="186" y2="1365.5" stroke="#333" stroke-width="2" />
<line x1="172" y1="1318.4" x2="180.5" y2="1318.4" stroke="#333" stroke-width="2" />
<line x1="175" y1="1271.3" x2="186" y2="1271.3" stroke="#333" stroke-width="2" />
<line x1="172" y1="1224.3" x2="180.5" y2="1224.3" stroke="#333" stroke-width="2" />
<line x1="175" y1="1177.2" x2="186" y2="1177.2" stroke="#333" stroke-width="2" />
<line x1="172" y1="1130.2" x2="180.5" y2="1130.2" stroke="#333" stroke-width="2" />
<line x1="180.5" y1="1408.5" x2="180.5" y2="1417" stroke="#333" stroke-width="2" />
<line x1="214.3" y1="1408.5" x2="214.3" y2="1417" stroke="#333" stroke-width="2" />
<line x1="248.2" y1="1408.5" x2="248.2" y2="1417" stroke="#333" stroke-width="2" />
<line x1="282.1" y1="1408.5" x2="282.1" y2="1417" stroke="#333" stroke-width="2" />
<line x1="315.9" y1="1408.5" x2="315.9" y2="1417" stroke="#333" stroke-width="2" />
<line x1="349.8" y1="1408.5" x2="349.8" y2="1417" stroke="#333" stroke-width="2" />
<line x1="383.6" y1="1408.5" x2="383.6" y2="1417" stroke="#333" stroke-width="2" />
<line x1="417.4" y1="1408.5" x2="417.4" y2="1417" stroke="#333" stroke-width="2" />
<line x1="451.3" y1="1408.5" x2="451.3" y2="1417" stroke="#333" stroke-width="2" />
<line x1="485.1" y1="1408.5" x2="485.1" y2="1417" stroke="#333" stroke-width="2" />
<line x1="519" y1="1408.5" x2="519" y2="1417" stroke="#333" stroke-width="2" />
<line x1="552.8" y1="1408.5" x2="552.8" y2="1417" stroke="#333" stroke-width="2" />
<line x1="586.7" y1="1408.5" x2="586.7" y2="1417" stroke="#333" stroke-width="2" />
<line x1="620.5" y1="1408.5" x2="620.5" y2="1417" stroke="#333" stroke-width="2" />
<line x1="654.4" y1="1408.5" x2="654.4" y2="1417" stroke="#333" stroke-width="2" />
<line x1="688.2" y1="1408.5" x2="688.2" y2="1417" stroke="#333" stroke-width="2" />
<path d="M180,1412 L190.8,1412.1 L206.3,1412.2 L224.4,1412.3 L242.7,1412.4 L259,1412.3 L271,1412 L278.2,1411.4 L282.4,1410.6 L284.5,1409.6 L285.5,1408.5 L286.5,1407.5 L288.4,1406.5 L291,1405.6 L293.5,1404.7 L296,1403.8 L298.4,1402.9 L300.7,1402 L303,1401 L305.2,1400 L307.3,1398.9 L309.3,1397.9 L311.4,1396.7 L313.6,1395.4 L316,1394 L318.7,1392.4 L321.7,1390.6 L324.7,1388.8 L327.8,1386.8 L330.8,1384.7 L333.6,1382.5 L336.1,1380.2 L338.5,1377.9 L340.8,1375.4 L343,1372.8 L345.2,1370 L347.5,1367 L349.9,1363.7 L352.3,1360.1 L354.7,1356.3 L357,1352.4 L359.3,1348.6 L361.4,1345 L363.4,1341.6 L365.2,1338.4 L366.9,1335.2 L368.6,1332 L370.3,1328.6 L372,1325 L373.7,1321.2 L375.4,1317.4 L377.1,1313.4 L378.8,1309.2 L380.5,1304.7 L382.2,1300 L383.8,1295 L385.5,1289.6 L387,1284.1 L388.7,1278.3 L390.3,1272.3 L392,1266 L393.8,1259.4 L395.6,1252.6 L397.4,1245.5 L399.3,1238.2 L401.2,1230.9 L403,1223.7 L404.8,1216.4 L406.6,1209.1 L408.5,1201.6 L410.3,1194.3 L412.1,1187 L414,1180 L416,1172.8 L418,1165.2 L420.1,1157.7 L422.1,1150.9 L423.9,1145.1 L425.6,1141 L426.9,1138.8 L428,1138.3 L428.9,1138.8 L429.8,1140 L431,1141.2 L432.6,1142 L434.8,1142.4 L437.5,1142.7 L440.4,1143.1 L443.3,1143.7 L446,1144.5 L448.2,1145.6 L449.8,1146.9 L451.1,1148.3 L452.1,1149.9 L453,1151.9 L453.9,1154.4 L455,1157.7 L456.2,1161.8 L457.5,1166.5 L458.8,1171.9 L460.2,1177.6 L461.6,1183.7 L463,1190 L464.5,1196.7 L466.1,1204 L467.6,1211.6 L469.3,1219.3 L470.9,1226.9 L472.6,1234 L474.3,1240.7 L476,1247.2 L477.8,1253.6 L479.5,1259.8 L481.3,1265.9 L483,1272 L484.7,1278.1 L486.4,1284 L488.1,1289.9 L489.8,1295.7 L491.6,1301.4 L493.4,1307 L495.3,1312.5 L497.1,1317.9 L499.1,1323.2 L501,1328.4 L503,1333.3 L505,1338 L507.1,1342.4 L509.2,1346.4 L511.4,1350.3 L513.6,1354 L515.7,1357.5 L517.7,1361 L519.6,1364.4 L521.3,1367.6 L523,1370.7 L524.6,1373.7 L526.3,1376.4 L528,1379 L529.7,1381.4 L531.5,1383.6 L533.2,1385.6 L535,1387.4 L536.8,1389.1 L538.6,1390.5 L540.4,1391.7 L542.3,1392.6 L544.2,1393.3 L546.1,1393.9 L548,1394.5 L550,1395 L552,1395.5 L553.9,1395.9 L555.9,1396.3 L558,1396.6 L560.4,1397 L563,1397.4 L566.1,1397.9 L569.7,1398.5 L573.5,1399.2 L577.3,1399.8 L580.8,1400.4 L583.7,1401 L586,1401.5 L587.9,1401.9 L589.5,1402.4 L590.9,1402.8 L592.4,1403.4 L594,1404 L595.7,1404.8 L597.3,1405.8 L598.9,1406.8 L600.6,1407.8 L602.4,1408.8 L604.6,1409.6 L606.4,1410.3 L607.8,1411 L609.3,1411.6 L611.7,1412.2 L615.7,1412.7 L622,1413 L632,1413.2 L645.5,1413.3 L660.6,1413.2 L675.4,1413.1 L688.2,1413 L697,1413" stroke="#ff0000" stroke-width="4.5" fill="none" stroke-linejoin="round"/>
<line x1="431.9" y1="1123" x2="431.9" y2="1412.5" stroke="#000" stroke-width="2" stroke-dasharray="7,4"/>
<text x="159" y="1138.7" font-family='"Liberation Sans", Arial, sans-serif' font-weight="700" font-size="23" text-anchor="end" fill="#000" textLength="79.5" lengthAdjust="spacingAndGlyphs">150,000</text>
<text x="159" y="1232.8" font-family='"Liberation Sans", Arial, sans-serif' font-weight="700" font-size="23" text-anchor="end" fill="#000" textLength="79.5" lengthAdjust="spacingAndGlyphs">100,000</text>
<text x="157.5" y="1326.9" font-family='"Liberation Sans", Arial, sans-serif' font-weight="700" font-size="23" text-anchor="end" fill="#000" textLength="68.5" lengthAdjust="spacingAndGlyphs">50,000</text>
<text x="171" y="1422.5" font-family='"Liberation Sans", Arial, sans-serif' font-weight="700" font-size="21" text-anchor="end" fill="#223" >0</text>
<text x="244.2" y="1451.3" font-family='"Liberation Sans", Arial, sans-serif' font-weight="700" font-size="21.5" text-anchor="middle" fill="#000" >- 60</text>
<text x="311.9" y="1451.3" font-family='"Liberation Sans", Arial, sans-serif' font-weight="700" font-size="21.5" text-anchor="middle" fill="#000" >- 50</text>
<text x="379.6" y="1451.3" font-family='"Liberation Sans", Arial, sans-serif' font-weight="700" font-size="21.5" text-anchor="middle" fill="#000" >- 40</text>
<text x="447.3" y="1451.3" font-family='"Liberation Sans", Arial, sans-serif' font-weight="700" font-size="21.5" text-anchor="middle" fill="#000" >- 30</text>
<text x="515" y="1451.3" font-family='"Liberation Sans", Arial, sans-serif' font-weight="700" font-size="21.5" text-anchor="middle" fill="#000" >- 20</text>
<text x="582.7" y="1451.3" font-family='"Liberation Sans", Arial, sans-serif' font-weight="700" font-size="21.5" text-anchor="middle" fill="#000" >- 10</text>
<text x="654.4" y="1451.3" font-family='"Liberation Sans", Arial, sans-serif' font-weight="700" font-size="21.5" text-anchor="middle" fill="#000" >0</text>
<text x="483" y="1179.3" font-family='"Liberation Sans", Arial, sans-serif' font-weight="700" font-size="28" text-anchor="start" fill="#000" textLength="199.5" lengthAdjust="spacingAndGlyphs">Zeta potential</text>
<text x="517.5" y="1216.8" font-family='"Liberation Sans", Arial, sans-serif' font-weight="700" font-size="28" text-anchor="start" fill="#000" textLength="130.5" lengthAdjust="spacingAndGlyphs">- 32.3 mV</text>
<text x="59.8" y="1268" font-family='"Liberation Sans", Arial, sans-serif' font-weight="700" font-size="40" text-anchor="middle" fill="#000" textLength="231" lengthAdjust="spacingAndGlyphs" transform="rotate(-90 59.8 1268)">Total counts</text>
<text x="187.5" y="1528.8" font-family='"Liberation Sans", Arial, sans-serif' font-weight="700" font-size="33" text-anchor="start" fill="#000" textLength="478" lengthAdjust="spacingAndGlyphs">Apparent Zeta Potential  (mV)</text>
<path d="M810.7,1252.5 L811.5,1252.8 L812.3,1253.1 L813.1,1253.5 L813.9,1253.3 L814.7,1253.5 L815.5,1251.8 L816.3,1251.8 L817.1,1252.8 L817.9,1252.6 L818.7,1253.1 L819.5,1251.7 L820.3,1251.7 L821.1,1251.2 L821.9,1251.6 L822.7,1251.8 L823.5,1250.7 L824.3,1250.6 L825.1,1250.7 L825.9,1251.9 L826.7,1252.3 L827.5,1251.2 L828.3,1251.9 L829.1,1250.9 L829.9,1251.4 L830.7,1250.6 L831.5,1249.9 L832.3,1251.3 L833.1,1250.7 L833.9,1250.3 L834.7,1251.7 L835.5,1252.1 L836.3,1251.1 L837.1,1251.9 L837.9,1251.5 L838.7,1251.5 L839.5,1250.6 L840.3,1251.5 L841.1,1251.5 L841.9,1252 L842.7,1252 L843.5,1250.9 L844.3,1250.4 L845.1,1249.7 L845.9,1249.3 L846.7,1248.9 L847.5,1249.1 L848.3,1249.8 L849.1,1248.9 L849.9,1249.7 L850.7,1249.5 L851.5,1249.2 L852.3,1250.1 L853.1,1249.8 L853.9,1249.3 L854.7,1249.3 L855.5,1249.7 L856.3,1248.6 L857.1,1249.8 L857.9,1248.5 L858.7,1249.2 L859.5,1249.8 L860.3,1248.3 L861.1,1249.1 L861.9,1248.6 L862.7,1248.7 L863.5,1247.6 L864.3,1247.1 L865.1,1247.1 L865.9,1248.5 L866.7,1247.7 L867.5,1248.4 L868.3,1249 L869.1,1249.3 L869.9,1248.3 L870.7,1247.7 L871.5,1247.7 L872.3,1248.2 L873.1,1247 L873.9,1247.7 L874.7,1248.1 L875.5,1248.4 L876.3,1246.9 L877.1,1247.9 L877.9,1246.6 L878.7,1246.5 L879.5,1246.9 L880.3,1247.7 L881.1,1246.9 L881.9,1247.7 L882.7,1247.3 L883.5,1246.6 L884.3,1246.2 L885.1,1245.7 L885.9,1245.2 L886.7,1245.1 L887.5,1246.1 L888.3,1247.2 L889.1,1246 L889.9,1245.2 L890.7,1246.6 L891.5,1246.4 L892.3,1246 L893.1,1245.4 L893.9,1245.9 L894.7,1246.5 L895.5,1246 L896.3,1245.7 L897.1,1244.8 L897.9,1246 L898.7,1244.9 L899.5,1245.2 L900.3,1246 L901.1,1244.9 L901.9,1245.6 L902.7,1246.3 L903.5,1246 L904.3,1246.1 L905.1,1244.8 L905.9,1244.7 L906.7,1244.1 L907.5,1245.1 L908.3,1244.5 L909.1,1244.4 L909.9,1245.5 L910.7,1245.6 L911.5,1245.9 L912.3,1244.9 L913.1,1244.5 L913.9,1244.7 L914.7,1244.2 L915.5,1243.5 L916.3,1243.3 L917.1,1242.6 L917.9,1242.7 L918.7,1243.8 L919.5,1244.3 L920.3,1243.7 L921.1,1243.1 L921.9,1242.3 L922.7,1241.3 L923.5,1241 L924.3,1241.8 L925.1,1242.2 L925.9,1241.3 L926.7,1241.5 L927.5,1241.4 L928.3,1241.1 L929.1,1240.7 L929.9,1240.5 L930.7,1239.5 L931.5,1239.5 L932.3,1238.5 L933.1,1238.2 L933.9,1238.4 L934.7,1238.2 L935.5,1237.1 L936.3,1237.7 L937.1,1237.1 L937.9,1236.5 L938.7,1234.9 L939.5,1234.9 L940.3,1234.1 L941.1,1234.3 L941.9,1233.7 L942.7,1233.9 L943.5,1233.4 L944.3,1233.2 L945.1,1231.9 L945.9,1231.6 L946.7,1231.4 L947.5,1231.1 L948.3,1229.7 L949.1,1229.7 L949.9,1229.4 L950.7,1228.6 L951.5,1228.5 L952.3,1228 L953.1,1226.6 L953.9,1225.5 L954.7,1223.9 L955.5,1224.2 L956.3,1224.1 L957.1,1222.8 L957.9,1222.3 L958.7,1221.7 L959.5,1221.2 L960.3,1219.4 L961.1,1219.4 L961.9,1218.7 L962.7,1218.2 L963.5,1217.2 L964.3,1216.7 L965.1,1216.4 L965.9,1215.7 L966.7,1215.2 L967.5,1213.2 L968.3,1212.1 L969.1,1211.8 L969.9,1211.8 L970.7,1210.5 L971.5,1210.5 L972.3,1210.1 L973.1,1208.4 L973.9,1208.1 L974.7,1207.1 L975.5,1206 L976.3,1205.3 L977.1,1205 L977.9,1204.3 L978.7,1203.7 L979.5,1202.8 L980.3,1202.9 L981.1,1202.6 L981.9,1202.6 L982.7,1202.2 L983.5,1201.1 L984.3,1201.6 L985.1,1199.8 L985.9,1199.5 L986.7,1198.8 L987.5,1198.5 L988.3,1197.5 L989.1,1198.2 L989.9,1197.5 L990.7,1196.2 L991.5,1196.5 L992.3,1195.4 L993.1,1195.5 L993.9,1195 L994.7,1195 L995.5,1195.6 L996.3,1195.4 L997.1,1194.3 L997.9,1194.4 L998.7,1193.9 L999.5,1192.9 L1000.3,1191.7 L1001.1,1191.9 L1001.9,1191.7 L1002.7,1192.2 L1003.5,1192.3 L1004.3,1191.5 L1005.1,1190.3 L1005.9,1190.7 L1006.7,1188.9 L1007.5,1188.1 L1008.3,1188.4 L1009.1,1188.5 L1009.9,1187.4 L1010.7,1187.7 L1011.5,1188.2 L1012.3,1187.2 L1013.1,1186.7 L1013.9,1185.9 L1014.7,1185.5 L1015.5,1186.5 L1016.3,1185.7 L1017.1,1186.4 L1017.9,1186.5 L1018.7,1185.8 L1019.5,1184.7 L1020.3,1185.5 L1021.1,1184.8 L1021.9,1184.3 L1022.7,1183.8 L1023.5,1184.9 L1024.3,1184.4 L1025.1,1183.8 L1025.9,1183.9 L1026.7,1183.4 L1027.5,1184.2 L1028.3,1184.3 L1029.1,1184.2 L1029.9,1185.2 L1030.7,1186 L1031.5,1185 L1032.3,1185.6 L1033.1,1185.6 L1033.9,1187.1 L1034.7,1187.7 L1035.5,1187.1 L1036.3,1187 L1037.1,1186.9 L1037.9,1188.6 L1038.7,1188.2 L1039.5,1188.9 L1040.3,1189.1 L1041.1,1189.7 L1041.9,1190.1 L1042.7,1190.8 L1043.5,1190.1 L1044.3,1191.3 L1045.1,1191.2 L1045.9,1191.8 L1046.7,1191.9 L1047.5,1192.2 L1048.3,1193 L1049.1,1193.5 L1049.9,1193.8 L1050.7,1195 L1051.5,1195.6 L1052.3,1195 L1053.1,1195.5 L1053.9,1196.4 L1054.7,1198.1 L1055.5,1199.2 L1056.3,1199.4 L1057.1,1198.8 L1057.9,1200.3 L1058.7,1200.7 L1059.5,1201.5 L1060.3,1202.4 L1061.1,1203.1 L1061.9,1203.4 L1062.7,1204.7 L1063.5,1204.6 L1064.3,1204.8 L1065.1,1206.2 L1065.9,1205.8 L1066.7,1206.2 L1067.5,1207.7 L1068.3,1207.3 L1069.1,1208.9 L1069.9,1209.7 L1070.7,1209.8 L1071.5,1209.9 L1072.3,1211.1 L1073.1,1212.2 L1073.9,1211.4 L1074.7,1211.9 L1075.5,1212.4 L1076.3,1212.7 L1077.1,1212.7 L1077.9,1212.4 L1078.7,1213.3 L1079.5,1214.3 L1080.3,1213.4 L1081.1,1213.4 L1081.9,1214.7 L1082.7,1215.4 L1083.5,1215.6 L1084.3,1214.5 L1085.1,1215.5 L1085.9,1216.6 L1086.7,1217.2 L1087.5,1217 L1088.3,1215.7 L1089.1,1216.8 L1089.9,1216.1 L1090.7,1216.6 L1091.5,1217.6 L1092.3,1217.7 L1093.1,1216.6 L1093.9,1216.4 L1094.7,1217.6 L1095.5,1216.7 L1096.3,1217.2 L1097.1,1217.1 L1097.9,1216.5 L1098.7,1217.2 L1099.5,1216.3 L1100.3,1216 L1101.1,1216.4 L1101.9,1215.9 L1102.7,1215.6 L1103.5,1216.4 L1104.3,1217 L1105.1,1217.5 L1105.9,1216.2 L1106.7,1216 L1107.5,1215.6 L1108.3,1215.8 L1109.1,1215.6 L1109.9,1216.2 L1110.7,1215.2 L1111.5,1214 L1112.3,1214.5 L1113.1,1213.4 L1113.9,1213.7 L1114.7,1213.4 L1115.5,1213.9 L1116.3,1213.2 L1117.1,1212.8 L1117.9,1211.7 L1118.7,1211.5 L1119.5,1210.5 L1120.3,1210.9 L1121.1,1210.3 L1121.9,1209 L1122.7,1208.3 L1123.5,1208 L1124.3,1208.2 L1125.1,1206.9 L1125.9,1206.8 L1126.7,1206.3 L1127.5,1204.4 L1128.3,1204.1 L1129.1,1202.3 L1129.9,1201 L1130.7,1200.7 L1131.5,1199.4 L1132.3,1199.6 L1133.1,1198.4 L1133.9,1196.9 L1134.7,1196.6 L1135.5,1194.3 L1136.3,1194 L1137.1,1192 L1137.9,1190.6 L1138.7,1190.9 L1139.5,1190 L1140.3,1188.1 L1141.1,1186.4 L1141.9,1186.8 L1142.7,1186 L1143.5,1185.6 L1144.3,1183.7 L1145.1,1183.6 L1145.9,1182.7 L1146.7,1181.7 L1147.5,1180.8 L1148.3,1180.3 L1149.1,1178.5 L1149.9,1176.6 L1150.7,1174 L1151.5,1172.7 L1152.3,1170.3 L1153.1,1168 L1153.9,1164.8 L1154.7,1162.8 L1155.5,1160 L1156.3,1157.6 L1157.1,1155.1 L1157.9,1152.9 L1158.7,1149.9 L1159.5,1146.6 L1160.3,1143.5 L1161.1,1141.2 L1161.9,1138.5 L1162.7,1137.9 L1163.5,1135.7 L1164.3,1134.2 L1165.1,1131 L1165.9,1129.6 L1166.7,1129 L1167.5,1127.5 L1168.3,1125.6 L1169.1,1124.2 L1169.9,1122.1 L1170.7,1120.7 L1171.5,1119.4 L1172.3,1118.8 L1173.1,1118.1 L1173.9,1118.5 L1174.7,1116.9 L1175.5,1116.1 L1176.3,1115.7 L1177.1,1115.2 L1177.9,1115.4 L1178.7,1115.6 L1179.5,1116.5 L1180.3,1116.4 L1181.1,1118.7 L1181.9,1119.1 L1182.7,1121.1 L1183.5,1122.2 L1184.3,1123.3 L1185.1,1124 L1185.9,1125.9 L1186.7,1125.7 L1187.5,1127.3 L1188.3,1128 L1189.1,1129.9 L1189.9,1131.7 L1190.7,1132.4 L1191.5,1133.7 L1192.3,1135 L1193.1,1137 L1193.9,1138.8 L1194.7,1141.5 L1195.5,1145.1 L1196.3,1146.9 L1197.1,1149 L1197.9,1151.6 L1198.7,1153.9 L1199.5,1157.4 L1200.3,1160.6 L1201.1,1162.6 L1201.9,1165.5 L1202.7,1169.4 L1203.5,1173.7 L1204.3,1176.9 L1205.1,1179.7 L1205.9,1183.7 L1206.7,1185.3 L1207.5,1187.7 L1208.3,1191.9 L1209.1,1194.7 L1209.9,1196.9 L1210.7,1200.5 L1211.5,1204.6 L1212.3,1207.2 L1213.1,1209.4 L1213.9,1211.4 L1214.7,1213.5 L1215.5,1217.5 L1216.3,1219.9 L1217.1,1223.1 L1217.9,1224.2 L1218.7,1226.2 L1219.5,1228 L1220.3,1230.6 L1221.1,1232.3 L1221.9,1234.5 L1222.7,1236.9 L1223.5,1238.8 L1224.3,1240.1 L1225.1,1241.5 L1225.9,1244.8 L1226.7,1245.7 L1227.5,1247.4 L1228.3,1248.8 L1229.1,1250.4 L1229.9,1251 L1230.7,1252.3 L1231.5,1253 L1232.3,1254.8 L1233.1,1256.9 L1233.9,1257.8 L1234.7,1259.2 L1235.5,1259 L1236.3,1258.8 L1237.1,1260.1 L1237.9,1260.9 L1238.7,1261.8 L1239.5,1262.1 L1240.3,1263 L1241.1,1263.8 L1241.9,1264.8 L1242.7,1264.3 L1243.5,1264.5 L1244.3,1265.5 L1245.1,1265 L1245.9,1264.6 L1246.7,1265 L1247.5,1264.9 L1248.3,1266.3 L1249.1,1267.2 L1249.9,1266.8 L1250.7,1266.4 L1251.5,1266.2 L1252.3,1266.5 L1253.1,1266.5 L1253.9,1267.3 L1254.7,1268.1 L1255.5,1268 L1256.3,1267.6 L1257.1,1268.9 L1257.9,1268.3 L1258.7,1268.4 L1259.5,1268.6 L1260.3,1269 L1261.1,1268.7 L1261.9,1269.2 L1262.7,1269.2 L1263.5,1270.2 L1264.3,1270.3 L1265.1,1271 L1265.9,1270.9 L1266.7,1271.1 L1267.5,1270.9 L1268.3,1270.5 L1269.1,1271.1 L1269.9,1271.1 L1270.7,1271.7 L1271.5,1271.5 L1272.3,1271.4 L1273.1,1270.5 L1273.9,1271.1 L1274.7,1270.6 L1275.5,1269.9 L1276.3,1269.4 L1277.1,1269.3 L1277.9,1269.5 L1278.7,1270.4 L1279.5,1270.1 L1280.3,1269.5 L1281.1,1270.6 L1281.9,1270.8 L1282.7,1269.8 L1283.5,1269.4 L1284.3,1269.3 L1285.1,1269.7 L1285.9,1271 L1286.7,1271.8 L1287.5,1271.5 L1288.3,1270.6 L1289.1,1270.6 L1289.9,1270.4 L1290.7,1270.3 L1291.5,1269.6 L1292.3,1270.4 L1293.1,1271.3 L1293.9,1271.5 L1294.7,1270.4 L1295.5,1270.7 L1296.3,1270.1 L1297.1,1270.9 L1297.9,1270.8 L1298.7,1271.7 L1299.5,1271.9 L1300.3,1270.7 L1301.1,1270.4 L1301.9,1271.5 L1302.7,1271.2 L1303.5,1270.9" stroke="#ff0000" stroke-width="3" fill="none" stroke-linejoin="round"/>
<path d="M810.7,1422 L811.5,1421.6 L812.3,1422.3 L813.1,1421.7 L813.9,1422.3 L814.7,1422.3 L815.5,1421.8 L816.3,1422.4 L817.1,1421.9 L817.9,1422.4 L818.7,1422.1 L819.5,1422 L820.3,1422.5 L821.1,1423.5 L821.9,1422.9 L822.7,1422.7 L823.5,1423.4 L824.3,1424.2 L825.1,1424.1 L825.9,1423.8 L826.7,1424.6 L827.5,1423.6 L828.3,1424.4 L829.1,1423.9 L829.9,1423.5 L830.7,1423.2 L831.5,1423.5 L832.3,1424.4 L833.1,1423.9 L833.9,1424.3 L834.7,1424.7 L835.5,1424.4 L836.3,1424.6 L837.1,1424 L837.9,1423.7 L838.7,1423.8 L839.5,1424.6 L840.3,1424.6 L841.1,1424.5 L841.9,1424.9 L842.7,1424.9 L843.5,1424.6 L844.3,1425.3 L845.1,1425.5 L845.9,1424.9 L846.7,1425.1 L847.5,1425.1 L848.3,1425.7 L849.1,1425.8 L849.9,1425.1 L850.7,1425.9 L851.5,1424.9 L852.3,1424.9 L853.1,1425.4 L853.9,1424.7 L854.7,1424.9 L855.5,1424.2 L856.3,1424.9 L857.1,1425.4 L857.9,1425.3 L858.7,1425.8 L859.5,1425.1 L860.3,1425.4 L861.1,1425.3 L861.9,1425.3 L862.7,1425 L863.5,1425.5 L864.3,1425.9 L865.1,1425.4 L865.9,1425.4 L866.7,1424.4 L867.5,1424.9 L868.3,1425.1 L869.1,1425.7 L869.9,1425.8 L870.7,1424.9 L871.5,1424.6 L872.3,1424.9 L873.1,1424.1 L873.9,1424.3 L874.7,1424 L875.5,1423.7 L876.3,1423.5 L877.1,1424.5 L877.9,1423.9 L878.7,1423.9 L879.5,1424 L880.3,1424.9 L881.1,1424.1 L881.9,1424.2 L882.7,1424.4 L883.5,1425.1 L884.3,1425.3 L885.1,1425.5 L885.9,1424.6 L886.7,1424.4 L887.5,1424.2 L888.3,1424.9 L889.1,1425.4 L889.9,1424.3 L890.7,1423.8 L891.5,1423.6 L892.3,1423.5 L893.1,1423.9 L893.9,1424.2 L894.7,1423.8 L895.5,1423.2 L896.3,1423.6 L897.1,1423.7 L897.9,1424 L898.7,1424.8 L899.5,1424.8 L900.3,1424.5 L901.1,1424.5 L901.9,1424.6 L902.7,1423.6 L903.5,1424.5 L904.3,1424.7 L905.1,1425 L905.9,1425 L906.7,1424.3 L907.5,1424 L908.3,1423.4 L909.1,1423.9 L909.9,1423.2 L910.7,1422.9 L911.5,1423 L912.3,1422.9 L913.1,1423.2 L913.9,1422.8 L914.7,1422.6 L915.5,1422.7 L916.3,1422.6 L917.1,1423 L917.9,1422.7 L918.7,1423.9 L919.5,1424.1 L920.3,1423.4 L921.1,1423.2 L921.9,1423.3 L922.7,1423.3 L923.5,1423 L924.3,1423.9 L925.1,1424.7 L925.9,1424.2 L926.7,1424 L927.5,1423.2 L928.3,1422.9 L929.1,1423.1 L929.9,1423.1 L930.7,1423.9 L931.5,1423.3 L932.3,1422.8 L933.1,1424 L933.9,1423.9 L934.7,1423.3 L935.5,1423.6 L936.3,1423 L937.1,1423.4 L937.9,1424.4 L938.7,1424.7 L939.5,1424.6 L940.3,1423.8 L941.1,1423.6 L941.9,1423.2 L942.7,1424 L943.5,1424 L944.3,1424.4 L945.1,1423.9 L945.9,1423.6 L946.7,1424.3 L947.5,1425 L948.3,1425.1 L949.1,1425.2 L949.9,1425.3 L950.7,1425.2 L951.5,1424.4 L952.3,1424.5 L953.1,1424.3 L953.9,1423.8 L954.7,1423.5 L955.5,1423.9 L956.3,1424 L957.1,1424.9 L957.9,1425.7 L958.7,1425.4 L959.5,1426.1 L960.3,1426.5 L961.1,1426.7 L961.9,1425.9 L962.7,1425.3 L963.5,1425.1 L964.3,1424.9 L965.1,1424.9 L965.9,1425.6 L966.7,1426.4 L967.5,1426.7 L968.3,1426.3 L969.1,1426.4 L969.9,1426.7 L970.7,1425.7 L971.5,1426.1 L972.3,1426.7 L973.1,1426.8 L973.9,1426.8 L974.7,1426.3 L975.5,1425.6 L976.3,1426.2 L977.1,1425.8 L977.9,1426.3 L978.7,1426.8 L979.5,1426.2 L980.3,1425.8 L981.1,1426.5 L981.9,1426.5 L982.7,1425.6 L983.5,1425 L984.3,1424.8 L985.1,1425.8 L985.9,1426.2 L986.7,1425.3 L987.5,1425.9 L988.3,1426.5 L989.1,1426.2 L989.9,1425.6 L990.7,1425.5 L991.5,1424.8 L992.3,1424.3 L993.1,1425.5 L993.9,1425.6 L994.7,1425.4 L995.5,1425.9 L996.3,1425.4 L997.1,1425.8 L997.9,1425.9 L998.7,1424.9 L999.5,1424.5 L1000.3,1424.3 L1001.1,1424.1 L1001.9,1424.5 L1002.7,1424.2 L1003.5,1424.3 L1004.3,1423.8 L1005.1,1424.8 L1005.9,1424.4 L1006.7,1424.3 L1007.5,1424.4 L1008.3,1425 L1009.1,1424.5 L1009.9,1425 L1010.7,1424.5 L1011.5,1424.3 L1012.3,1424.2 L1013.1,1423.3 L1013.9,1423.4 L1014.7,1423.1 L1015.5,1422.6 L1016.3,1423.6 L1017.1,1423 L1017.9,1423.2 L1018.7,1423.7 L1019.5,1423.6 L1020.3,1423.1 L1021.1,1423.1 L1021.9,1423.1 L1022.7,1423.4 L1023.5,1422.4 L1024.3,1422.6 L1025.1,1422.1 L1025.9,1421.8 L1026.7,1422.4 L1027.5,1422.2 L1028.3,1422.1 L1029.1,1422.2 L1029.9,1422.5 L1030.7,1421.8 L1031.5,1421.6 L1032.3,1421.3 L1033.1,1421 L1033.9,1421.1 L1034.7,1420.6 L1035.5,1420.4 L1036.3,1420.1 L1037.1,1420.6 L1037.9,1420.4 L1038.7,1420.4 L1039.5,1420.4 L1040.3,1419.2 L1041.1,1419 L1041.9,1419.4 L1042.7,1419.3 L1043.5,1418 L1044.3,1417.3 L1045.1,1417.3 L1045.9,1416.6 L1046.7,1416.4 L1047.5,1415.9 L1048.3,1416.5 L1049.1,1416.9 L1049.9,1417.1 L1050.7,1415.9 L1051.5,1416.1 L1052.3,1416 L1053.1,1415 L1053.9,1415.6 L1054.7,1415.8 L1055.5,1414.7 L1056.3,1415.1 L1057.1,1414.4 L1057.9,1414 L1058.7,1414.5 L1059.5,1414.4 L1060.3,1413.1 L1061.1,1412.8 L1061.9,1412.6 L1062.7,1412.2 L1063.5,1411.6 L1064.3,1411.4 L1065.1,1411.8 L1065.9,1410.7 L1066.7,1411 L1067.5,1410.8 L1068.3,1409.9 L1069.1,1409.8 L1069.9,1410.1 L1070.7,1410 L1071.5,1409.1 L1072.3,1410 L1073.1,1410 L1073.9,1410.2 L1074.7,1408.8 L1075.5,1408.2 L1076.3,1407.4 L1077.1,1408.1 L1077.9,1407.5 L1078.7,1406.9 L1079.5,1406.9 L1080.3,1407.6 L1081.1,1407.6 L1081.9,1406.6 L1082.7,1405.9 L1083.5,1406.6 L1084.3,1406.2 L1085.1,1406.2 L1085.9,1405 L1086.7,1404.3 L1087.5,1404.8 L1088.3,1404.5 L1089.1,1403.6 L1089.9,1404.5 L1090.7,1404.3 L1091.5,1404.3 L1092.3,1403.1 L1093.1,1403.6 L1093.9,1402.5 L1094.7,1403.1 L1095.5,1402.6 L1096.3,1402.1 L1097.1,1402.1 L1097.9,1402.6 L1098.7,1401.7 L1099.5,1400.9 L1100.3,1401 L1101.1,1400.6 L1101.9,1400.1 L1102.7,1399.8 L1103.5,1399.4 L1104.3,1399.4 L1105.1,1399.5 L1105.9,1399.4 L1106.7,1400 L1107.5,1399.5 L1108.3,1399.5 L1109.1,1398.9 L1109.9,1398.9 L1110.7,1398.2 L1111.5,1398.2 L1112.3,1397.7 L1113.1,1398.6 L1113.9,1398.6 L1114.7,1398 L1115.5,1398.1 L1116.3,1398.8 L1117.1,1397.7 L1117.9,1398.3 L1118.7,1397.9 L1119.5,1397.8 L1120.3,1398.2 L1121.1,1397.7 L1121.9,1397.5 L1122.7,1397.7 L1123.5,1398.2 L1124.3,1397.3 L1125.1,1397.6 L1125.9,1397.4 L1126.7,1397.1 L1127.5,1396.5 L1128.3,1396 L1129.1,1395.1 L1129.9,1394.6 L1130.7,1394.2 L1131.5,1394.8 L1132.3,1394.2 L1133.1,1393.6 L1133.9,1393 L1134.7,1393.7 L1135.5,1393.9 L1136.3,1393.5 L1137.1,1392.5 L1137.9,1391.7 L1138.7,1391.2 L1139.5,1391 L1140.3,1390.2 L1141.1,1390.1 L1141.9,1389.5 L1142.7,1390.1 L1143.5,1390.2 L1144.3,1389.3 L1145.1,1388.2 L1145.9,1388.5 L1146.7,1387.4 L1147.5,1386.7 L1148.3,1385.5 L1149.1,1385.3 L1149.9,1385 L1150.7,1384.7 L1151.5,1383.8 L1152.3,1383.6 L1153.1,1382.4 L1153.9,1381.9 L1154.7,1381.1 L1155.5,1380.9 L1156.3,1380 L1157.1,1379.2 L1157.9,1379 L1158.7,1378.5 L1159.5,1378.5 L1160.3,1378.1 L1161.1,1378 L1161.9,1377.4 L1162.7,1376.8 L1163.5,1376.4 L1164.3,1375 L1165.1,1373.8 L1165.9,1373.7 L1166.7,1371.9 L1167.5,1371.3 L1168.3,1370.4 L1169.1,1368.4 L1169.9,1368.1 L1170.7,1367.4 L1171.5,1366.1 L1172.3,1364.9 L1173.1,1363.8 L1173.9,1361.5 L1174.7,1360.2 L1175.5,1358.8 L1176.3,1357.9 L1177.1,1356.6 L1177.9,1355.2 L1178.7,1353.3 L1179.5,1351.9 L1180.3,1350 L1181.1,1348.2 L1181.9,1345.6 L1182.7,1343.1 L1183.5,1341.1 L1184.3,1339.5 L1185.1,1337.4 L1185.9,1336.7 L1186.7,1334.9 L1187.5,1333.2 L1188.3,1331.5 L1189.1,1329.7 L1189.9,1327.6 L1190.7,1324.9 L1191.5,1323.8 L1192.3,1322.3 L1193.1,1320.1 L1193.9,1318.2 L1194.7,1316.5 L1195.5,1313.7 L1196.3,1312.5 L1197.1,1310.2 L1197.9,1307.8 L1198.7,1305.9 L1199.5,1304.8 L1200.3,1302.4 L1201.1,1301.1 L1201.9,1299.9 L1202.7,1297.5 L1203.5,1295.3 L1204.3,1293.4 L1205.1,1291.8 L1205.9,1290.3 L1206.7,1288.6 L1207.5,1286.9 L1208.3,1284.5 L1209.1,1283.9 L1209.9,1283.8 L1210.7,1284.4 L1211.5,1283.9 L1212.3,1284 L1213.1,1283.2 L1213.9,1282.7 L1214.7,1282.8 L1215.5,1283.5 L1216.3,1283.9 L1217.1,1284.1 L1217.9,1283.6 L1218.7,1283.9 L1219.5,1284.1 L1220.3,1284.5 L1221.1,1284.4 L1221.9,1286.1 L1222.7,1286.4 L1223.5,1288.4 L1224.3,1290.1 L1225.1,1290.4 L1225.9,1292 L1226.7,1294.3 L1227.5,1296.4 L1228.3,1297.5 L1229.1,1298.5 L1229.9,1299.8 L1230.7,1302.5 L1231.5,1303.5 L1232.3,1305.6 L1233.1,1306.8 L1233.9,1309.1 L1234.7,1311.9 L1235.5,1313.1 L1236.3,1315.9 L1237.1,1318 L1237.9,1321 L1238.7,1323.5 L1239.5,1325.5 L1240.3,1329 L1241.1,1331.6 L1241.9,1333.7 L1242.7,1336.3 L1243.5,1339.9 L1244.3,1343.2 L1245.1,1346.2 L1245.9,1348.9 L1246.7,1352.1 L1247.5,1355.1 L1248.3,1359 L1249.1,1361.1 L1249.9,1364.9 L1250.7,1368.5 L1251.5,1370.7 L1252.3,1374.7 L1253.1,1377.8 L1253.9,1381.2 L1254.7,1383.3 L1255.5,1385.9 L1256.3,1388.5 L1257.1,1392 L1257.9,1394.3 L1258.7,1396.1 L1259.5,1398.2 L1260.3,1400.1 L1261.1,1401.6 L1261.9,1403.4 L1262.7,1406.4 L1263.5,1407.8 L1264.3,1410.5 L1265.1,1411.5 L1265.9,1412.8 L1266.7,1414.6 L1267.5,1415.7 L1268.3,1417.3 L1269.1,1419.7 L1269.9,1421.5 L1270.7,1422.9 L1271.5,1423.9 L1272.3,1425.4 L1273.1,1426.7 L1273.9,1427.2 L1274.7,1428.2 L1275.5,1428 L1276.3,1429.3 L1277.1,1429.9 L1277.9,1431 L1278.7,1431.6 L1279.5,1431.5 L1280.3,1431.3 L1281.1,1432.7 L1281.9,1432.3 L1282.7,1432.8 L1283.5,1432.9 L1284.3,1433 L1285.1,1433.9 L1285.9,1434.7 L1286.7,1434.1 L1287.5,1434.5 L1288.3,1434.2 L1289.1,1434.6 L1289.9,1434.6 L1290.7,1434.3 L1291.5,1434.3 L1292.3,1434.4 L1293.1,1435.7 L1293.9,1435.8 L1294.7,1435.5 L1295.5,1436.5 L1296.3,1437.2 L1297.1,1436.8 L1297.9,1436.2 L1298.7,1436 L1299.5,1435.8 L1300.3,1436.2 L1301.1,1436.1 L1301.9,1436.3 L1302.7,1436.5 L1303.5,1437.2" stroke="#000" stroke-width="3" fill="none" stroke-linejoin="round"/>
<rect x="810.8" y="1097.5" width="492.8" height="357.1" fill="none" stroke="#555" stroke-width="2" />
<line x1="803" y1="1097.5" x2="810.8" y2="1097.5" stroke="#555" stroke-width="2" />
<line x1="806" y1="1113.1" x2="810.8" y2="1113.1" stroke="#555" stroke-width="2" />
<line x1="803" y1="1128.7" x2="810.8" y2="1128.7" stroke="#555" stroke-width="2" />
<line x1="806" y1="1144.2" x2="810.8" y2="1144.2" stroke="#555" stroke-width="2" />
<line x1="803" y1="1159.8" x2="810.8" y2="1159.8" stroke="#555" stroke-width="2" />
<line x1="806" y1="1175.4" x2="810.8" y2="1175.4" stroke="#555" stroke-width="2" />
<line x1="803" y1="1191" x2="810.8" y2="1191" stroke="#555" stroke-width="2" />
<line x1="806" y1="1206.6" x2="810.8" y2="1206.6" stroke="#555" stroke-width="2" />
<line x1="803" y1="1222.1" x2="810.8" y2="1222.1" stroke="#555" stroke-width="2" />
<line x1="806" y1="1237.7" x2="810.8" y2="1237.7" stroke="#555" stroke-width="2" />
<line x1="803" y1="1253.3" x2="810.8" y2="1253.3" stroke="#555" stroke-width="2" />
<line x1="806" y1="1268.9" x2="810.8" y2="1268.9" stroke="#555" stroke-width="2" />
<line x1="803" y1="1284.5" x2="810.8" y2="1284.5" stroke="#555" stroke-width="2" />
<line x1="806" y1="1300" x2="810.8" y2="1300" stroke="#555" stroke-width="2" />
<line x1="803" y1="1315.6" x2="810.8" y2="1315.6" stroke="#555" stroke-width="2" />
<line x1="806" y1="1331.2" x2="810.8" y2="1331.2" stroke="#555" stroke-width="2" />
<line x1="803" y1="1346.8" x2="810.8" y2="1346.8" stroke="#555" stroke-width="2" />
<line x1="806" y1="1362.4" x2="810.8" y2="1362.4" stroke="#555" stroke-width="2" />
<line x1="803" y1="1377.9" x2="810.8" y2="1377.9" stroke="#555" stroke-width="2" />
<line x1="806" y1="1393.5" x2="810.8" y2="1393.5" stroke="#555" stroke-width="2" />
<line x1="803" y1="1409.1" x2="810.8" y2="1409.1" stroke="#555" stroke-width="2" />
<line x1="806" y1="1424.7" x2="810.8" y2="1424.7" stroke="#555" stroke-width="2" />
<line x1="803" y1="1440.3" x2="810.8" y2="1440.3" stroke="#555" stroke-width="2" />
<line x1="810.8" y1="1454.6" x2="810.8" y2="1458.6" stroke="#555" stroke-width="2" />
<line x1="846" y1="1454.6" x2="846" y2="1461.6" stroke="#555" stroke-width="2" />
<text x="846" y="1491.3" font-family='"Liberation Sans", Arial, sans-serif' font-weight="700" font-size="31" text-anchor="middle" fill="#000" >294</text>
<line x1="881.2" y1="1454.6" x2="881.2" y2="1458.6" stroke="#555" stroke-width="2" />
<line x1="916.4" y1="1454.6" x2="916.4" y2="1461.6" stroke="#555" stroke-width="2" />
<text x="916.4" y="1491.3" font-family='"Liberation Sans", Arial, sans-serif' font-weight="700" font-size="31" text-anchor="middle" fill="#000" >292</text>
<line x1="951.6" y1="1454.6" x2="951.6" y2="1458.6" stroke="#555" stroke-width="2" />
<line x1="986.8" y1="1454.6" x2="986.8" y2="1461.6" stroke="#555" stroke-width="2" />
<text x="986.8" y="1491.3" font-family='"Liberation Sans", Arial, sans-serif' font-weight="700" font-size="31" text-anchor="middle" fill="#000" >290</text>
<line x1="1022" y1="1454.6" x2="1022" y2="1458.6" stroke="#555" stroke-width="2" />
<line x1="1057.2" y1="1454.6" x2="1057.2" y2="1461.6" stroke="#555" stroke-width="2" />
<text x="1057.2" y="1491.3" font-family='"Liberation Sans", Arial, sans-serif' font-weight="700" font-size="31" text-anchor="middle" fill="#000" >288</text>
<line x1="1092.4" y1="1454.6" x2="1092.4" y2="1458.6" stroke="#555" stroke-width="2" />
<line x1="1127.6" y1="1454.6" x2="1127.6" y2="1461.6" stroke="#555" stroke-width="2" />
<text x="1127.6" y="1491.3" font-family='"Liberation Sans", Arial, sans-serif' font-weight="700" font-size="31" text-anchor="middle" fill="#000" >286</text>
<line x1="1162.8" y1="1454.6" x2="1162.8" y2="1458.6" stroke="#555" stroke-width="2" />
<line x1="1198" y1="1454.6" x2="1198" y2="1461.6" stroke="#555" stroke-width="2" />
<text x="1198" y="1491.3" font-family='"Liberation Sans", Arial, sans-serif' font-weight="700" font-size="31" text-anchor="middle" fill="#000" >284</text>
<line x1="1233.2" y1="1454.6" x2="1233.2" y2="1458.6" stroke="#555" stroke-width="2" />
<line x1="1268.4" y1="1454.6" x2="1268.4" y2="1461.6" stroke="#555" stroke-width="2" />
<text x="1268.4" y="1491.3" font-family='"Liberation Sans", Arial, sans-serif' font-weight="700" font-size="31" text-anchor="middle" fill="#000" >282</text>
<line x1="1303.6" y1="1454.6" x2="1303.6" y2="1458.6" stroke="#555" stroke-width="2" />
<line x1="817" y1="1123.9" x2="891" y2="1123.9" stroke="#ff0000" stroke-width="3.5" stroke-linecap="round"/>
<text x="899" y="1133.3" font-family='"Liberation Sans", Arial, sans-serif' font-weight="700" font-size="29.5" text-anchor="start" fill="#000" textLength="166.5" lengthAdjust="spacingAndGlyphs">PEG-GQDs</text>
<line x1="817" y1="1162.8" x2="891" y2="1162.8" stroke="#000" stroke-width="3.5" stroke-linecap="round"/>
<text x="899" y="1172.4" font-family='"Liberation Sans", Arial, sans-serif' font-weight="700" font-size="29.5" text-anchor="start" fill="#000" textLength="88.5" lengthAdjust="spacingAndGlyphs">GQDs</text>
<text x="774" y="1297.5" font-family='"Liberation Sans", Arial, sans-serif' font-weight="700" font-size="30.5" text-anchor="middle" fill="#000" textLength="219" lengthAdjust="spacingAndGlyphs" transform="rotate(-90 774 1297.5)">Intensity (a. u.)</text>
<text x="907.5" y="1542.2" font-family='"Liberation Sans", Arial, sans-serif' font-weight="700" font-size="31.5" text-anchor="start" fill="#000" textLength="299" lengthAdjust="spacingAndGlyphs">Binding energy (eV)</text>
<path d="M1494.7,1169 L1495.5,1169 L1496.3,1169.3 L1497.1,1169.1 L1497.9,1169 L1498.7,1169 L1499.5,1168.8 L1500.3,1168.9 L1501.1,1169 L1501.9,1169.1 L1502.7,1168.8 L1503.5,1168.7 L1504.3,1168.6 L1505.1,1168.9 L1505.9,1169 L1506.7,1168.7 L1507.5,1169.1 L1508.3,1169.2 L1509.1,1169.1 L1509.9,1169.1 L1510.7,1168.8 L1511.5,1168.5 L1512.3,1168.7 L1513.1,1168.5 L1513.9,1168.5 L1514.7,1168.5 L1515.5,1168.4 L1516.3,1168.6 L1517.1,1168.6 L1517.9,1168.9 L1518.7,1168.9 L1519.5,1168.9 L1520.3,1168.8 L1521.1,1168.9 L1521.9,1168.8 L1522.7,1168.6 L1523.5,1169 L1524.3,1169.2 L1525.1,1169.1 L1525.9,1169.1 L1526.7,1168.8 L1527.5,1168.6 L1528.3,1168.5 L1529.1,1168.3 L1529.9,1168.7 L1530.7,1168.6 L1531.5,1168.8 L1532.3,1168.7 L1533.1,1168.9 L1533.9,1169 L1534.7,1168.5 L1535.5,1168.4 L1536.3,1168.8 L1537.1,1168.7 L1537.9,1168.9 L1538.7,1168.7 L1539.5,1168.4 L1540.3,1168.6 L1541.1,1168.7 L1541.9,1168.5 L1542.7,1168.3 L1543.5,1168.3 L1544.3,1168.7 L1545.1,1168.8 L1545.9,1168.4 L1546.7,1168.3 L1547.5,1168.2 L1548.3,1168.1 L1549.1,1168.5 L1549.9,1168.3 L1550.7,1168.4 L1551.5,1168.4 L1552.3,1168.3 L1553.1,1168.5 L1553.9,1168.3 L1554.7,1168.4 L1555.5,1168.2 L1556.3,1168.3 L1557.1,1168.2 L1557.9,1168.2 L1558.7,1168.6 L1559.5,1168.7 L1560.3,1168.4 L1561.1,1168.6 L1561.9,1168.3 L1562.7,1168.3 L1563.5,1168.6 L1564.3,1168.5 L1565.1,1168.2 L1565.9,1168.6 L1566.7,1168.3 L1567.5,1168.2 L1568.3,1168.4 L1569.1,1168.3 L1569.9,1168.2 L1570.7,1168 L1571.5,1167.9 L1572.3,1168.2 L1573.1,1168.1 L1573.9,1168.2 L1574.7,1168.2 L1575.5,1168.2 L1576.3,1168.5 L1577.1,1168.4 L1577.9,1168.4 L1578.7,1168.5 L1579.5,1168.2 L1580.3,1168 L1581.1,1168.4 L1581.9,1168.5 L1582.7,1168.2 L1583.5,1168 L1584.3,1168.3 L1585.1,1168.5 L1585.9,1168.2 L1586.7,1168.4 L1587.5,1168.5 L1588.3,1168.4 L1589.1,1168.2 L1589.9,1168 L1590.7,1167.8 L1591.5,1168.2 L1592.3,1168 L1593.1,1168.2 L1593.9,1168 L1594.7,1168.3 L1595.5,1168.3 L1596.3,1168.1 L1597.1,1167.9 L1597.9,1168.1 L1598.7,1167.9 L1599.5,1167.8 L1600.3,1168 L1601.1,1168.2 L1601.9,1168.2 L1602.7,1168 L1603.5,1168.3 L1604.3,1168 L1605.1,1167.7 L1605.9,1167.8 L1606.7,1167.9 L1607.5,1167.7 L1608.3,1167.7 L1609.1,1167.8 L1609.9,1167.9 L1610.7,1167.7 L1611.5,1167.8 L1612.3,1168.1 L1613.1,1168.3 L1613.9,1168.2 L1614.7,1168.2 L1615.5,1168.1 L1616.3,1167.8 L1617.1,1167.6 L1617.9,1167.5 L1618.7,1167.9 L1619.5,1168 L1620.3,1168.2 L1621.1,1167.8 L1621.9,1167.9 L1622.7,1167.8 L1623.5,1168 L1624.3,1167.8 L1625.1,1168.1 L1625.9,1167.7 L1626.7,1167.8 L1627.5,1167.9 L1628.3,1168.1 L1629.1,1168.1 L1629.9,1168 L1630.7,1168.1 L1631.5,1168.2 L1632.3,1167.9 L1633.1,1167.9 L1633.9,1168.1 L1634.7,1168.2 L1635.5,1167.9 L1636.3,1168 L1637.1,1168.1 L1637.9,1168 L1638.7,1168 L1639.5,1167.9 L1640.3,1168 L1641.1,1168 L1641.9,1167.8 L1642.7,1168 L1643.5,1168.4 L1644.3,1168.6 L1645.1,1168.6 L1645.9,1168.5 L1646.7,1168.7 L1647.5,1168.8 L1648.3,1169 L1649.1,1169.6 L1649.9,1170.9 L1650.7,1172.4 L1651.5,1172.9 L1652.3,1174 L1653.1,1175.1 L1653.9,1176.2 L1654.7,1177.7 L1655.5,1179.1 L1656.3,1180.7 L1657.1,1182.6 L1657.9,1184.4 L1658.7,1186.6 L1659.5,1189.1 L1660.3,1191.8 L1661.1,1193.9 L1661.9,1195.6 L1662.7,1197.3 L1663.5,1197.8 L1664.3,1197.5 L1665.1,1196.8 L1665.9,1195.2 L1666.7,1193.6 L1667.5,1191.5 L1668.3,1189.6 L1669.1,1188 L1669.9,1186.7 L1670.7,1185.4 L1671.5,1183.7 L1672.3,1182.3 L1673.1,1180.7 L1673.9,1179.1 L1674.7,1177.9 L1675.5,1177 L1676.3,1176 L1677.1,1175.1 L1677.9,1174.5 L1678.7,1173.6 L1679.5,1172.9 L1680.3,1172.6 L1681.1,1172.3 L1681.9,1172.1 L1682.7,1172 L1683.5,1172 L1684.3,1171.7 L1685.1,1171.4 L1685.9,1171.4 L1686.7,1171.3 L1687.5,1170.7 L1688.3,1170.1 L1689.1,1169.6 L1689.9,1169.8 L1690.7,1169.3 L1691.5,1169.4 L1692.3,1169.3 L1693.1,1169 L1693.9,1169.1 L1694.7,1168.7 L1695.5,1168.5 L1696.3,1168.5 L1697.1,1168.3 L1697.9,1168.6 L1698.7,1168.4 L1699.5,1168.2 L1700.3,1168 L1701.1,1168.2 L1701.9,1168.2 L1702.7,1168.2 L1703.5,1168.3 L1704.3,1168.3 L1705.1,1168.5 L1705.9,1168.3 L1706.7,1167.9 L1707.5,1167.9 L1708.3,1167.7 L1709.1,1167.4 L1709.9,1167.6 L1710.7,1167.8 L1711.5,1167.5 L1712.3,1167.4 L1713.1,1167.4 L1713.9,1167.6 L1714.7,1167.6 L1715.5,1167.6 L1716.3,1167.7 L1717.1,1167.5 L1717.9,1167.6 L1718.7,1167.8 L1719.5,1167.3 L1720.3,1167.6 L1721.1,1167.6 L1721.9,1167.3 L1722.7,1167.3 L1723.5,1167.4 L1724.3,1167.6 L1725.1,1167.4 L1725.9,1167.4 L1726.7,1167.6 L1727.5,1167.7 L1728.3,1167.8 L1729.1,1167.6 L1729.9,1167.7 L1730.7,1167.5 L1731.5,1167.8 L1732.3,1168 L1733.1,1168.2 L1733.9,1168.4 L1734.7,1168.4 L1735.5,1169 L1736.3,1169.6 L1737.1,1170.2 L1737.9,1170.5 L1738.7,1171.2 L1739.5,1171.4 L1740.3,1172.1 L1741.1,1172.5 L1741.9,1172.3 L1742.7,1172.1 L1743.5,1172 L1744.3,1171.8 L1745.1,1171.6 L1745.9,1170.9 L1746.7,1169.9 L1747.5,1169.7 L1748.3,1168.9 L1749.1,1168.8 L1749.9,1168.3 L1750.7,1168 L1751.5,1168 L1752.3,1167.6 L1753.1,1167.4 L1753.9,1167.4 L1754.7,1167.5 L1755.5,1167.7 L1756.3,1167.6 L1757.1,1167.7 L1757.9,1167.5 L1758.7,1167.7 L1759.5,1167.2 L1760.3,1167.1 L1761.1,1167.2 L1761.9,1167.1 L1762.7,1167.3 L1763.5,1167.4 L1764.3,1167.3 L1765.1,1167.5 L1765.9,1167.4 L1766.7,1167.3 L1767.5,1167.2 L1768.3,1167.5 L1769.1,1167.6 L1769.9,1167.3 L1770.7,1167.6 L1771.5,1167.8 L1772.3,1167.6 L1773.1,1167.6 L1773.9,1167.3 L1774.7,1167.4 L1775.5,1167.5 L1776.3,1167.5 L1777.1,1167.3 L1777.9,1167.7 L1778.7,1167.6 L1779.5,1167.6 L1780.3,1167.8 L1781.1,1167.8 L1781.9,1167.7 L1782.7,1167.8 L1783.5,1167.5 L1784.3,1167.7 L1785.1,1167.7 L1785.9,1168 L1786.7,1168.2 L1787.5,1167.9 L1788.3,1167.9 L1789.1,1167.7 L1789.9,1167.8 L1790.7,1168.1 L1791.5,1168.3 L1792.3,1168.2 L1793.1,1168.1 L1793.9,1168 L1794.7,1168.2 L1795.5,1168.5 L1796.3,1168.3 L1797.1,1168.8 L1797.9,1169.1 L1798.7,1169 L1799.5,1168.9 L1800.3,1169.1 L1801.1,1168.9 L1801.9,1168.7 L1802.7,1168.7 L1803.5,1168.3 L1804.3,1168.4 L1805.1,1168 L1805.9,1167.9 L1806.7,1167.7 L1807.5,1167.4 L1808.3,1167.4 L1809.1,1167.3 L1809.9,1167.1 L1810.7,1167 L1811.5,1166.9 L1812.3,1166.6 L1813.1,1166.4 L1813.9,1166.5 L1814.7,1166.5 L1815.5,1166.4 L1816.3,1166.6 L1817.1,1166.5 L1817.9,1166.6 L1818.7,1166.3 L1819.5,1166.5 L1820.3,1166.7 L1821.1,1166.9 L1821.9,1166.7 L1822.7,1166.7 L1823.5,1167.2 L1824.3,1167 L1825.1,1167.5 L1825.9,1167.8 L1826.7,1167.5 L1827.5,1167.6 L1828.3,1167.9 L1829.1,1167.9 L1829.9,1167.9 L1830.7,1168.3 L1831.5,1168.4 L1832.3,1168.7 L1833.1,1168.4 L1833.9,1168.5 L1834.7,1168.7 L1835.5,1168.4 L1836.3,1168.4 L1837.1,1168.7 L1837.9,1168.9 L1838.7,1169.1 L1839.5,1168.7 L1840.3,1168.7 L1841.1,1168.8 L1841.9,1168.7 L1842.7,1168.7 L1843.5,1168.5 L1844.3,1168.2 L1845.1,1168.1 L1845.9,1168 L1846.7,1168.2 L1847.5,1168.3 L1848.3,1168.3 L1849.1,1168.1 L1849.9,1167.9 L1850.7,1167.9 L1851.5,1168.2 L1852.3,1168.4 L1853.1,1168.4 L1853.9,1167.9 L1854.7,1167.7 L1855.5,1168 L1856.3,1167.9 L1857.1,1168 L1857.9,1167.7 L1858.7,1167.6 L1859.5,1167.6 L1860.3,1167.5 L1861.1,1167.6 L1861.9,1167.2 L1862.7,1167.4 L1863.5,1167.5 L1864.3,1167 L1865.1,1166.8 L1865.9,1166.6 L1866.7,1166.4 L1867.5,1166.7 L1868.3,1167.3 L1869.1,1168.4 L1869.9,1169.4 L1870.7,1171.2 L1871.5,1172.7 L1872.3,1174 L1873.1,1175.3 L1873.9,1176.2 L1874.7,1176.7 L1875.5,1177.1 L1876.3,1177 L1877.1,1176.7 L1877.9,1175.9 L1878.7,1174.6 L1879.5,1173.6 L1880.3,1172.5 L1881.1,1171.4 L1881.9,1170.5 L1882.7,1169.7 L1883.5,1169.6 L1884.3,1169.7 L1885.1,1170.2 L1885.9,1171.1 L1886.7,1172.1 L1887.5,1173.2 L1888.3,1174.7 L1889.1,1175.8 L1889.9,1177.2 L1890.7,1178.7 L1891.5,1179.8 L1892.3,1181.1 L1893.1,1182.1 L1893.9,1182.4 L1894.7,1182 L1895.5,1181.3 L1896.3,1180 L1897.1,1178.5 L1897.9,1177.9 L1898.7,1178 L1899.5,1178.6 L1900.3,1179.6 L1901.1,1181.1 L1901.9,1182.1 L1902.7,1182.8 L1903.5,1183.2 L1904.3,1183.2 L1905.1,1182.3 L1905.9,1181.8 L1906.7,1181.2 L1907.5,1180.1 L1908.3,1179.1 L1909.1,1177.9 L1909.9,1176.8 L1910.7,1175.9 L1911.5,1174.8 L1912.3,1173.8 L1913.1,1173.3 L1913.9,1172.5 L1914.7,1171.6 L1915.5,1171.4 L1916.3,1171 L1917.1,1171 L1917.9,1171.1 L1918.7,1171.7 L1919.5,1172.8 L1920.3,1175.1 L1921.1,1178.1 L1921.9,1181.1 L1922.7,1185.6 L1923.5,1190 L1924.3,1195.1 L1925.1,1200.3 L1925.9,1205.8 L1926.7,1212.3 L1927.5,1220 L1928.3,1228.7 L1929.1,1235.8 L1929.9,1240.6 L1930.7,1242.2 L1931.5,1241.2 L1932.3,1238.3 L1933.1,1234.5 L1933.9,1229.9 L1934.7,1225.2 L1935.5,1221.2 L1936.3,1217.4 L1937.1,1213.5 L1937.9,1209.6 L1938.7,1205.4 L1939.5,1201.5 L1940.3,1198 L1941.1,1194.4 L1941.9,1191.7 L1942.7,1189.3 L1943.5,1187.1 L1944.3,1186.4 L1945.1,1186.5 L1945.9,1187.2 L1946.7,1189.2 L1947.5,1191.2 L1948.3,1193.5 L1949.1,1196.3 L1949.9,1198.2 L1950.7,1200 L1951.5,1201.7 L1952.3,1202.1 L1953.1,1201.7 L1953.9,1201.1 L1954.7,1199.7 L1955.5,1197.9 L1956.3,1195.6 L1957.1,1193.6 L1957.9,1191.4 L1958.7,1189 L1959.5,1186.8 L1960.3,1185.1 L1961.1,1183.3 L1961.9,1182.4 L1962.7,1182.2 L1963.5,1182.5 L1964.3,1183.5 L1965.1,1185.4 L1965.9,1187.4 L1966.7,1189.6 L1967.5,1191.1 L1968.3,1192.2 L1969.1,1192.2 L1969.9,1191.2 L1970.7,1189.2 L1971.5,1186.8 L1972.3,1184.8 L1973.1,1182.4 L1973.9,1179.9 L1974.7,1177.5 L1975.5,1175.5 L1976.3,1174.2 L1977.1,1173.1 L1977.9,1172.3 L1978.7,1171.8 L1979.5,1171.5 L1980.3,1171 L1981.1,1170.8 L1981.9,1171.1 L1982.7,1171.3 L1983.5,1171.4 L1984.3,1170.9 L1985.1,1170.7 L1985.9,1170.7 L1986.7,1170.7 L1987.5,1170.8 L1988.3,1170.5 L1989.1,1170.6 L1989.9,1170.3 L1990.7,1170.1 L1991.5,1170.4 L1992.3,1170.4 L1993.1,1170.4 L1993.9,1170.2 L1994.7,1170.1 L1995.5,1169.9 L1996.3,1169.8 L1997.1,1170 L1997.9,1170.1 L1998.7,1169.7 L1999.5,1169.5 L2000.3,1169.8 L2001.1,1169.8 L2001.9,1169.9 L2002.7,1169.6 L2003.5,1169.5 L2004.3,1169.4 L2005.1,1169.7 L2005.9,1169.6 L2006.7,1169.7 L2007.5,1169.9 L2008.3,1169.7 L2009.1,1169.8 L2009.9,1170 L2010.7,1170.4 L2011.5,1170.5 L2012.3,1170.8 L2013.1,1171.3 L2013.9,1172.6 L2014.7,1173.5 L2015.5,1174.4 L2016.3,1175.2 L2017.1,1175.4 L2017.9,1175.4 L2018.7,1174.8 L2019.5,1174.4 L2020.3,1173.4 L2021.1,1172.6 L2021.9,1172 L2022.7,1171 L2023.5,1170.3 L2024.3,1169.9 L2025.1,1169.6 L2025.9,1169 L2026.7,1168.5 L2027.5,1168.3 L2028.3,1168.4 L2029.1,1168.1 L2029.9,1167.8 L2030.7,1168 L2031.5,1167.9 L2032.3,1168.1 L2033.1,1168.1 L2033.9,1168.1 L2034.7,1167.7" stroke="#0000ff" stroke-width="3" fill="none" stroke-linejoin="round"/>
<path d="M1494.7,1244.3 L1495.5,1244.5 L1496.3,1244.6 L1497.1,1244.1 L1497.9,1243.6 L1498.7,1243.9 L1499.5,1243.9 L1500.3,1244.5 L1501.1,1244.7 L1501.9,1244.7 L1502.7,1244.7 L1503.5,1244.8 L1504.3,1244.2 L1505.1,1244.3 L1505.9,1244 L1506.7,1244.8 L1507.5,1244.2 L1508.3,1244.8 L1509.1,1244.2 L1509.9,1244.7 L1510.7,1244.5 L1511.5,1244.5 L1512.3,1245 L1513.1,1244.3 L1513.9,1244 L1514.7,1244.9 L1515.5,1244.9 L1516.3,1244.3 L1517.1,1245.2 L1517.9,1245.6 L1518.7,1244.7 L1519.5,1244.7 L1520.3,1244.4 L1521.1,1244.4 L1521.9,1244.8 L1522.7,1244.5 L1523.5,1245 L1524.3,1244.5 L1525.1,1244.4 L1525.9,1245.1 L1526.7,1245 L1527.5,1244.9 L1528.3,1245.2 L1529.1,1245.1 L1529.9,1245 L1530.7,1244.6 L1531.5,1245.2 L1532.3,1245.8 L1533.1,1246.1 L1533.9,1245.9 L1534.7,1245.4 L1535.5,1245.2 L1536.3,1245.5 L1537.1,1245.7 L1537.9,1245.1 L1538.7,1245 L1539.5,1245.1 L1540.3,1245.3 L1541.1,1245.8 L1541.9,1245.7 L1542.7,1245.1 L1543.5,1245.8 L1544.3,1245.7 L1545.1,1245.8 L1545.9,1245.5 L1546.7,1245.6 L1547.5,1245.6 L1548.3,1246.1 L1549.1,1245.6 L1549.9,1245.9 L1550.7,1245.6 L1551.5,1246.1 L1552.3,1245.6 L1553.1,1245.7 L1553.9,1245.8 L1554.7,1246.3 L1555.5,1245.8 L1556.3,1246.1 L1557.1,1246 L1557.9,1246 L1558.7,1246.3 L1559.5,1247 L1560.3,1246.9 L1561.1,1247.4 L1561.9,1246.7 L1562.7,1247.3 L1563.5,1247 L1564.3,1246.6 L1565.1,1247.1 L1565.9,1247.6 L1566.7,1246.8 L1567.5,1246.7 L1568.3,1247.3 L1569.1,1247.1 L1569.9,1246.9 L1570.7,1246.6 L1571.5,1246.4 L1572.3,1247.1 L1573.1,1247.9 L1573.9,1248.3 L1574.7,1248 L1575.5,1247.2 L1576.3,1247.2 L1577.1,1247.8 L1577.9,1248.2 L1578.7,1248.1 L1579.5,1247.6 L1580.3,1247.8 L1581.1,1247.8 L1581.9,1248 L1582.7,1247.6 L1583.5,1248.3 L1584.3,1248.6 L1585.1,1247.8 L1585.9,1247.6 L1586.7,1248.2 L1587.5,1247.8 L1588.3,1248.4 L1589.1,1248.1 L1589.9,1248.2 L1590.7,1248.3 L1591.5,1247.7 L1592.3,1247.5 L1593.1,1247.3 L1593.9,1247.7 L1594.7,1247.9 L1595.5,1247.3 L1596.3,1247.9 L1597.1,1247.6 L1597.9,1247.2 L1598.7,1247.3 L1599.5,1247.9 L1600.3,1247.7 L1601.1,1247.6 L1601.9,1247.9 L1602.7,1248.1 L1603.5,1247.9 L1604.3,1247.3 L1605.1,1247.2 L1605.9,1247.5 L1606.7,1247.5 L1607.5,1247.2 L1608.3,1246.7 L1609.1,1246.5 L1609.9,1246.8 L1610.7,1246.7 L1611.5,1245.9 L1612.3,1246.3 L1613.1,1246.7 L1613.9,1246.8 L1614.7,1246.9 L1615.5,1246.9 L1616.3,1246.4 L1617.1,1246.5 L1617.9,1246 L1618.7,1245.3 L1619.5,1245.3 L1620.3,1245.2 L1621.1,1245.8 L1621.9,1245.8 L1622.7,1245.6 L1623.5,1245.6 L1624.3,1245 L1625.1,1245.1 L1625.9,1245.3 L1626.7,1245.1 L1627.5,1244.7 L1628.3,1244.7 L1629.1,1244.5 L1629.9,1244.9 L1630.7,1244.3 L1631.5,1244 L1632.3,1244 L1633.1,1244.4 L1633.9,1244.7 L1634.7,1244.6 L1635.5,1244.9 L1636.3,1244.3 L1637.1,1243.6 L1637.9,1243.7 L1638.7,1243.7 L1639.5,1243.4 L1640.3,1243.7 L1641.1,1243.5 L1641.9,1243.3 L1642.7,1243.3 L1643.5,1244 L1644.3,1243.3 L1645.1,1243.4 L1645.9,1243.4 L1646.7,1243.4 L1647.5,1243.9 L1648.3,1244.1 L1649.1,1245.4 L1649.9,1246.3 L1650.7,1248.5 L1651.5,1251.5 L1652.3,1253 L1653.1,1254.1 L1653.9,1255.3 L1654.7,1255.5 L1655.5,1256.4 L1656.3,1258.1 L1657.1,1260.3 L1657.9,1262.7 L1658.7,1267.8 L1659.5,1274.4 L1660.3,1282.2 L1661.1,1291 L1661.9,1299.8 L1662.7,1305.1 L1663.5,1303.8 L1664.3,1301.9 L1665.1,1298.6 L1665.9,1294.2 L1666.7,1280.6 L1667.5,1271.4 L1668.3,1267.7 L1669.1,1265.4 L1669.9,1263.5 L1670.7,1262.2 L1671.5,1261.2 L1672.3,1259.6 L1673.1,1257.6 L1673.9,1256.6 L1674.7,1254.6 L1675.5,1253.6 L1676.3,1252.1 L1677.1,1250.5 L1677.9,1249.9 L1678.7,1249.5 L1679.5,1248.6 L1680.3,1248.2 L1681.1,1249 L1681.9,1249.8 L1682.7,1250.2 L1683.5,1250.6 L1684.3,1250.3 L1685.1,1250.1 L1685.9,1249.1 L1686.7,1248.4 L1687.5,1247.6 L1688.3,1246.8 L1689.1,1246.2 L1689.9,1246.3 L1690.7,1245.4 L1691.5,1244.9 L1692.3,1244.6 L1693.1,1245.2 L1693.9,1245 L1694.7,1244.2 L1695.5,1244.7 L1696.3,1244.9 L1697.1,1244.9 L1697.9,1244.3 L1698.7,1244.4 L1699.5,1243.9 L1700.3,1243.5 L1701.1,1244.1 L1701.9,1244.3 L1702.7,1243.7 L1703.5,1244.1 L1704.3,1243.3 L1705.1,1243.2 L1705.9,1242.8 L1706.7,1242.8 L1707.5,1242.7 L1708.3,1243.4 L1709.1,1243.2 L1709.9,1242.9 L1710.7,1242.8 L1711.5,1242.9 L1712.3,1243.6 L1713.1,1243.6 L1713.9,1243 L1714.7,1243.4 L1715.5,1243.4 L1716.3,1243.3 L1717.1,1243.3 L1717.9,1243.5 L1718.7,1243.8 L1719.5,1243.5 L1720.3,1243.6 L1721.1,1243.4 L1721.9,1243.5 L1722.7,1243.3 L1723.5,1243.2 L1724.3,1243.2 L1725.1,1243.5 L1725.9,1243.1 L1726.7,1243.7 L1727.5,1243.5 L1728.3,1243.8 L1729.1,1243.8 L1729.9,1244.1 L1730.7,1243.9 L1731.5,1243.5 L1732.3,1243.3 L1733.1,1243.4 L1733.9,1243.7 L1734.7,1243.9 L1735.5,1243.2 L1736.3,1242.7 L1737.1,1242.6 L1737.9,1242.5 L1738.7,1242.4 L1739.5,1242.3 L1740.3,1242.6 L1741.1,1242.5 L1741.9,1243.2 L1742.7,1243.5 L1743.5,1244 L1744.3,1244.3 L1745.1,1244.2 L1745.9,1244.4 L1746.7,1243.5 L1747.5,1243.2 L1748.3,1244 L1749.1,1243.8 L1749.9,1243.5 L1750.7,1244 L1751.5,1243.8 L1752.3,1244 L1753.1,1243.8 L1753.9,1243.6 L1754.7,1243.4 L1755.5,1244 L1756.3,1244.7 L1757.1,1245.1 L1757.9,1245.1 L1758.7,1245.4 L1759.5,1244.8 L1760.3,1244.5 L1761.1,1245.2 L1761.9,1245.1 L1762.7,1245.2 L1763.5,1244.5 L1764.3,1244.4 L1765.1,1244.7 L1765.9,1245.2 L1766.7,1245.6 L1767.5,1245.7 L1768.3,1245.3 L1769.1,1245.2 L1769.9,1245.7 L1770.7,1246.1 L1771.5,1245.7 L1772.3,1245.2 L1773.1,1245.4 L1773.9,1245.5 L1774.7,1245.3 L1775.5,1245.1 L1776.3,1245.1 L1777.1,1245.5 L1777.9,1245 L1778.7,1245.3 L1779.5,1246 L1780.3,1246.1 L1781.1,1245.5 L1781.9,1245.5 L1782.7,1245 L1783.5,1245.6 L1784.3,1245.8 L1785.1,1245.3 L1785.9,1245.5 L1786.7,1245.7 L1787.5,1245.7 L1788.3,1245.5 L1789.1,1245.3 L1789.9,1245.3 L1790.7,1246 L1791.5,1245.6 L1792.3,1245.6 L1793.1,1245.5 L1793.9,1245.1 L1794.7,1245.2 L1795.5,1245 L1796.3,1245 L1797.1,1245 L1797.9,1245 L1798.7,1245.7 L1799.5,1245.2 L1800.3,1244.9 L1801.1,1245.2 L1801.9,1244.9 L1802.7,1244.8 L1803.5,1244.8 L1804.3,1244.1 L1805.1,1244.3 L1805.9,1243.6 L1806.7,1243.2 L1807.5,1243.6 L1808.3,1244 L1809.1,1243.6 L1809.9,1242.8 L1810.7,1242.6 L1811.5,1242.3 L1812.3,1242.8 L1813.1,1242.2 L1813.9,1241.9 L1814.7,1242.3 L1815.5,1242.5 L1816.3,1242.5 L1817.1,1242.4 L1817.9,1242.9 L1818.7,1242.6 L1819.5,1243.1 L1820.3,1242.7 L1821.1,1242.6 L1821.9,1242.5 L1822.7,1242.9 L1823.5,1243.2 L1824.3,1242.8 L1825.1,1242.9 L1825.9,1243.3 L1826.7,1243.3 L1827.5,1243.5 L1828.3,1243.6 L1829.1,1243.8 L1829.9,1243.6 L1830.7,1243.4 L1831.5,1243.1 L1832.3,1244 L1833.1,1244.4 L1833.9,1244.2 L1834.7,1244.8 L1835.5,1245.1 L1836.3,1244.4 L1837.1,1244.9 L1837.9,1244.8 L1838.7,1244.6 L1839.5,1244.5 L1840.3,1244.7 L1841.1,1244.4 L1841.9,1244.3 L1842.7,1244.4 L1843.5,1244.7 L1844.3,1244.8 L1845.1,1244.8 L1845.9,1245.7 L1846.7,1245.7 L1847.5,1245.9 L1848.3,1246.1 L1849.1,1246.7 L1849.9,1246.1 L1850.7,1245.9 L1851.5,1246.6 L1852.3,1247.1 L1853.1,1247.4 L1853.9,1247 L1854.7,1246.7 L1855.5,1246.3 L1856.3,1247 L1857.1,1247.1 L1857.9,1246.9 L1858.7,1247.1 L1859.5,1246.4 L1860.3,1246.4 L1861.1,1246.6 L1861.9,1245.6 L1862.7,1245.4 L1863.5,1244.5 L1864.3,1244.4 L1865.1,1244.1 L1865.9,1243.8 L1866.7,1243.3 L1867.5,1242.4 L1868.3,1242.3 L1869.1,1242 L1869.9,1242 L1870.7,1242 L1871.5,1243.8 L1872.3,1245.9 L1873.1,1250.5 L1873.9,1256.8 L1874.7,1261.4 L1875.5,1261.2 L1876.3,1255.2 L1877.1,1250.3 L1877.9,1247.4 L1878.7,1246.6 L1879.5,1245 L1880.3,1245 L1881.1,1244.4 L1881.9,1244.1 L1882.7,1244.3 L1883.5,1243.3 L1884.3,1243 L1885.1,1243.4 L1885.9,1243.5 L1886.7,1243.5 L1887.5,1243.9 L1888.3,1244.4 L1889.1,1245.3 L1889.9,1246.4 L1890.7,1248.9 L1891.5,1254.9 L1892.3,1266.2 L1893.1,1273.3 L1893.9,1270.2 L1894.7,1261.9 L1895.5,1252.4 L1896.3,1248.1 L1897.1,1247.1 L1897.9,1249.5 L1898.7,1251.9 L1899.5,1254.5 L1900.3,1258.2 L1901.1,1261.6 L1901.9,1264.6 L1902.7,1265.4 L1903.5,1263.9 L1904.3,1258.3 L1905.1,1250.2 L1905.9,1248.5 L1906.7,1251.2 L1907.5,1255.2 L1908.3,1258.7 L1909.1,1259.6 L1909.9,1256.4 L1910.7,1251.8 L1911.5,1247.5 L1912.3,1244.9 L1913.1,1243.4 L1913.9,1243.4 L1914.7,1242.9 L1915.5,1242.4 L1916.3,1242.7 L1917.1,1242.9 L1917.9,1243.3 L1918.7,1244.3 L1919.5,1245.6 L1920.3,1247.7 L1921.1,1251.1 L1921.9,1254.9 L1922.7,1258.3 L1923.5,1262.7 L1924.3,1265.7 L1925.1,1269.3 L1925.9,1272.1 L1926.7,1276.7 L1927.5,1284.5 L1928.3,1295.4 L1929.1,1307.1 L1929.9,1315.4 L1930.7,1317.6 L1931.5,1313.3 L1932.3,1302.9 L1933.1,1292.1 L1933.9,1285.3 L1934.7,1285.9 L1935.5,1290.1 L1936.3,1293.8 L1937.1,1290.2 L1937.9,1277.6 L1938.7,1268.7 L1939.5,1263.2 L1940.3,1259.6 L1941.1,1257.9 L1941.9,1255.9 L1942.7,1253.8 L1943.5,1251.7 L1944.3,1249.7 L1945.1,1248.2 L1945.9,1247 L1946.7,1246.3 L1947.5,1246.8 L1948.3,1249.6 L1949.1,1254.9 L1949.9,1261.8 L1950.7,1269.2 L1951.5,1273.5 L1952.3,1274.4 L1953.1,1272.5 L1953.9,1269 L1954.7,1264.4 L1955.5,1259.4 L1956.3,1254.8 L1957.1,1250.9 L1957.9,1248.8 L1958.7,1247.3 L1959.5,1245.8 L1960.3,1244.8 L1961.1,1244.4 L1961.9,1244 L1962.7,1244.6 L1963.5,1245.1 L1964.3,1247 L1965.1,1249.6 L1965.9,1254.6 L1966.7,1261.2 L1967.5,1267.7 L1968.3,1272 L1969.1,1274.1 L1969.9,1272.6 L1970.7,1268.7 L1971.5,1263.7 L1972.3,1257.7 L1973.1,1253 L1973.9,1248.7 L1974.7,1246.1 L1975.5,1244.7 L1976.3,1243.4 L1977.1,1243.1 L1977.9,1243.7 L1978.7,1243.8 L1979.5,1244.4 L1980.3,1243.8 L1981.1,1243.3 L1981.9,1244.1 L1982.7,1244 L1983.5,1244.1 L1984.3,1243.9 L1985.1,1243.3 L1985.9,1244 L1986.7,1243.8 L1987.5,1244.1 L1988.3,1243.4 L1989.1,1243.1 L1989.9,1243.3 L1990.7,1243.1 L1991.5,1243.7 L1992.3,1243.2 L1993.1,1242.8 L1993.9,1242.7 L1994.7,1242.8 L1995.5,1243.6 L1996.3,1244 L1997.1,1243.9 L1997.9,1243.6 L1998.7,1243 L1999.5,1243.7 L2000.3,1243.2 L2001.1,1243.1 L2001.9,1243.3 L2002.7,1244 L2003.5,1243.6 L2004.3,1243.3 L2005.1,1244.3 L2005.9,1243.8 L2006.7,1244.7 L2007.5,1244.5 L2008.3,1244.9 L2009.1,1245.2 L2009.9,1245.8 L2010.7,1247 L2011.5,1247.8 L2012.3,1248.1 L2013.1,1247.9 L2013.9,1248.1 L2014.7,1248.3 L2015.5,1249.1 L2016.3,1249.4 L2017.1,1248.1 L2017.9,1247.2 L2018.7,1246.9 L2019.5,1245.5 L2020.3,1244.7 L2021.1,1244.4 L2021.9,1245 L2022.7,1244.4 L2023.5,1244.7 L2024.3,1244 L2025.1,1244.3 L2025.9,1243.8 L2026.7,1244 L2027.5,1244.2 L2028.3,1244.5 L2029.1,1244 L2029.9,1244.4 L2030.7,1243.9 L2031.5,1244.3 L2032.3,1244.4 L2033.1,1244.5 L2033.9,1243.4 L2034.7,1243.1" stroke="#ff0000" stroke-width="3" fill="none" stroke-linejoin="round"/>
<path d="M1494.7,1327.5 L1495.5,1327.8 L1496.3,1327.9 L1497.1,1328.1 L1497.9,1327.2 L1498.7,1326.7 L1499.5,1326.3 L1500.3,1326.2 L1501.1,1326.8 L1501.9,1326.2 L1502.7,1326.3 L1503.5,1325.9 L1504.3,1325.8 L1505.1,1325.8 L1505.9,1326.4 L1506.7,1326.2 L1507.5,1325.3 L1508.3,1325.1 L1509.1,1324.8 L1509.9,1325.5 L1510.7,1325.7 L1511.5,1325.8 L1512.3,1325.7 L1513.1,1325.5 L1513.9,1325.6 L1514.7,1325.4 L1515.5,1324.4 L1516.3,1324.7 L1517.1,1324.3 L1517.9,1324.5 L1518.7,1324.2 L1519.5,1323.9 L1520.3,1323.6 L1521.1,1323.6 L1521.9,1323.5 L1522.7,1323.2 L1523.5,1324.1 L1524.3,1324.6 L1525.1,1325.1 L1525.9,1325 L1526.7,1324.9 L1527.5,1325.1 L1528.3,1324.4 L1529.1,1324.8 L1529.9,1324.6 L1530.7,1323.9 L1531.5,1322.4 L1532.3,1319.7 L1533.1,1319.9 L1533.9,1320.7 L1534.7,1321.6 L1535.5,1322 L1536.3,1322.1 L1537.1,1322.7 L1537.9,1322.7 L1538.7,1322.8 L1539.5,1322.8 L1540.3,1323 L1541.1,1322.8 L1541.9,1323.5 L1542.7,1324.4 L1543.5,1324.1 L1544.3,1324.5 L1545.1,1325.2 L1545.9,1324.5 L1546.7,1324.7 L1547.5,1326.5 L1548.3,1328.1 L1549.1,1329.1 L1549.9,1329.5 L1550.7,1330.6 L1551.5,1332.3 L1552.3,1333.8 L1553.1,1335 L1553.9,1335.3 L1554.7,1336.9 L1555.5,1337.6 L1556.3,1339 L1557.1,1339.4 L1557.9,1341.3 L1558.7,1342.3 L1559.5,1343.5 L1560.3,1343.8 L1561.1,1345.1 L1561.9,1346.1 L1562.7,1347.1 L1563.5,1347.7 L1564.3,1349 L1565.1,1349.6 L1565.9,1350.2 L1566.7,1350.8 L1567.5,1352.3 L1568.3,1352.7 L1569.1,1353.4 L1569.9,1354 L1570.7,1355.6 L1571.5,1356.7 L1572.3,1357.7 L1573.1,1358 L1573.9,1359.3 L1574.7,1360.2 L1575.5,1360.8 L1576.3,1361.4 L1577.1,1363.5 L1577.9,1363.6 L1578.7,1364.2 L1579.5,1364.6 L1580.3,1365.4 L1581.1,1365.2 L1581.9,1365.7 L1582.7,1365.9 L1583.5,1366.6 L1584.3,1365.8 L1585.1,1365.7 L1585.9,1365.8 L1586.7,1366.4 L1587.5,1365.9 L1588.3,1365.4 L1589.1,1365.2 L1589.9,1364.3 L1590.7,1363.3 L1591.5,1363.1 L1592.3,1363.4 L1593.1,1362.9 L1593.9,1361.8 L1594.7,1361.5 L1595.5,1361.3 L1596.3,1360.1 L1597.1,1359.7 L1597.9,1358.9 L1598.7,1358.1 L1599.5,1357.5 L1600.3,1356.9 L1601.1,1356.5 L1601.9,1355.6 L1602.7,1355.5 L1603.5,1354.7 L1604.3,1355 L1605.1,1354.6 L1605.9,1353.3 L1606.7,1353.4 L1607.5,1352.3 L1608.3,1351.8 L1609.1,1351.3 L1609.9,1350.3 L1610.7,1349.4 L1611.5,1348.8 L1612.3,1347.7 L1613.1,1347.7 L1613.9,1346.3 L1614.7,1346.1 L1615.5,1344.8 L1616.3,1343.9 L1617.1,1343.1 L1617.9,1341.8 L1618.7,1340.9 L1619.5,1340.3 L1620.3,1339.8 L1621.1,1339.7 L1621.9,1339.4 L1622.7,1337.5 L1623.5,1336.8 L1624.3,1335.5 L1625.1,1335.5 L1625.9,1334.3 L1626.7,1334.2 L1627.5,1333.3 L1628.3,1331.8 L1629.1,1330.6 L1629.9,1329.9 L1630.7,1330.1 L1631.5,1328.8 L1632.3,1328.3 L1633.1,1327.6 L1633.9,1326.8 L1634.7,1326.7 L1635.5,1325.5 L1636.3,1325.3 L1637.1,1324.7 L1637.9,1324.5 L1638.7,1323.5 L1639.5,1323.3 L1640.3,1322.3 L1641.1,1321.7 L1641.9,1321.4 L1642.7,1321.6 L1643.5,1321.7 L1644.3,1320.9 L1645.1,1320.8 L1645.9,1322 L1646.7,1323.9 L1647.5,1325.9 L1648.3,1328.6 L1649.1,1333 L1649.9,1335.7 L1650.7,1337.7 L1651.5,1339.3 L1652.3,1340.7 L1653.1,1342.9 L1653.9,1343.8 L1654.7,1345.8 L1655.5,1347.8 L1656.3,1349.8 L1657.1,1351.7 L1657.9,1353.7 L1658.7,1357.6 L1659.5,1364.1 L1660.3,1371.7 L1661.1,1380.7 L1661.9,1390 L1662.7,1391.6 L1663.5,1391.2 L1664.3,1390.4 L1665.1,1386.9 L1665.9,1381.1 L1666.7,1371.6 L1667.5,1358.4 L1668.3,1347.2 L1669.1,1341.5 L1669.9,1339.9 L1670.7,1338.8 L1671.5,1337.9 L1672.3,1335.4 L1673.1,1334.1 L1673.9,1332.5 L1674.7,1330.2 L1675.5,1329 L1676.3,1327.3 L1677.1,1325.3 L1677.9,1323.5 L1678.7,1322.7 L1679.5,1322.9 L1680.3,1322.7 L1681.1,1322.5 L1681.9,1322.8 L1682.7,1323.8 L1683.5,1324.9 L1684.3,1325.6 L1685.1,1324.9 L1685.9,1325.4 L1686.7,1324.5 L1687.5,1323.7 L1688.3,1323.7 L1689.1,1323.1 L1689.9,1323.5 L1690.7,1323 L1691.5,1322.7 L1692.3,1323 L1693.1,1322.3 L1693.9,1322.7 L1694.7,1322.8 L1695.5,1322.6 L1696.3,1323.4 L1697.1,1322.5 L1697.9,1323.3 L1698.7,1322.8 L1699.5,1323.6 L1700.3,1323.2 L1701.1,1322.9 L1701.9,1323.4 L1702.7,1324.4 L1703.5,1324 L1704.3,1324.1 L1705.1,1324.5 L1705.9,1324.2 L1706.7,1324.4 L1707.5,1323.9 L1708.3,1324.3 L1709.1,1324.9 L1709.9,1324.7 L1710.7,1324.5 L1711.5,1324.1 L1712.3,1324.9 L1713.1,1325 L1713.9,1325.7 L1714.7,1325.8 L1715.5,1325.1 L1716.3,1325.8 L1717.1,1326.3 L1717.9,1326.4 L1718.7,1326.5 L1719.5,1326.3 L1720.3,1326.4 L1721.1,1326.3 L1721.9,1326.3 L1722.7,1325.8 L1723.5,1325.4 L1724.3,1326.1 L1725.1,1326.3 L1725.9,1325.7 L1726.7,1326.2 L1727.5,1326.5 L1728.3,1326.5 L1729.1,1327 L1729.9,1327.4 L1730.7,1327 L1731.5,1327.5 L1732.3,1327.3 L1733.1,1327.4 L1733.9,1327.4 L1734.7,1328.2 L1735.5,1328.1 L1736.3,1329 L1737.1,1328.8 L1737.9,1329.5 L1738.7,1330.6 L1739.5,1331.3 L1740.3,1331.5 L1741.1,1331.3 L1741.9,1331.7 L1742.7,1331.6 L1743.5,1331.9 L1744.3,1331.8 L1745.1,1331.7 L1745.9,1330.7 L1746.7,1330 L1747.5,1329.8 L1748.3,1329.9 L1749.1,1328.9 L1749.9,1328.5 L1750.7,1328.1 L1751.5,1328.1 L1752.3,1328 L1753.1,1328.9 L1753.9,1328.3 L1754.7,1329 L1755.5,1328.5 L1756.3,1328.2 L1757.1,1329.2 L1757.9,1328.5 L1758.7,1328.3 L1759.5,1328.2 L1760.3,1328.2 L1761.1,1328.8 L1761.9,1328.9 L1762.7,1329.1 L1763.5,1329.1 L1764.3,1330.2 L1765.1,1329.9 L1765.9,1330.1 L1766.7,1330.7 L1767.5,1331.5 L1768.3,1331.6 L1769.1,1331.7 L1769.9,1331.7 L1770.7,1331.6 L1771.5,1331.5 L1772.3,1330.3 L1773.1,1329.3 L1773.9,1329.4 L1774.7,1329.1 L1775.5,1328.8 L1776.3,1328.8 L1777.1,1327.8 L1777.9,1328 L1778.7,1327.5 L1779.5,1327.2 L1780.3,1326.8 L1781.1,1326.6 L1781.9,1326.9 L1782.7,1327 L1783.5,1327.6 L1784.3,1327 L1785.1,1327.3 L1785.9,1326.6 L1786.7,1327.1 L1787.5,1326.7 L1788.3,1327.4 L1789.1,1328 L1789.9,1327.3 L1790.7,1327.7 L1791.5,1327.2 L1792.3,1327 L1793.1,1326.6 L1793.9,1326.9 L1794.7,1326.6 L1795.5,1327.3 L1796.3,1327.4 L1797.1,1327.2 L1797.9,1327.4 L1798.7,1326.8 L1799.5,1326.5 L1800.3,1326.2 L1801.1,1325.4 L1801.9,1326 L1802.7,1324.9 L1803.5,1324.1 L1804.3,1324.5 L1805.1,1324.5 L1805.9,1323.8 L1806.7,1323.3 L1807.5,1322.5 L1808.3,1321.9 L1809.1,1322.1 L1809.9,1321.8 L1810.7,1321.4 L1811.5,1322.2 L1812.3,1321.3 L1813.1,1321.2 L1813.9,1321.7 L1814.7,1321.9 L1815.5,1321 L1816.3,1321.4 L1817.1,1321.3 L1817.9,1321.4 L1818.7,1321.8 L1819.5,1321.8 L1820.3,1321.5 L1821.1,1321.6 L1821.9,1321.2 L1822.7,1321.1 L1823.5,1321.4 L1824.3,1321.3 L1825.1,1321 L1825.9,1320.4 L1826.7,1321.2 L1827.5,1321.1 L1828.3,1321.4 L1829.1,1321.5 L1829.9,1322.2 L1830.7,1322.8 L1831.5,1324 L1832.3,1324.8 L1833.1,1325.7 L1833.9,1327.1 L1834.7,1327.9 L1835.5,1329 L1836.3,1330.6 L1837.1,1332.1 L1837.9,1333.8 L1838.7,1335.7 L1839.5,1337 L1840.3,1338.4 L1841.1,1339 L1841.9,1339.8 L1842.7,1340.8 L1843.5,1341.7 L1844.3,1343 L1845.1,1342.7 L1845.9,1343.3 L1846.7,1344.4 L1847.5,1344.7 L1848.3,1345.6 L1849.1,1345.2 L1849.9,1346.1 L1850.7,1346.3 L1851.5,1347.1 L1852.3,1347.4 L1853.1,1349 L1853.9,1351.3 L1854.7,1353.5 L1855.5,1355.3 L1856.3,1357 L1857.1,1358.4 L1857.9,1361.3 L1858.7,1363.4 L1859.5,1365.7 L1860.3,1367 L1861.1,1366.9 L1861.9,1366.3 L1862.7,1363.1 L1863.5,1360.6 L1864.3,1356.4 L1865.1,1353.1 L1865.9,1348.3 L1866.7,1343.5 L1867.5,1340.1 L1868.3,1337.1 L1869.1,1335.1 L1869.9,1333.1 L1870.7,1333.1 L1871.5,1333.6 L1872.3,1334.8 L1873.1,1340.3 L1873.9,1350 L1874.7,1357.3 L1875.5,1357.7 L1876.3,1354 L1877.1,1348.7 L1877.9,1345.4 L1878.7,1342.7 L1879.5,1342 L1880.3,1341.7 L1881.1,1342.8 L1881.9,1343.9 L1882.7,1347.2 L1883.5,1349.7 L1884.3,1350.4 L1885.1,1352.1 L1885.9,1353.1 L1886.7,1354.6 L1887.5,1355.9 L1888.3,1355.8 L1889.1,1355.5 L1889.9,1356.5 L1890.7,1359 L1891.5,1365 L1892.3,1371.8 L1893.1,1378.6 L1893.9,1379.3 L1894.7,1366.9 L1895.5,1347.9 L1896.3,1342.8 L1897.1,1340.7 L1897.9,1340.6 L1898.7,1342.5 L1899.5,1345.5 L1900.3,1350.9 L1901.1,1357.1 L1901.9,1363 L1902.7,1364.1 L1903.5,1360.6 L1904.3,1353.1 L1905.1,1345.1 L1905.9,1341.3 L1906.7,1340.8 L1907.5,1343.3 L1908.3,1350.2 L1909.1,1355.2 L1909.9,1349.3 L1910.7,1338.8 L1911.5,1335.8 L1912.3,1334.5 L1913.1,1333.3 L1913.9,1333.3 L1914.7,1332.8 L1915.5,1332.6 L1916.3,1332.8 L1917.1,1333.3 L1917.9,1332.7 L1918.7,1333 L1919.5,1333 L1920.3,1334.1 L1921.1,1336 L1921.9,1338 L1922.7,1343.8 L1923.5,1349.6 L1924.3,1354.2 L1925.1,1359.1 L1925.9,1364.4 L1926.7,1370.1 L1927.5,1376 L1928.3,1381.9 L1929.1,1389.1 L1929.9,1393.7 L1930.7,1394.8 L1931.5,1392.5 L1932.3,1388.8 L1933.1,1384.9 L1933.9,1380.9 L1934.7,1377.8 L1935.5,1375.7 L1936.3,1371.7 L1937.1,1365.7 L1937.9,1360.1 L1938.7,1353 L1939.5,1347.6 L1940.3,1343.6 L1941.1,1340.1 L1941.9,1337.2 L1942.7,1333.5 L1943.5,1331.3 L1944.3,1329.9 L1945.1,1328 L1945.9,1327 L1946.7,1326.4 L1947.5,1327.5 L1948.3,1330.9 L1949.1,1336.3 L1949.9,1344 L1950.7,1349.8 L1951.5,1353.3 L1952.3,1353.7 L1953.1,1352.4 L1953.9,1350.1 L1954.7,1347 L1955.5,1343.7 L1956.3,1338.1 L1957.1,1333.7 L1957.9,1329.4 L1958.7,1327.5 L1959.5,1326.5 L1960.3,1325.4 L1961.1,1325.5 L1961.9,1325.1 L1962.7,1324.6 L1963.5,1324.4 L1964.3,1324.9 L1965.1,1324.6 L1965.9,1324.2 L1966.7,1326.6 L1967.5,1336.6 L1968.3,1349.4 L1969.1,1351.7 L1969.9,1343.5 L1970.7,1333.8 L1971.5,1329.1 L1972.3,1326.5 L1973.1,1325.3 L1973.9,1325.7 L1974.7,1326 L1975.5,1325.2 L1976.3,1326.1 L1977.1,1325.2 L1977.9,1324.9 L1978.7,1325 L1979.5,1325.8 L1980.3,1326.1 L1981.1,1326.2 L1981.9,1325.9 L1982.7,1326.4 L1983.5,1325.6 L1984.3,1326.4 L1985.1,1325.6 L1985.9,1325.4 L1986.7,1326.1 L1987.5,1326.6 L1988.3,1326.7 L1989.1,1326.3 L1989.9,1327 L1990.7,1327 L1991.5,1326.9 L1992.3,1327.3 L1993.1,1329 L1993.9,1328.5 L1994.7,1328.5 L1995.5,1328.7 L1996.3,1329.5 L1997.1,1329.8 L1997.9,1330 L1998.7,1329.7 L1999.5,1328.7 L2000.3,1329.2 L2001.1,1328.6 L2001.9,1329.3 L2002.7,1329.7 L2003.5,1328.6 L2004.3,1328.9 L2005.1,1328.4 L2005.9,1327.9 L2006.7,1328.7 L2007.5,1328.5 L2008.3,1328.1 L2009.1,1328.3 L2009.9,1327.7 L2010.7,1328 L2011.5,1328.5 L2012.3,1329.3 L2013.1,1329 L2013.9,1330.6 L2014.7,1331.7 L2015.5,1332 L2016.3,1331.7 L2017.1,1330.4 L2017.9,1329.4 L2018.7,1329.5 L2019.5,1328.9 L2020.3,1328.2 L2021.1,1328.1 L2021.9,1327.3 L2022.7,1327.5 L2023.5,1327.8 L2024.3,1327.1 L2025.1,1326.4 L2025.9,1325.9 L2026.7,1325.4 L2027.5,1325 L2028.3,1324.3 L2029.1,1324 L2029.9,1324.2 L2030.7,1323.8 L2031.5,1322.8 L2032.3,1322.3 L2033.1,1322.8 L2033.9,1322.1 L2034.7,1322.3" stroke="#000" stroke-width="3" fill="none" stroke-linejoin="round"/>
<rect x="1494.7" y="1075.3" width="540.6" height="395.1" fill="none" stroke="#555" stroke-width="2" />
<line x1="1486.5" y1="1091.1" x2="1494.7" y2="1091.1" stroke="#555" stroke-width="2" />
<line x1="1490.5" y1="1129" x2="1494.7" y2="1129" stroke="#555" stroke-width="2" />
<line x1="1486.5" y1="1167" x2="1494.7" y2="1167" stroke="#555" stroke-width="2" />
<line x1="1490.5" y1="1204.9" x2="1494.7" y2="1204.9" stroke="#555" stroke-width="2" />
<line x1="1486.5" y1="1242.9" x2="1494.7" y2="1242.9" stroke="#555" stroke-width="2" />
<line x1="1490.5" y1="1280.8" x2="1494.7" y2="1280.8" stroke="#555" stroke-width="2" />
<line x1="1486.5" y1="1318.8" x2="1494.7" y2="1318.8" stroke="#555" stroke-width="2" />
<line x1="1490.5" y1="1356.8" x2="1494.7" y2="1356.8" stroke="#555" stroke-width="2" />
<line x1="1486.5" y1="1394.7" x2="1494.7" y2="1394.7" stroke="#555" stroke-width="2" />
<line x1="1490.5" y1="1432.6" x2="1494.7" y2="1432.6" stroke="#555" stroke-width="2" />
<line x1="1486.5" y1="1470.6" x2="1494.7" y2="1470.6" stroke="#555" stroke-width="2" />
<line x1="1494.7" y1="1470.4" x2="1494.7" y2="1478.4" stroke="#555" stroke-width="2" />
<text x="1494.7" y="1505" font-family='"Liberation Sans", Arial, sans-serif' font-weight="700" font-size="27.8" text-anchor="middle" fill="#000" >4000</text>
<line x1="1532.3" y1="1470.4" x2="1532.3" y2="1475.4" stroke="#555" stroke-width="2" />
<line x1="1569.8" y1="1470.4" x2="1569.8" y2="1478.4" stroke="#555" stroke-width="2" />
<text x="1569.8" y="1505" font-family='"Liberation Sans", Arial, sans-serif' font-weight="700" font-size="27.8" text-anchor="middle" fill="#000" >3500</text>
<line x1="1607.4" y1="1470.4" x2="1607.4" y2="1475.4" stroke="#555" stroke-width="2" />
<line x1="1645" y1="1470.4" x2="1645" y2="1478.4" stroke="#555" stroke-width="2" />
<text x="1645" y="1505" font-family='"Liberation Sans", Arial, sans-serif' font-weight="700" font-size="27.8" text-anchor="middle" fill="#000" >3000</text>
<line x1="1682.5" y1="1470.4" x2="1682.5" y2="1475.4" stroke="#555" stroke-width="2" />
<line x1="1720.1" y1="1470.4" x2="1720.1" y2="1478.4" stroke="#555" stroke-width="2" />
<text x="1720.1" y="1505" font-family='"Liberation Sans", Arial, sans-serif' font-weight="700" font-size="27.8" text-anchor="middle" fill="#000" >2500</text>
<line x1="1757.6" y1="1470.4" x2="1757.6" y2="1475.4" stroke="#555" stroke-width="2" />
<line x1="1795.2" y1="1470.4" x2="1795.2" y2="1478.4" stroke="#555" stroke-width="2" />
<text x="1795.2" y="1505" font-family='"Liberation Sans", Arial, sans-serif' font-weight="700" font-size="27.8" text-anchor="middle" fill="#000" >2000</text>
<line x1="1832.8" y1="1470.4" x2="1832.8" y2="1475.4" stroke="#555" stroke-width="2" />
<line x1="1870.3" y1="1470.4" x2="1870.3" y2="1478.4" stroke="#555" stroke-width="2" />
<text x="1870.3" y="1505" font-family='"Liberation Sans", Arial, sans-serif' font-weight="700" font-size="27.8" text-anchor="middle" fill="#000" >1500</text>
<line x1="1907.9" y1="1470.4" x2="1907.9" y2="1475.4" stroke="#555" stroke-width="2" />
<line x1="1945.5" y1="1470.4" x2="1945.5" y2="1478.4" stroke="#555" stroke-width="2" />
<text x="1945.5" y="1505" font-family='"Liberation Sans", Arial, sans-serif' font-weight="700" font-size="27.8" text-anchor="middle" fill="#000" >1000</text>
<line x1="1983" y1="1470.4" x2="1983" y2="1475.4" stroke="#555" stroke-width="2" />
<line x1="2020.6" y1="1470.4" x2="2020.6" y2="1478.4" stroke="#555" stroke-width="2" />
<text x="2020.6" y="1505" font-family='"Liberation Sans", Arial, sans-serif' font-weight="700" font-size="27.8" text-anchor="middle" fill="#000" >500</text>
<line x1="1500.5" y1="1090.9" x2="1551.5" y2="1090.9" stroke="#0000ff" stroke-width="3.2" stroke-linecap="round"/>
<text x="1557.5" y="1098.2" font-family='"Liberation Sans", Arial, sans-serif' font-weight="700" font-size="21.5" text-anchor="start" fill="#000" textLength="46" lengthAdjust="spacingAndGlyphs">PEG</text>
<line x1="1500.5" y1="1119.2" x2="1551.5" y2="1119.2" stroke="#ff0000" stroke-width="3.2" stroke-linecap="round"/>
<text x="1557.5" y="1126" font-family='"Liberation Sans", Arial, sans-serif' font-weight="700" font-size="21.5" text-anchor="start" fill="#000" textLength="116.5" lengthAdjust="spacingAndGlyphs">PEG-GQDs</text>
<line x1="1500.5" y1="1147.2" x2="1551.5" y2="1147.2" stroke="#000" stroke-width="3.2" stroke-linecap="round"/>
<text x="1557.5" y="1153.8" font-family='"Liberation Sans", Arial, sans-serif' font-weight="700" font-size="21.5" text-anchor="start" fill="#000" textLength="62" lengthAdjust="spacingAndGlyphs">GQDs</text>
<text x="1456" y="1292" font-family='"Liberation Sans", Arial, sans-serif' font-weight="700" font-size="27.5" text-anchor="middle" fill="#000" textLength="240" lengthAdjust="spacingAndGlyphs" transform="rotate(-90 1456 1292)">Transmittance (%)</text>
<text x="1632.5" y="1555.4" font-family='"Liberation Sans", Arial, sans-serif' font-weight="700" font-size="28.4" text-anchor="start" fill="#000" >Wave number (cm<tspan font-size="15" dy="-14">-1</tspan><tspan dy="14">)</tspan></text>
<text x="1569.8" y="1431.5" font-family='"Liberation Sans", Arial, sans-serif' font-weight="700" font-size="26" text-anchor="middle" fill="#000" textLength="51" lengthAdjust="spacingAndGlyphs">O–H</text>
<text x="1666.8" y="1431.5" font-family='"Liberation Sans", Arial, sans-serif' font-weight="700" font-size="26" text-anchor="middle" fill="#000" textLength="50.3" lengthAdjust="spacingAndGlyphs">C–H</text>
<text x="1773" y="1431.5" font-family='"Liberation Sans", Arial, sans-serif' font-weight="700" font-size="26" text-anchor="middle" fill="#000" textLength="52" lengthAdjust="spacingAndGlyphs">C=O</text>
<text x="1916.1" y="1424.5" font-family='"Liberation Sans", Arial, sans-serif' font-weight="700" font-size="26" text-anchor="middle" fill="#000" textLength="51" lengthAdjust="spacingAndGlyphs">O–H</text>
<text x="1920" y="1455.8" font-family='"Liberation Sans", Arial, sans-serif' font-weight="700" font-size="26" text-anchor="middle" fill="#000" textLength="110.5" lengthAdjust="spacingAndGlyphs">&amp; C–O–H</text>
<line x1="1571" y1="1398" x2="1571" y2="1382" stroke="#000" stroke-width="2.2" />
<path d="M1564.7,1384 L1571,1372.4 L1577.3,1384Z" stroke="none" stroke-width="1" fill="#000" />
<line x1="1774.8" y1="1397.9" x2="1819" y2="1365" stroke="#000" stroke-width="2.2" />
<path d="M1828.1,1358.5 L1812.5,1361.5 L1820.5,1372Z" stroke="none" stroke-width="1" fill="#000" />
</svg></body></html>
